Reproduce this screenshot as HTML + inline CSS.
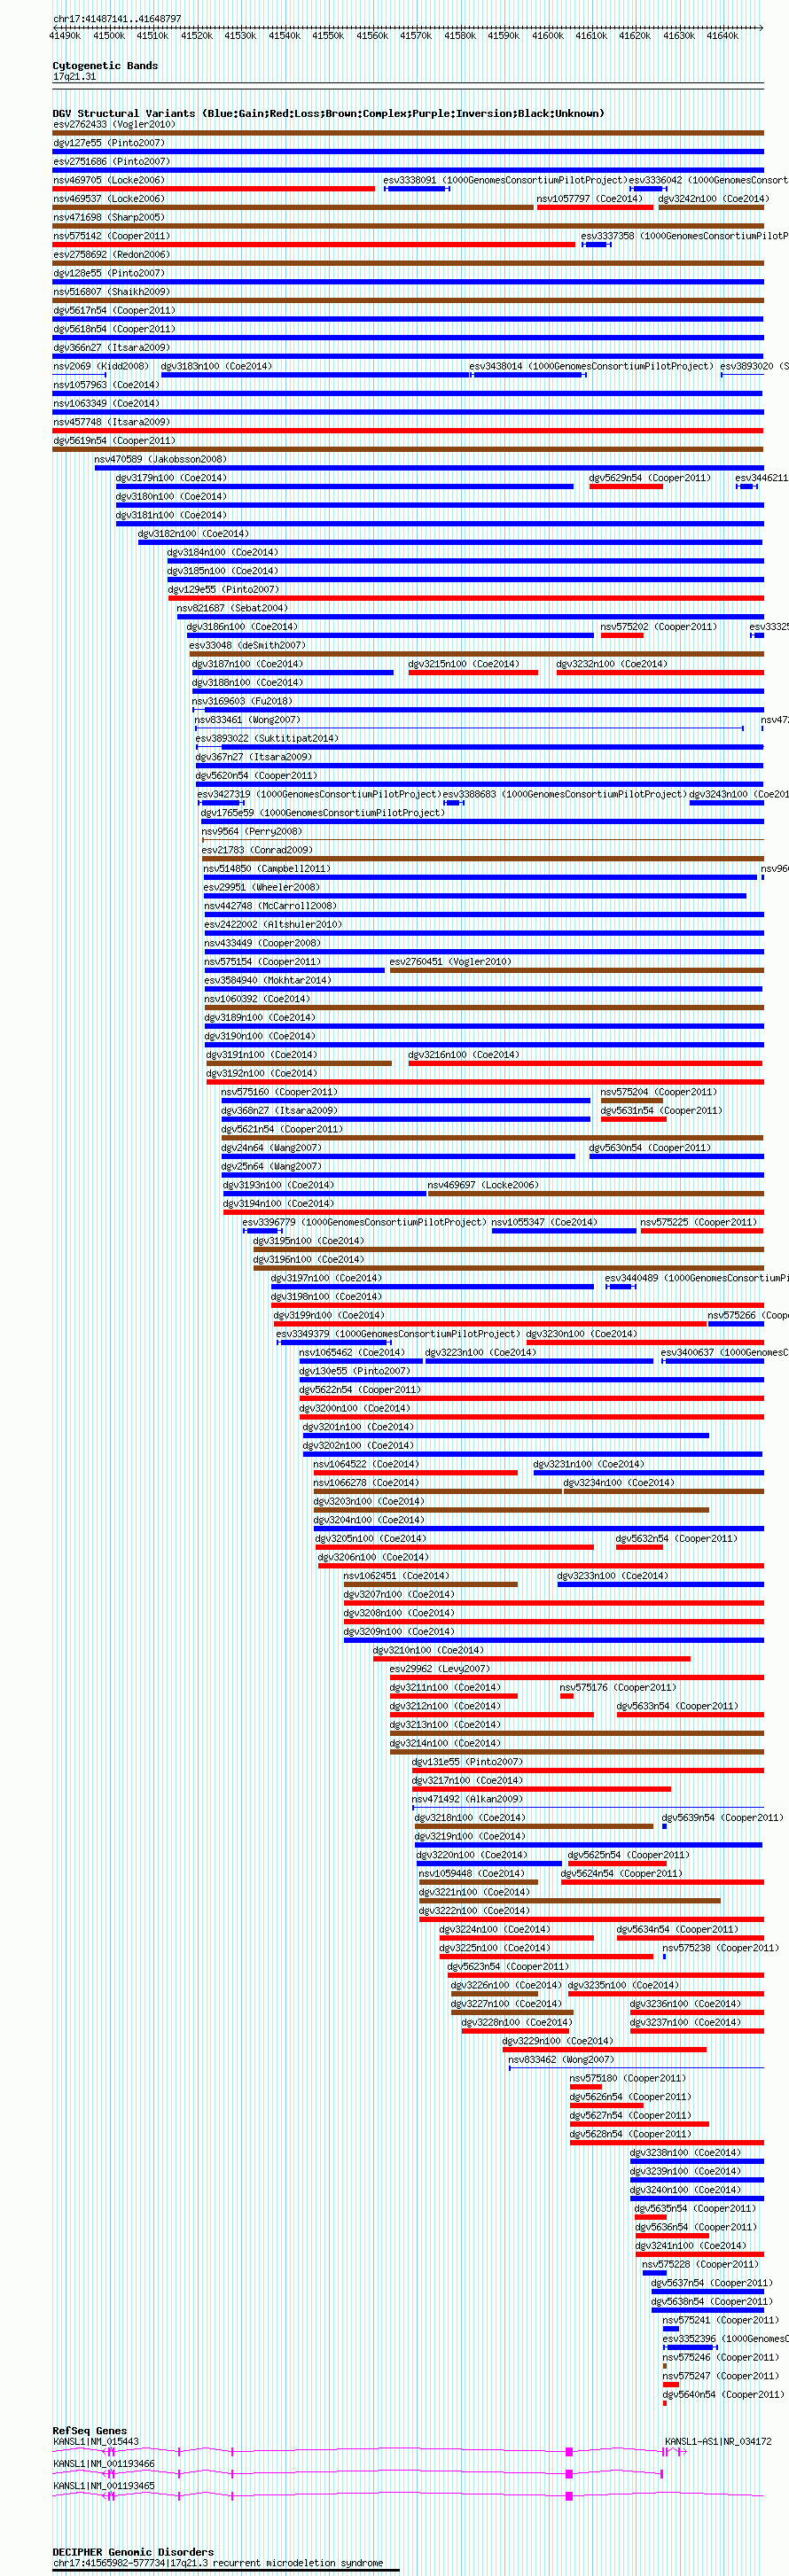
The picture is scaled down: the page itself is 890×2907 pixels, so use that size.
<!DOCTYPE html>
<html><head><meta charset="utf-8"><style>
html,body{margin:0;padding:0;background:#fbfdfb;}
svg{display:block;}
rect,path,use{shape-rendering:crispEdges;}
</style></head><body>
<svg width="890" height="2907" viewBox="0 0 890 2907">
<defs>
<path id="b40" d="M3 2h2v1h-2zM2 3h2v1h-2zM2 4h2v1h-2zM1 5h2v1h-2zM1 6h2v1h-2zM1 7h2v1h-2zM2 8h2v1h-2zM2 9h2v1h-2zM3 10h2v1h-2z"/>
<path id="b41" d="M1 2h2v1h-2zM2 3h2v1h-2zM2 4h2v1h-2zM3 5h2v1h-2zM3 6h2v1h-2zM3 7h2v1h-2zM2 8h2v1h-2zM2 9h2v1h-2zM1 10h2v1h-2z"/>
<path id="b58" d="M2 4h2v1h-2zM1 5h4v1h-4zM2 6h2v1h-2zM2 9h2v1h-2zM1 10h4v1h-4zM2 11h2v1h-2z"/>
<path id="b59" d="M2 4h2v1h-2zM1 5h4v1h-4zM2 6h2v1h-2zM2 8h3v1h-3zM2 9h3v1h-3zM2 10h2v1h-2zM1 11h2v1h-2z"/>
<path id="b66" d="M0 3h5v1h-5zM0 4h2v1h-2zM4 4h2v1h-2zM0 5h2v1h-2zM4 5h2v1h-2zM0 6h5v1h-5zM0 7h2v1h-2zM4 7h2v1h-2zM0 8h2v1h-2zM4 8h2v1h-2zM0 9h2v1h-2zM4 9h2v1h-2zM0 10h5v1h-5z"/>
<path id="b67" d="M1 3h4v1h-4zM0 4h2v1h-2zM4 4h2v1h-2zM0 5h2v1h-2zM0 6h2v1h-2zM0 7h2v1h-2zM0 8h2v1h-2zM0 9h2v1h-2zM4 9h2v1h-2zM1 10h4v1h-4z"/>
<path id="b68" d="M0 3h5v1h-5zM0 4h2v1h-2zM4 4h2v1h-2zM0 5h2v1h-2zM4 5h2v1h-2zM0 6h2v1h-2zM4 6h2v1h-2zM0 7h2v1h-2zM4 7h2v1h-2zM0 8h2v1h-2zM4 8h2v1h-2zM0 9h2v1h-2zM4 9h2v1h-2zM0 10h5v1h-5z"/>
<path id="b69" d="M0 3h6v1h-6zM0 4h2v1h-2zM0 5h2v1h-2zM0 6h5v1h-5zM0 7h2v1h-2zM0 8h2v1h-2zM0 9h2v1h-2zM0 10h6v1h-6z"/>
<path id="b71" d="M1 3h4v1h-4zM0 4h2v1h-2zM4 4h2v1h-2zM0 5h2v1h-2zM0 6h2v1h-2zM0 7h2v1h-2zM3 7h3v1h-3zM0 8h2v1h-2zM4 8h2v1h-2zM0 9h2v1h-2zM4 9h2v1h-2zM1 10h5v1h-5z"/>
<path id="b72" d="M0 3h2v1h-2zM4 3h2v1h-2zM0 4h2v1h-2zM4 4h2v1h-2zM0 5h2v1h-2zM4 5h2v1h-2zM0 6h6v1h-6zM0 7h2v1h-2zM4 7h2v1h-2zM0 8h2v1h-2zM4 8h2v1h-2zM0 9h2v1h-2zM4 9h2v1h-2zM0 10h2v1h-2zM4 10h2v1h-2z"/>
<path id="b73" d="M0 3h6v1h-6zM2 4h2v1h-2zM2 5h2v1h-2zM2 6h2v1h-2zM2 7h2v1h-2zM2 8h2v1h-2zM2 9h2v1h-2zM0 10h6v1h-6z"/>
<path id="b76" d="M0 3h2v1h-2zM0 4h2v1h-2zM0 5h2v1h-2zM0 6h2v1h-2zM0 7h2v1h-2zM0 8h2v1h-2zM0 9h2v1h-2zM0 10h6v1h-6z"/>
<path id="b80" d="M0 3h5v1h-5zM0 4h2v1h-2zM4 4h2v1h-2zM0 5h2v1h-2zM4 5h2v1h-2zM0 6h5v1h-5zM0 7h2v1h-2zM0 8h2v1h-2zM0 9h2v1h-2zM0 10h2v1h-2z"/>
<path id="b82" d="M0 3h5v1h-5zM0 4h2v1h-2zM4 4h2v1h-2zM0 5h2v1h-2zM4 5h2v1h-2zM0 6h5v1h-5zM0 7h4v1h-4zM0 8h2v1h-2zM3 8h2v1h-2zM0 9h2v1h-2zM4 9h2v1h-2zM0 10h2v1h-2zM4 10h2v1h-2z"/>
<path id="b83" d="M1 3h4v1h-4zM0 4h2v1h-2zM4 4h2v1h-2zM0 5h2v1h-2zM1 6h4v1h-4zM4 7h2v1h-2zM4 8h2v1h-2zM0 9h2v1h-2zM4 9h2v1h-2zM1 10h4v1h-4z"/>
<path id="b85" d="M0 3h2v1h-2zM4 3h2v1h-2zM0 4h2v1h-2zM4 4h2v1h-2zM0 5h2v1h-2zM4 5h2v1h-2zM0 6h2v1h-2zM4 6h2v1h-2zM0 7h2v1h-2zM4 7h2v1h-2zM0 8h2v1h-2zM4 8h2v1h-2zM0 9h2v1h-2zM4 9h2v1h-2zM1 10h4v1h-4z"/>
<path id="b86" d="M0 3h2v1h-2zM4 3h2v1h-2zM0 4h2v1h-2zM4 4h2v1h-2zM0 5h2v1h-2zM4 5h2v1h-2zM1 6h1v1h-1zM4 6h1v1h-1zM1 7h1v1h-1zM4 7h1v1h-1zM1 8h4v1h-4zM2 9h2v1h-2zM2 10h2v1h-2z"/>
<path id="b97" d="M1 5h4v1h-4zM4 6h2v1h-2zM1 7h5v1h-5zM0 8h2v1h-2zM4 8h2v1h-2zM0 9h2v1h-2zM4 9h2v1h-2zM1 10h5v1h-5z"/>
<path id="b99" d="M1 5h4v1h-4zM0 6h2v1h-2zM4 6h2v1h-2zM0 7h2v1h-2zM0 8h2v1h-2zM0 9h2v1h-2zM4 9h2v1h-2zM1 10h4v1h-4z"/>
<path id="b100" d="M4 2h2v1h-2zM4 3h2v1h-2zM4 4h2v1h-2zM1 5h5v1h-5zM0 6h2v1h-2zM4 6h2v1h-2zM0 7h2v1h-2zM4 7h2v1h-2zM0 8h2v1h-2zM4 8h2v1h-2zM0 9h2v1h-2zM4 9h2v1h-2zM1 10h5v1h-5z"/>
<path id="b101" d="M1 5h4v1h-4zM0 6h2v1h-2zM4 6h2v1h-2zM0 7h6v1h-6zM0 8h2v1h-2zM0 9h2v1h-2zM4 9h2v1h-2zM1 10h4v1h-4z"/>
<path id="b102" d="M2 2h3v1h-3zM1 3h2v1h-2zM4 3h2v1h-2zM1 4h2v1h-2zM1 5h2v1h-2zM0 6h4v1h-4zM1 7h2v1h-2zM1 8h2v1h-2zM1 9h2v1h-2zM1 10h2v1h-2z"/>
<path id="b103" d="M1 5h3v1h-3zM5 5h1v1h-1zM0 6h2v1h-2zM4 6h2v1h-2zM0 7h2v1h-2zM4 7h2v1h-2zM1 8h4v1h-4zM0 9h2v1h-2zM1 10h4v1h-4zM0 11h2v1h-2zM4 11h2v1h-2zM1 12h4v1h-4z"/>
<path id="b105" d="M2 2h2v1h-2zM2 3h2v1h-2zM1 5h3v1h-3zM2 6h2v1h-2zM2 7h2v1h-2zM2 8h2v1h-2zM2 9h2v1h-2zM0 10h6v1h-6z"/>
<path id="b107" d="M0 2h2v1h-2zM0 3h2v1h-2zM0 4h2v1h-2zM0 5h2v1h-2zM4 5h2v1h-2zM0 6h2v1h-2zM3 6h2v1h-2zM0 7h4v1h-4zM0 8h4v1h-4zM0 9h2v1h-2zM3 9h2v1h-2zM0 10h2v1h-2zM4 10h2v1h-2z"/>
<path id="b108" d="M1 2h3v1h-3zM2 3h2v1h-2zM2 4h2v1h-2zM2 5h2v1h-2zM2 6h2v1h-2zM2 7h2v1h-2zM2 8h2v1h-2zM2 9h2v1h-2zM0 10h6v1h-6z"/>
<path id="b109" d="M0 5h2v1h-2zM3 5h2v1h-2zM0 6h6v1h-6zM0 7h6v1h-6zM0 8h2v1h-2zM4 8h2v1h-2zM0 9h2v1h-2zM4 9h2v1h-2zM0 10h2v1h-2zM4 10h2v1h-2z"/>
<path id="b110" d="M0 5h5v1h-5zM0 6h2v1h-2zM4 6h2v1h-2zM0 7h2v1h-2zM4 7h2v1h-2zM0 8h2v1h-2zM4 8h2v1h-2zM0 9h2v1h-2zM4 9h2v1h-2zM0 10h2v1h-2zM4 10h2v1h-2z"/>
<path id="b111" d="M1 5h4v1h-4zM0 6h2v1h-2zM4 6h2v1h-2zM0 7h2v1h-2zM4 7h2v1h-2zM0 8h2v1h-2zM4 8h2v1h-2zM0 9h2v1h-2zM4 9h2v1h-2zM1 10h4v1h-4z"/>
<path id="b112" d="M0 5h5v1h-5zM0 6h2v1h-2zM4 6h2v1h-2zM0 7h2v1h-2zM4 7h2v1h-2zM0 8h2v1h-2zM4 8h2v1h-2zM0 9h5v1h-5zM0 10h2v1h-2zM0 11h2v1h-2zM0 12h2v1h-2z"/>
<path id="b113" d="M1 5h5v1h-5zM0 6h2v1h-2zM4 6h2v1h-2zM0 7h2v1h-2zM4 7h2v1h-2zM0 8h2v1h-2zM4 8h2v1h-2zM1 9h5v1h-5zM4 10h2v1h-2zM4 11h2v1h-2zM4 12h2v1h-2z"/>
<path id="b114" d="M0 5h5v1h-5zM0 6h2v1h-2zM4 6h2v1h-2zM0 7h2v1h-2zM0 8h2v1h-2zM0 9h2v1h-2zM0 10h2v1h-2z"/>
<path id="b115" d="M1 5h4v1h-4zM0 6h2v1h-2zM4 6h2v1h-2zM1 7h2v1h-2zM3 8h2v1h-2zM0 9h2v1h-2zM4 9h2v1h-2zM1 10h4v1h-4z"/>
<path id="b116" d="M1 3h2v1h-2zM1 4h2v1h-2zM0 5h5v1h-5zM1 6h2v1h-2zM1 7h2v1h-2zM1 8h2v1h-2zM1 9h2v1h-2zM4 9h2v1h-2zM2 10h3v1h-3z"/>
<path id="b117" d="M0 5h2v1h-2zM4 5h2v1h-2zM0 6h2v1h-2zM4 6h2v1h-2zM0 7h2v1h-2zM4 7h2v1h-2zM0 8h2v1h-2zM4 8h2v1h-2zM0 9h2v1h-2zM4 9h2v1h-2zM1 10h5v1h-5z"/>
<path id="b118" d="M0 5h2v1h-2zM4 5h2v1h-2zM0 6h2v1h-2zM4 6h2v1h-2zM0 7h2v1h-2zM4 7h2v1h-2zM1 8h4v1h-4zM1 9h4v1h-4zM2 10h2v1h-2z"/>
<path id="b119" d="M0 5h2v1h-2zM4 5h2v1h-2zM0 6h2v1h-2zM4 6h2v1h-2zM0 7h2v1h-2zM4 7h2v1h-2zM0 8h6v1h-6zM0 9h6v1h-6zM1 10h1v1h-1zM4 10h1v1h-1z"/>
<path id="b120" d="M0 5h2v1h-2zM4 5h2v1h-2zM0 6h2v1h-2zM4 6h2v1h-2zM1 7h4v1h-4zM1 8h4v1h-4zM0 9h2v1h-2zM4 9h2v1h-2zM0 10h2v1h-2zM4 10h2v1h-2z"/>
<path id="b121" d="M0 5h2v1h-2zM4 5h2v1h-2zM0 6h2v1h-2zM4 6h2v1h-2zM0 7h2v1h-2zM4 7h2v1h-2zM0 8h2v1h-2zM4 8h2v1h-2zM1 9h5v1h-5zM4 10h2v1h-2zM4 11h2v1h-2zM1 12h4v1h-4z"/>
<path id="s40" d="M3 3h1v1h-1zM2 4h1v1h-1zM1 5h1v1h-1zM1 6h1v1h-1zM1 7h1v1h-1zM1 8h1v1h-1zM2 9h1v1h-1zM3 10h1v1h-1z"/>
<path id="s41" d="M1 3h1v1h-1zM2 4h1v1h-1zM3 5h1v1h-1zM3 6h1v1h-1zM3 7h1v1h-1zM3 8h1v1h-1zM2 9h1v1h-1zM1 10h1v1h-1z"/>
<path id="s45" d="M0 7h5v1h-5z"/>
<path id="s46" d="M2 9h2v1h-2zM2 10h2v1h-2z"/>
<path id="s48" d="M2 3h1v1h-1zM1 4h1v1h-1zM3 4h1v1h-1zM0 5h1v1h-1zM4 5h1v1h-1zM0 6h1v1h-1zM4 6h1v1h-1zM0 7h1v1h-1zM4 7h1v1h-1zM0 8h1v1h-1zM4 8h1v1h-1zM1 9h1v1h-1zM3 9h1v1h-1zM2 10h1v1h-1z"/>
<path id="s49" d="M2 3h1v1h-1zM1 4h2v1h-2zM0 5h1v1h-1zM2 5h1v1h-1zM2 6h1v1h-1zM2 7h1v1h-1zM2 8h1v1h-1zM2 9h1v1h-1zM0 10h5v1h-5z"/>
<path id="s50" d="M1 3h3v1h-3zM0 4h1v1h-1zM4 4h1v1h-1zM4 5h1v1h-1zM3 6h1v1h-1zM2 7h1v1h-1zM1 8h1v1h-1zM0 9h1v1h-1zM0 10h5v1h-5z"/>
<path id="s51" d="M1 3h3v1h-3zM0 4h1v1h-1zM4 4h1v1h-1zM4 5h1v1h-1zM2 6h2v1h-2zM4 7h1v1h-1zM4 8h1v1h-1zM0 9h1v1h-1zM4 9h1v1h-1zM1 10h3v1h-3z"/>
<path id="s52" d="M3 3h1v1h-1zM2 4h2v1h-2zM1 5h1v1h-1zM3 5h1v1h-1zM0 6h1v1h-1zM3 6h1v1h-1zM0 7h1v1h-1zM3 7h1v1h-1zM0 8h5v1h-5zM3 9h1v1h-1zM3 10h1v1h-1z"/>
<path id="s53" d="M0 3h5v1h-5zM0 4h1v1h-1zM0 5h4v1h-4zM0 6h1v1h-1zM4 6h1v1h-1zM4 7h1v1h-1zM4 8h1v1h-1zM0 9h1v1h-1zM4 9h1v1h-1zM1 10h3v1h-3z"/>
<path id="s54" d="M2 3h3v1h-3zM1 4h1v1h-1zM0 5h1v1h-1zM0 6h4v1h-4zM0 7h1v1h-1zM4 7h1v1h-1zM0 8h1v1h-1zM4 8h1v1h-1zM0 9h1v1h-1zM4 9h1v1h-1zM1 10h3v1h-3z"/>
<path id="s55" d="M0 3h5v1h-5zM4 4h1v1h-1zM3 5h1v1h-1zM3 6h1v1h-1zM2 7h1v1h-1zM2 8h1v1h-1zM1 9h1v1h-1zM1 10h1v1h-1z"/>
<path id="s56" d="M1 3h3v1h-3zM0 4h1v1h-1zM4 4h1v1h-1zM0 5h1v1h-1zM4 5h1v1h-1zM1 6h3v1h-3zM0 7h1v1h-1zM4 7h1v1h-1zM0 8h1v1h-1zM4 8h1v1h-1zM0 9h1v1h-1zM4 9h1v1h-1zM1 10h3v1h-3z"/>
<path id="s57" d="M1 3h3v1h-3zM0 4h1v1h-1zM4 4h1v1h-1zM0 5h1v1h-1zM4 5h1v1h-1zM0 6h1v1h-1zM4 6h1v1h-1zM1 7h4v1h-4zM4 8h1v1h-1zM3 9h1v1h-1zM0 10h3v1h-3z"/>
<path id="s58" d="M2 5h2v1h-2zM2 6h2v1h-2zM2 9h2v1h-2zM2 10h2v1h-2z"/>
<path id="s65" d="M2 3h1v1h-1zM1 4h1v1h-1zM3 4h1v1h-1zM0 5h1v1h-1zM4 5h1v1h-1zM0 6h1v1h-1zM4 6h1v1h-1zM0 7h5v1h-5zM0 8h1v1h-1zM4 8h1v1h-1zM0 9h1v1h-1zM4 9h1v1h-1zM0 10h1v1h-1zM4 10h1v1h-1z"/>
<path id="s67" d="M1 3h3v1h-3zM0 4h1v1h-1zM4 4h1v1h-1zM0 5h1v1h-1zM0 6h1v1h-1zM0 7h1v1h-1zM0 8h1v1h-1zM0 9h1v1h-1zM4 9h1v1h-1zM1 10h3v1h-3z"/>
<path id="s70" d="M0 3h5v1h-5zM0 4h1v1h-1zM0 5h1v1h-1zM0 6h4v1h-4zM0 7h1v1h-1zM0 8h1v1h-1zM0 9h1v1h-1zM0 10h1v1h-1z"/>
<path id="s71" d="M1 3h3v1h-3zM0 4h1v1h-1zM4 4h1v1h-1zM0 5h1v1h-1zM0 6h1v1h-1zM0 7h1v1h-1zM3 7h2v1h-2zM0 8h1v1h-1zM4 8h1v1h-1zM0 9h1v1h-1zM4 9h1v1h-1zM1 10h3v1h-3z"/>
<path id="s73" d="M1 3h3v1h-3zM2 4h1v1h-1zM2 5h1v1h-1zM2 6h1v1h-1zM2 7h1v1h-1zM2 8h1v1h-1zM2 9h1v1h-1zM1 10h3v1h-3z"/>
<path id="s74" d="M3 3h1v1h-1zM3 4h1v1h-1zM3 5h1v1h-1zM3 6h1v1h-1zM3 7h1v1h-1zM3 8h1v1h-1zM0 9h1v1h-1zM3 9h1v1h-1zM1 10h2v1h-2z"/>
<path id="s75" d="M0 3h1v1h-1zM4 3h1v1h-1zM0 4h1v1h-1zM4 4h1v1h-1zM0 5h1v1h-1zM3 5h1v1h-1zM0 6h1v1h-1zM2 6h1v1h-1zM0 7h3v1h-3zM0 8h1v1h-1zM3 8h1v1h-1zM0 9h1v1h-1zM4 9h1v1h-1zM0 10h1v1h-1zM4 10h1v1h-1z"/>
<path id="s76" d="M0 3h1v1h-1zM0 4h1v1h-1zM0 5h1v1h-1zM0 6h1v1h-1zM0 7h1v1h-1zM0 8h1v1h-1zM0 9h1v1h-1zM0 10h5v1h-5z"/>
<path id="s77" d="M0 3h1v1h-1zM4 3h1v1h-1zM0 4h2v1h-2zM3 4h2v1h-2zM0 5h1v1h-1zM2 5h1v1h-1zM4 5h1v1h-1zM0 6h1v1h-1zM2 6h1v1h-1zM4 6h1v1h-1zM0 7h1v1h-1zM4 7h1v1h-1zM0 8h1v1h-1zM4 8h1v1h-1zM0 9h1v1h-1zM4 9h1v1h-1zM0 10h1v1h-1zM4 10h1v1h-1z"/>
<path id="s78" d="M0 3h1v1h-1zM4 3h1v1h-1zM0 4h2v1h-2zM4 4h1v1h-1zM0 5h2v1h-2zM4 5h1v1h-1zM0 6h1v1h-1zM2 6h1v1h-1zM4 6h1v1h-1zM0 7h1v1h-1zM2 7h1v1h-1zM4 7h1v1h-1zM0 8h1v1h-1zM3 8h2v1h-2zM0 9h1v1h-1zM3 9h2v1h-2zM0 10h1v1h-1zM4 10h1v1h-1z"/>
<path id="s80" d="M0 3h4v1h-4zM0 4h1v1h-1zM4 4h1v1h-1zM0 5h1v1h-1zM4 5h1v1h-1zM0 6h1v1h-1zM4 6h1v1h-1zM0 7h4v1h-4zM0 8h1v1h-1zM0 9h1v1h-1zM0 10h1v1h-1z"/>
<path id="s82" d="M0 3h4v1h-4zM0 4h1v1h-1zM4 4h1v1h-1zM0 5h1v1h-1zM4 5h1v1h-1zM0 6h1v1h-1zM4 6h1v1h-1zM0 7h4v1h-4zM0 8h1v1h-1zM2 8h1v1h-1zM0 9h1v1h-1zM3 9h1v1h-1zM0 10h1v1h-1zM4 10h1v1h-1z"/>
<path id="s83" d="M1 3h3v1h-3zM0 4h1v1h-1zM4 4h1v1h-1zM0 5h1v1h-1zM1 6h2v1h-2zM3 7h1v1h-1zM4 8h1v1h-1zM0 9h1v1h-1zM4 9h1v1h-1zM1 10h3v1h-3z"/>
<path id="s86" d="M0 3h1v1h-1zM4 3h1v1h-1zM0 4h1v1h-1zM4 4h1v1h-1zM0 5h1v1h-1zM4 5h1v1h-1zM1 6h1v1h-1zM3 6h1v1h-1zM1 7h1v1h-1zM3 7h1v1h-1zM1 8h1v1h-1zM3 8h1v1h-1zM2 9h1v1h-1zM2 10h1v1h-1z"/>
<path id="s87" d="M0 3h1v1h-1zM4 3h1v1h-1zM0 4h1v1h-1zM4 4h1v1h-1zM0 5h1v1h-1zM2 5h1v1h-1zM4 5h1v1h-1zM0 6h1v1h-1zM2 6h1v1h-1zM4 6h1v1h-1zM0 7h1v1h-1zM2 7h1v1h-1zM4 7h1v1h-1zM0 8h1v1h-1zM2 8h1v1h-1zM4 8h1v1h-1zM0 9h2v1h-2zM3 9h2v1h-2zM1 10h1v1h-1zM3 10h1v1h-1z"/>
<path id="s95" d="M0 11h5v1h-5z"/>
<path id="s97" d="M1 5h3v1h-3zM4 6h1v1h-1zM1 7h4v1h-4zM0 8h1v1h-1zM4 8h1v1h-1zM0 9h1v1h-1zM3 9h2v1h-2zM1 10h2v1h-2zM4 10h1v1h-1z"/>
<path id="s98" d="M0 3h1v1h-1zM0 4h1v1h-1zM0 5h1v1h-1zM2 5h2v1h-2zM0 6h2v1h-2zM4 6h1v1h-1zM0 7h1v1h-1zM4 7h1v1h-1zM0 8h1v1h-1zM4 8h1v1h-1zM0 9h2v1h-2zM4 9h1v1h-1zM0 10h1v1h-1zM2 10h2v1h-2z"/>
<path id="s99" d="M1 5h3v1h-3zM0 6h1v1h-1zM4 6h1v1h-1zM0 7h1v1h-1zM0 8h1v1h-1zM0 9h1v1h-1zM4 9h1v1h-1zM1 10h3v1h-3z"/>
<path id="s100" d="M4 3h1v1h-1zM4 4h1v1h-1zM1 5h2v1h-2zM4 5h1v1h-1zM0 6h1v1h-1zM3 6h2v1h-2zM0 7h1v1h-1zM4 7h1v1h-1zM0 8h1v1h-1zM4 8h1v1h-1zM0 9h1v1h-1zM3 9h2v1h-2zM1 10h2v1h-2zM4 10h1v1h-1z"/>
<path id="s101" d="M1 5h3v1h-3zM0 6h1v1h-1zM4 6h1v1h-1zM0 7h5v1h-5zM0 8h1v1h-1zM0 9h1v1h-1zM1 10h3v1h-3z"/>
<path id="s103" d="M4 4h1v1h-1zM1 5h3v1h-3zM0 6h1v1h-1zM4 6h1v1h-1zM0 7h1v1h-1zM4 7h1v1h-1zM1 8h3v1h-3zM0 9h1v1h-1zM1 10h3v1h-3zM0 11h1v1h-1zM4 11h1v1h-1zM1 12h3v1h-3z"/>
<path id="s104" d="M0 3h1v1h-1zM0 4h1v1h-1zM0 5h1v1h-1zM2 5h2v1h-2zM0 6h2v1h-2zM4 6h1v1h-1zM0 7h1v1h-1zM4 7h1v1h-1zM0 8h1v1h-1zM4 8h1v1h-1zM0 9h1v1h-1zM4 9h1v1h-1zM0 10h1v1h-1zM4 10h1v1h-1z"/>
<path id="s105" d="M2 3h1v1h-1zM1 5h2v1h-2zM2 6h1v1h-1zM2 7h1v1h-1zM2 8h1v1h-1zM2 9h1v1h-1zM1 10h3v1h-3z"/>
<path id="s106" d="M3 3h1v1h-1zM2 5h2v1h-2zM3 6h1v1h-1zM3 7h1v1h-1zM3 8h1v1h-1zM3 9h1v1h-1zM0 10h1v1h-1zM3 10h1v1h-1zM0 11h1v1h-1zM3 11h1v1h-1zM1 12h2v1h-2z"/>
<path id="s107" d="M0 3h1v1h-1zM0 4h1v1h-1zM0 5h1v1h-1zM3 5h1v1h-1zM0 6h1v1h-1zM2 6h1v1h-1zM0 7h2v1h-2zM0 8h1v1h-1zM2 8h1v1h-1zM0 9h1v1h-1zM3 9h1v1h-1zM0 10h1v1h-1zM4 10h1v1h-1z"/>
<path id="s108" d="M1 3h2v1h-2zM2 4h1v1h-1zM2 5h1v1h-1zM2 6h1v1h-1zM2 7h1v1h-1zM2 8h1v1h-1zM2 9h1v1h-1zM1 10h3v1h-3z"/>
<path id="s109" d="M0 5h2v1h-2zM3 5h1v1h-1zM0 6h1v1h-1zM2 6h1v1h-1zM4 6h1v1h-1zM0 7h1v1h-1zM2 7h1v1h-1zM4 7h1v1h-1zM0 8h1v1h-1zM2 8h1v1h-1zM4 8h1v1h-1zM0 9h1v1h-1zM2 9h1v1h-1zM4 9h1v1h-1zM0 10h1v1h-1zM4 10h1v1h-1z"/>
<path id="s110" d="M0 5h1v1h-1zM2 5h2v1h-2zM0 6h2v1h-2zM4 6h1v1h-1zM0 7h1v1h-1zM4 7h1v1h-1zM0 8h1v1h-1zM4 8h1v1h-1zM0 9h1v1h-1zM4 9h1v1h-1zM0 10h1v1h-1zM4 10h1v1h-1z"/>
<path id="s111" d="M1 5h3v1h-3zM0 6h1v1h-1zM4 6h1v1h-1zM0 7h1v1h-1zM4 7h1v1h-1zM0 8h1v1h-1zM4 8h1v1h-1zM0 9h1v1h-1zM4 9h1v1h-1zM1 10h3v1h-3z"/>
<path id="s112" d="M0 5h1v1h-1zM2 5h2v1h-2zM0 6h2v1h-2zM4 6h1v1h-1zM0 7h1v1h-1zM4 7h1v1h-1zM0 8h1v1h-1zM4 8h1v1h-1zM0 9h2v1h-2zM4 9h1v1h-1zM0 10h1v1h-1zM2 10h2v1h-2zM0 11h1v1h-1zM0 12h1v1h-1z"/>
<path id="s113" d="M1 5h2v1h-2zM4 5h1v1h-1zM0 6h1v1h-1zM3 6h2v1h-2zM0 7h1v1h-1zM4 7h1v1h-1zM0 8h1v1h-1zM4 8h1v1h-1zM0 9h1v1h-1zM3 9h2v1h-2zM1 10h2v1h-2zM4 10h1v1h-1zM4 11h1v1h-1zM4 12h1v1h-1z"/>
<path id="s114" d="M0 5h1v1h-1zM2 5h2v1h-2zM0 6h2v1h-2zM4 6h1v1h-1zM0 7h1v1h-1zM0 8h1v1h-1zM0 9h1v1h-1zM0 10h1v1h-1z"/>
<path id="s115" d="M1 5h3v1h-3zM0 6h1v1h-1zM4 6h1v1h-1zM1 7h2v1h-2zM3 8h1v1h-1zM0 9h1v1h-1zM4 9h1v1h-1zM1 10h3v1h-3z"/>
<path id="s116" d="M1 3h1v1h-1zM1 4h1v1h-1zM0 5h4v1h-4zM1 6h1v1h-1zM1 7h1v1h-1zM1 8h1v1h-1zM1 9h1v1h-1zM4 9h1v1h-1zM2 10h2v1h-2z"/>
<path id="s117" d="M0 5h1v1h-1zM4 5h1v1h-1zM0 6h1v1h-1zM4 6h1v1h-1zM0 7h1v1h-1zM4 7h1v1h-1zM0 8h1v1h-1zM4 8h1v1h-1zM0 9h1v1h-1zM3 9h2v1h-2zM1 10h2v1h-2zM4 10h1v1h-1z"/>
<path id="s118" d="M0 5h1v1h-1zM4 5h1v1h-1zM0 6h1v1h-1zM4 6h1v1h-1zM0 7h1v1h-1zM4 7h1v1h-1zM1 8h1v1h-1zM3 8h1v1h-1zM1 9h1v1h-1zM3 9h1v1h-1zM2 10h1v1h-1z"/>
<path id="s121" d="M0 5h1v1h-1zM4 5h1v1h-1zM0 6h1v1h-1zM4 6h1v1h-1zM0 7h1v1h-1zM4 7h1v1h-1zM0 8h1v1h-1zM3 8h2v1h-2zM1 9h2v1h-2zM4 9h1v1h-1zM4 10h1v1h-1zM3 11h1v1h-1zM0 12h3v1h-3z"/>
<path id="s124" d="M2 3h1v1h-1zM2 4h1v1h-1zM2 5h1v1h-1zM2 6h1v1h-1zM2 7h1v1h-1zM2 8h1v1h-1zM2 9h1v1h-1zM2 10h1v1h-1zM2 11h1v1h-1z"/>
</defs>
<rect x="0" y="0" width="890" height="2907" fill="#fbfdfb"/>
<rect x="59" y="0" width="1" height="2907" fill="#afeeee"/>
<rect x="64" y="0" width="1" height="2907" fill="#afeeee"/>
<rect x="69" y="0" width="1" height="2907" fill="#afeeee"/>
<rect x="74" y="0" width="1" height="2907" fill="#87ceeb"/>
<rect x="79" y="0" width="1" height="2907" fill="#afeeee"/>
<rect x="84" y="0" width="1" height="2907" fill="#afeeee"/>
<rect x="89" y="0" width="1" height="2907" fill="#afeeee"/>
<rect x="94" y="0" width="1" height="2907" fill="#afeeee"/>
<rect x="99" y="0" width="1" height="2907" fill="#afeeee"/>
<rect x="104" y="0" width="1" height="2907" fill="#afeeee"/>
<rect x="109" y="0" width="1" height="2907" fill="#afeeee"/>
<rect x="114" y="0" width="1" height="2907" fill="#afeeee"/>
<rect x="119" y="0" width="1" height="2907" fill="#afeeee"/>
<rect x="124" y="0" width="1" height="2907" fill="#87ceeb"/>
<rect x="129" y="0" width="1" height="2907" fill="#afeeee"/>
<rect x="134" y="0" width="1" height="2907" fill="#afeeee"/>
<rect x="138" y="0" width="1" height="2907" fill="#afeeee"/>
<rect x="143" y="0" width="1" height="2907" fill="#afeeee"/>
<rect x="148" y="0" width="1" height="2907" fill="#afeeee"/>
<rect x="153" y="0" width="1" height="2907" fill="#afeeee"/>
<rect x="158" y="0" width="1" height="2907" fill="#afeeee"/>
<rect x="163" y="0" width="1" height="2907" fill="#afeeee"/>
<rect x="168" y="0" width="1" height="2907" fill="#afeeee"/>
<rect x="173" y="0" width="1" height="2907" fill="#87ceeb"/>
<rect x="178" y="0" width="1" height="2907" fill="#afeeee"/>
<rect x="183" y="0" width="1" height="2907" fill="#afeeee"/>
<rect x="188" y="0" width="1" height="2907" fill="#afeeee"/>
<rect x="193" y="0" width="1" height="2907" fill="#afeeee"/>
<rect x="198" y="0" width="1" height="2907" fill="#afeeee"/>
<rect x="203" y="0" width="1" height="2907" fill="#afeeee"/>
<rect x="208" y="0" width="1" height="2907" fill="#afeeee"/>
<rect x="213" y="0" width="1" height="2907" fill="#afeeee"/>
<rect x="218" y="0" width="1" height="2907" fill="#afeeee"/>
<rect x="223" y="0" width="1" height="2907" fill="#87ceeb"/>
<rect x="228" y="0" width="1" height="2907" fill="#afeeee"/>
<rect x="233" y="0" width="1" height="2907" fill="#afeeee"/>
<rect x="237" y="0" width="1" height="2907" fill="#afeeee"/>
<rect x="242" y="0" width="1" height="2907" fill="#afeeee"/>
<rect x="247" y="0" width="1" height="2907" fill="#afeeee"/>
<rect x="252" y="0" width="1" height="2907" fill="#afeeee"/>
<rect x="257" y="0" width="1" height="2907" fill="#afeeee"/>
<rect x="262" y="0" width="1" height="2907" fill="#afeeee"/>
<rect x="267" y="0" width="1" height="2907" fill="#afeeee"/>
<rect x="272" y="0" width="1" height="2907" fill="#87ceeb"/>
<rect x="277" y="0" width="1" height="2907" fill="#afeeee"/>
<rect x="282" y="0" width="1" height="2907" fill="#afeeee"/>
<rect x="287" y="0" width="1" height="2907" fill="#afeeee"/>
<rect x="292" y="0" width="1" height="2907" fill="#afeeee"/>
<rect x="297" y="0" width="1" height="2907" fill="#afeeee"/>
<rect x="302" y="0" width="1" height="2907" fill="#afeeee"/>
<rect x="307" y="0" width="1" height="2907" fill="#afeeee"/>
<rect x="312" y="0" width="1" height="2907" fill="#afeeee"/>
<rect x="317" y="0" width="1" height="2907" fill="#afeeee"/>
<rect x="322" y="0" width="1" height="2907" fill="#87ceeb"/>
<rect x="327" y="0" width="1" height="2907" fill="#afeeee"/>
<rect x="331" y="0" width="1" height="2907" fill="#afeeee"/>
<rect x="336" y="0" width="1" height="2907" fill="#afeeee"/>
<rect x="341" y="0" width="1" height="2907" fill="#afeeee"/>
<rect x="346" y="0" width="1" height="2907" fill="#afeeee"/>
<rect x="351" y="0" width="1" height="2907" fill="#afeeee"/>
<rect x="356" y="0" width="1" height="2907" fill="#afeeee"/>
<rect x="361" y="0" width="1" height="2907" fill="#afeeee"/>
<rect x="366" y="0" width="1" height="2907" fill="#afeeee"/>
<rect x="371" y="0" width="1" height="2907" fill="#87ceeb"/>
<rect x="376" y="0" width="1" height="2907" fill="#afeeee"/>
<rect x="381" y="0" width="1" height="2907" fill="#afeeee"/>
<rect x="386" y="0" width="1" height="2907" fill="#afeeee"/>
<rect x="391" y="0" width="1" height="2907" fill="#afeeee"/>
<rect x="396" y="0" width="1" height="2907" fill="#afeeee"/>
<rect x="401" y="0" width="1" height="2907" fill="#afeeee"/>
<rect x="406" y="0" width="1" height="2907" fill="#afeeee"/>
<rect x="411" y="0" width="1" height="2907" fill="#afeeee"/>
<rect x="416" y="0" width="1" height="2907" fill="#afeeee"/>
<rect x="421" y="0" width="1" height="2907" fill="#87ceeb"/>
<rect x="426" y="0" width="1" height="2907" fill="#afeeee"/>
<rect x="430" y="0" width="1" height="2907" fill="#afeeee"/>
<rect x="435" y="0" width="1" height="2907" fill="#afeeee"/>
<rect x="440" y="0" width="1" height="2907" fill="#afeeee"/>
<rect x="445" y="0" width="1" height="2907" fill="#afeeee"/>
<rect x="450" y="0" width="1" height="2907" fill="#afeeee"/>
<rect x="455" y="0" width="1" height="2907" fill="#afeeee"/>
<rect x="460" y="0" width="1" height="2907" fill="#afeeee"/>
<rect x="465" y="0" width="1" height="2907" fill="#afeeee"/>
<rect x="470" y="0" width="1" height="2907" fill="#87ceeb"/>
<rect x="475" y="0" width="1" height="2907" fill="#afeeee"/>
<rect x="480" y="0" width="1" height="2907" fill="#afeeee"/>
<rect x="485" y="0" width="1" height="2907" fill="#afeeee"/>
<rect x="490" y="0" width="1" height="2907" fill="#afeeee"/>
<rect x="495" y="0" width="1" height="2907" fill="#afeeee"/>
<rect x="500" y="0" width="1" height="2907" fill="#afeeee"/>
<rect x="505" y="0" width="1" height="2907" fill="#afeeee"/>
<rect x="510" y="0" width="1" height="2907" fill="#afeeee"/>
<rect x="515" y="0" width="1" height="2907" fill="#afeeee"/>
<rect x="520" y="0" width="1" height="2907" fill="#87ceeb"/>
<rect x="524" y="0" width="1" height="2907" fill="#afeeee"/>
<rect x="529" y="0" width="1" height="2907" fill="#afeeee"/>
<rect x="534" y="0" width="1" height="2907" fill="#afeeee"/>
<rect x="539" y="0" width="1" height="2907" fill="#afeeee"/>
<rect x="544" y="0" width="1" height="2907" fill="#afeeee"/>
<rect x="549" y="0" width="1" height="2907" fill="#afeeee"/>
<rect x="554" y="0" width="1" height="2907" fill="#afeeee"/>
<rect x="559" y="0" width="1" height="2907" fill="#afeeee"/>
<rect x="564" y="0" width="1" height="2907" fill="#afeeee"/>
<rect x="569" y="0" width="1" height="2907" fill="#87ceeb"/>
<rect x="574" y="0" width="1" height="2907" fill="#afeeee"/>
<rect x="579" y="0" width="1" height="2907" fill="#afeeee"/>
<rect x="584" y="0" width="1" height="2907" fill="#afeeee"/>
<rect x="589" y="0" width="1" height="2907" fill="#afeeee"/>
<rect x="594" y="0" width="1" height="2907" fill="#afeeee"/>
<rect x="599" y="0" width="1" height="2907" fill="#afeeee"/>
<rect x="604" y="0" width="1" height="2907" fill="#afeeee"/>
<rect x="609" y="0" width="1" height="2907" fill="#afeeee"/>
<rect x="614" y="0" width="1" height="2907" fill="#afeeee"/>
<rect x="619" y="0" width="1" height="2907" fill="#87ceeb"/>
<rect x="623" y="0" width="1" height="2907" fill="#afeeee"/>
<rect x="628" y="0" width="1" height="2907" fill="#afeeee"/>
<rect x="633" y="0" width="1" height="2907" fill="#afeeee"/>
<rect x="638" y="0" width="1" height="2907" fill="#afeeee"/>
<rect x="643" y="0" width="1" height="2907" fill="#afeeee"/>
<rect x="648" y="0" width="1" height="2907" fill="#afeeee"/>
<rect x="653" y="0" width="1" height="2907" fill="#afeeee"/>
<rect x="658" y="0" width="1" height="2907" fill="#afeeee"/>
<rect x="663" y="0" width="1" height="2907" fill="#afeeee"/>
<rect x="668" y="0" width="1" height="2907" fill="#87ceeb"/>
<rect x="673" y="0" width="1" height="2907" fill="#afeeee"/>
<rect x="678" y="0" width="1" height="2907" fill="#afeeee"/>
<rect x="683" y="0" width="1" height="2907" fill="#afeeee"/>
<rect x="688" y="0" width="1" height="2907" fill="#afeeee"/>
<rect x="693" y="0" width="1" height="2907" fill="#afeeee"/>
<rect x="698" y="0" width="1" height="2907" fill="#afeeee"/>
<rect x="703" y="0" width="1" height="2907" fill="#afeeee"/>
<rect x="708" y="0" width="1" height="2907" fill="#afeeee"/>
<rect x="713" y="0" width="1" height="2907" fill="#afeeee"/>
<rect x="717" y="0" width="1" height="2907" fill="#87ceeb"/>
<rect x="722" y="0" width="1" height="2907" fill="#afeeee"/>
<rect x="727" y="0" width="1" height="2907" fill="#afeeee"/>
<rect x="732" y="0" width="1" height="2907" fill="#afeeee"/>
<rect x="737" y="0" width="1" height="2907" fill="#afeeee"/>
<rect x="742" y="0" width="1" height="2907" fill="#afeeee"/>
<rect x="747" y="0" width="1" height="2907" fill="#afeeee"/>
<rect x="752" y="0" width="1" height="2907" fill="#afeeee"/>
<rect x="757" y="0" width="1" height="2907" fill="#afeeee"/>
<rect x="762" y="0" width="1" height="2907" fill="#afeeee"/>
<rect x="767" y="0" width="1" height="2907" fill="#87ceeb"/>
<rect x="772" y="0" width="1" height="2907" fill="#afeeee"/>
<rect x="777" y="0" width="1" height="2907" fill="#afeeee"/>
<rect x="782" y="0" width="1" height="2907" fill="#afeeee"/>
<rect x="787" y="0" width="1" height="2907" fill="#afeeee"/>
<rect x="792" y="0" width="1" height="2907" fill="#afeeee"/>
<rect x="797" y="0" width="1" height="2907" fill="#afeeee"/>
<rect x="802" y="0" width="1" height="2907" fill="#afeeee"/>
<rect x="807" y="0" width="1" height="2907" fill="#afeeee"/>
<rect x="812" y="0" width="1" height="2907" fill="#afeeee"/>
<rect x="816" y="0" width="1" height="2907" fill="#87ceeb"/>
<rect x="821" y="0" width="1" height="2907" fill="#afeeee"/>
<rect x="826" y="0" width="1" height="2907" fill="#afeeee"/>
<rect x="831" y="0" width="1" height="2907" fill="#afeeee"/>
<rect x="836" y="0" width="1" height="2907" fill="#afeeee"/>
<rect x="841" y="0" width="1" height="2907" fill="#afeeee"/>
<rect x="846" y="0" width="1" height="2907" fill="#afeeee"/>
<rect x="851" y="0" width="1" height="2907" fill="#afeeee"/>
<rect x="856" y="0" width="1" height="2907" fill="#afeeee"/>
<use href="#s99" x="61" y="14"/>
<use href="#s104" x="67" y="14"/>
<use href="#s114" x="73" y="14"/>
<use href="#s49" x="79" y="14"/>
<use href="#s55" x="85" y="14"/>
<use href="#s58" x="91" y="14"/>
<use href="#s52" x="97" y="14"/>
<use href="#s49" x="103" y="14"/>
<use href="#s52" x="109" y="14"/>
<use href="#s56" x="115" y="14"/>
<use href="#s55" x="121" y="14"/>
<use href="#s49" x="127" y="14"/>
<use href="#s52" x="133" y="14"/>
<use href="#s49" x="139" y="14"/>
<use href="#s46" x="145" y="14"/>
<use href="#s46" x="151" y="14"/>
<use href="#s52" x="157" y="14"/>
<use href="#s49" x="163" y="14"/>
<use href="#s54" x="169" y="14"/>
<use href="#s52" x="175" y="14"/>
<use href="#s56" x="181" y="14"/>
<use href="#s55" x="187" y="14"/>
<use href="#s57" x="193" y="14"/>
<use href="#s55" x="199" y="14"/>
<rect x="60" y="31" width="801" height="1" fill="#000"/>
<path d="M61 30h1v1h-1zM62 29h1v1h-1zM63 28h1v1h-1zM61 32h1v1h-1zM62 33h1v1h-1zM63 34h1v1h-1zM859 30h1v1h-1zM858 29h1v1h-1zM857 28h1v1h-1zM859 32h1v1h-1zM858 33h1v1h-1zM857 34h1v1h-1z" fill="#000"/>
<rect x="69" y="29" width="1" height="4" fill="#000"/>
<rect x="74" y="28" width="1" height="7" fill="#000"/>
<use href="#s52" x="56" y="33"/>
<use href="#s49" x="62" y="33"/>
<use href="#s52" x="68" y="33"/>
<use href="#s57" x="74" y="33"/>
<use href="#s48" x="80" y="33"/>
<use href="#s107" x="86" y="33"/>
<rect x="79" y="29" width="1" height="4" fill="#000"/>
<rect x="84" y="29" width="1" height="4" fill="#000"/>
<rect x="89" y="29" width="1" height="4" fill="#000"/>
<rect x="94" y="29" width="1" height="4" fill="#000"/>
<rect x="99" y="29" width="1" height="4" fill="#000"/>
<rect x="104" y="29" width="1" height="4" fill="#000"/>
<rect x="109" y="29" width="1" height="4" fill="#000"/>
<rect x="114" y="29" width="1" height="4" fill="#000"/>
<rect x="119" y="29" width="1" height="4" fill="#000"/>
<rect x="124" y="28" width="1" height="7" fill="#000"/>
<use href="#s52" x="106" y="33"/>
<use href="#s49" x="112" y="33"/>
<use href="#s53" x="118" y="33"/>
<use href="#s48" x="124" y="33"/>
<use href="#s48" x="130" y="33"/>
<use href="#s107" x="136" y="33"/>
<rect x="129" y="29" width="1" height="4" fill="#000"/>
<rect x="134" y="29" width="1" height="4" fill="#000"/>
<rect x="138" y="29" width="1" height="4" fill="#000"/>
<rect x="143" y="29" width="1" height="4" fill="#000"/>
<rect x="148" y="29" width="1" height="4" fill="#000"/>
<rect x="153" y="29" width="1" height="4" fill="#000"/>
<rect x="158" y="29" width="1" height="4" fill="#000"/>
<rect x="163" y="29" width="1" height="4" fill="#000"/>
<rect x="168" y="29" width="1" height="4" fill="#000"/>
<rect x="173" y="28" width="1" height="7" fill="#000"/>
<use href="#s52" x="155" y="33"/>
<use href="#s49" x="161" y="33"/>
<use href="#s53" x="167" y="33"/>
<use href="#s49" x="173" y="33"/>
<use href="#s48" x="179" y="33"/>
<use href="#s107" x="185" y="33"/>
<rect x="178" y="29" width="1" height="4" fill="#000"/>
<rect x="183" y="29" width="1" height="4" fill="#000"/>
<rect x="188" y="29" width="1" height="4" fill="#000"/>
<rect x="193" y="29" width="1" height="4" fill="#000"/>
<rect x="198" y="29" width="1" height="4" fill="#000"/>
<rect x="203" y="29" width="1" height="4" fill="#000"/>
<rect x="208" y="29" width="1" height="4" fill="#000"/>
<rect x="213" y="29" width="1" height="4" fill="#000"/>
<rect x="218" y="29" width="1" height="4" fill="#000"/>
<rect x="223" y="28" width="1" height="7" fill="#000"/>
<use href="#s52" x="205" y="33"/>
<use href="#s49" x="211" y="33"/>
<use href="#s53" x="217" y="33"/>
<use href="#s50" x="223" y="33"/>
<use href="#s48" x="229" y="33"/>
<use href="#s107" x="235" y="33"/>
<rect x="228" y="29" width="1" height="4" fill="#000"/>
<rect x="233" y="29" width="1" height="4" fill="#000"/>
<rect x="237" y="29" width="1" height="4" fill="#000"/>
<rect x="242" y="29" width="1" height="4" fill="#000"/>
<rect x="247" y="29" width="1" height="4" fill="#000"/>
<rect x="252" y="29" width="1" height="4" fill="#000"/>
<rect x="257" y="29" width="1" height="4" fill="#000"/>
<rect x="262" y="29" width="1" height="4" fill="#000"/>
<rect x="267" y="29" width="1" height="4" fill="#000"/>
<rect x="272" y="28" width="1" height="7" fill="#000"/>
<use href="#s52" x="254" y="33"/>
<use href="#s49" x="260" y="33"/>
<use href="#s53" x="266" y="33"/>
<use href="#s51" x="272" y="33"/>
<use href="#s48" x="278" y="33"/>
<use href="#s107" x="284" y="33"/>
<rect x="277" y="29" width="1" height="4" fill="#000"/>
<rect x="282" y="29" width="1" height="4" fill="#000"/>
<rect x="287" y="29" width="1" height="4" fill="#000"/>
<rect x="292" y="29" width="1" height="4" fill="#000"/>
<rect x="297" y="29" width="1" height="4" fill="#000"/>
<rect x="302" y="29" width="1" height="4" fill="#000"/>
<rect x="307" y="29" width="1" height="4" fill="#000"/>
<rect x="312" y="29" width="1" height="4" fill="#000"/>
<rect x="317" y="29" width="1" height="4" fill="#000"/>
<rect x="322" y="28" width="1" height="7" fill="#000"/>
<use href="#s52" x="304" y="33"/>
<use href="#s49" x="310" y="33"/>
<use href="#s53" x="316" y="33"/>
<use href="#s52" x="322" y="33"/>
<use href="#s48" x="328" y="33"/>
<use href="#s107" x="334" y="33"/>
<rect x="327" y="29" width="1" height="4" fill="#000"/>
<rect x="331" y="29" width="1" height="4" fill="#000"/>
<rect x="336" y="29" width="1" height="4" fill="#000"/>
<rect x="341" y="29" width="1" height="4" fill="#000"/>
<rect x="346" y="29" width="1" height="4" fill="#000"/>
<rect x="351" y="29" width="1" height="4" fill="#000"/>
<rect x="356" y="29" width="1" height="4" fill="#000"/>
<rect x="361" y="29" width="1" height="4" fill="#000"/>
<rect x="366" y="29" width="1" height="4" fill="#000"/>
<rect x="371" y="28" width="1" height="7" fill="#000"/>
<use href="#s52" x="353" y="33"/>
<use href="#s49" x="359" y="33"/>
<use href="#s53" x="365" y="33"/>
<use href="#s53" x="371" y="33"/>
<use href="#s48" x="377" y="33"/>
<use href="#s107" x="383" y="33"/>
<rect x="376" y="29" width="1" height="4" fill="#000"/>
<rect x="381" y="29" width="1" height="4" fill="#000"/>
<rect x="386" y="29" width="1" height="4" fill="#000"/>
<rect x="391" y="29" width="1" height="4" fill="#000"/>
<rect x="396" y="29" width="1" height="4" fill="#000"/>
<rect x="401" y="29" width="1" height="4" fill="#000"/>
<rect x="406" y="29" width="1" height="4" fill="#000"/>
<rect x="411" y="29" width="1" height="4" fill="#000"/>
<rect x="416" y="29" width="1" height="4" fill="#000"/>
<rect x="421" y="28" width="1" height="7" fill="#000"/>
<use href="#s52" x="403" y="33"/>
<use href="#s49" x="409" y="33"/>
<use href="#s53" x="415" y="33"/>
<use href="#s54" x="421" y="33"/>
<use href="#s48" x="427" y="33"/>
<use href="#s107" x="433" y="33"/>
<rect x="426" y="29" width="1" height="4" fill="#000"/>
<rect x="430" y="29" width="1" height="4" fill="#000"/>
<rect x="435" y="29" width="1" height="4" fill="#000"/>
<rect x="440" y="29" width="1" height="4" fill="#000"/>
<rect x="445" y="29" width="1" height="4" fill="#000"/>
<rect x="450" y="29" width="1" height="4" fill="#000"/>
<rect x="455" y="29" width="1" height="4" fill="#000"/>
<rect x="460" y="29" width="1" height="4" fill="#000"/>
<rect x="465" y="29" width="1" height="4" fill="#000"/>
<rect x="470" y="28" width="1" height="7" fill="#000"/>
<use href="#s52" x="452" y="33"/>
<use href="#s49" x="458" y="33"/>
<use href="#s53" x="464" y="33"/>
<use href="#s55" x="470" y="33"/>
<use href="#s48" x="476" y="33"/>
<use href="#s107" x="482" y="33"/>
<rect x="475" y="29" width="1" height="4" fill="#000"/>
<rect x="480" y="29" width="1" height="4" fill="#000"/>
<rect x="485" y="29" width="1" height="4" fill="#000"/>
<rect x="490" y="29" width="1" height="4" fill="#000"/>
<rect x="495" y="29" width="1" height="4" fill="#000"/>
<rect x="500" y="29" width="1" height="4" fill="#000"/>
<rect x="505" y="29" width="1" height="4" fill="#000"/>
<rect x="510" y="29" width="1" height="4" fill="#000"/>
<rect x="515" y="29" width="1" height="4" fill="#000"/>
<rect x="520" y="28" width="1" height="7" fill="#000"/>
<use href="#s52" x="502" y="33"/>
<use href="#s49" x="508" y="33"/>
<use href="#s53" x="514" y="33"/>
<use href="#s56" x="520" y="33"/>
<use href="#s48" x="526" y="33"/>
<use href="#s107" x="532" y="33"/>
<rect x="524" y="29" width="1" height="4" fill="#000"/>
<rect x="529" y="29" width="1" height="4" fill="#000"/>
<rect x="534" y="29" width="1" height="4" fill="#000"/>
<rect x="539" y="29" width="1" height="4" fill="#000"/>
<rect x="544" y="29" width="1" height="4" fill="#000"/>
<rect x="549" y="29" width="1" height="4" fill="#000"/>
<rect x="554" y="29" width="1" height="4" fill="#000"/>
<rect x="559" y="29" width="1" height="4" fill="#000"/>
<rect x="564" y="29" width="1" height="4" fill="#000"/>
<rect x="569" y="28" width="1" height="7" fill="#000"/>
<use href="#s52" x="551" y="33"/>
<use href="#s49" x="557" y="33"/>
<use href="#s53" x="563" y="33"/>
<use href="#s57" x="569" y="33"/>
<use href="#s48" x="575" y="33"/>
<use href="#s107" x="581" y="33"/>
<rect x="574" y="29" width="1" height="4" fill="#000"/>
<rect x="579" y="29" width="1" height="4" fill="#000"/>
<rect x="584" y="29" width="1" height="4" fill="#000"/>
<rect x="589" y="29" width="1" height="4" fill="#000"/>
<rect x="594" y="29" width="1" height="4" fill="#000"/>
<rect x="599" y="29" width="1" height="4" fill="#000"/>
<rect x="604" y="29" width="1" height="4" fill="#000"/>
<rect x="609" y="29" width="1" height="4" fill="#000"/>
<rect x="614" y="29" width="1" height="4" fill="#000"/>
<rect x="619" y="28" width="1" height="7" fill="#000"/>
<use href="#s52" x="601" y="33"/>
<use href="#s49" x="607" y="33"/>
<use href="#s54" x="613" y="33"/>
<use href="#s48" x="619" y="33"/>
<use href="#s48" x="625" y="33"/>
<use href="#s107" x="631" y="33"/>
<rect x="623" y="29" width="1" height="4" fill="#000"/>
<rect x="628" y="29" width="1" height="4" fill="#000"/>
<rect x="633" y="29" width="1" height="4" fill="#000"/>
<rect x="638" y="29" width="1" height="4" fill="#000"/>
<rect x="643" y="29" width="1" height="4" fill="#000"/>
<rect x="648" y="29" width="1" height="4" fill="#000"/>
<rect x="653" y="29" width="1" height="4" fill="#000"/>
<rect x="658" y="29" width="1" height="4" fill="#000"/>
<rect x="663" y="29" width="1" height="4" fill="#000"/>
<rect x="668" y="28" width="1" height="7" fill="#000"/>
<use href="#s52" x="650" y="33"/>
<use href="#s49" x="656" y="33"/>
<use href="#s54" x="662" y="33"/>
<use href="#s49" x="668" y="33"/>
<use href="#s48" x="674" y="33"/>
<use href="#s107" x="680" y="33"/>
<rect x="673" y="29" width="1" height="4" fill="#000"/>
<rect x="678" y="29" width="1" height="4" fill="#000"/>
<rect x="683" y="29" width="1" height="4" fill="#000"/>
<rect x="688" y="29" width="1" height="4" fill="#000"/>
<rect x="693" y="29" width="1" height="4" fill="#000"/>
<rect x="698" y="29" width="1" height="4" fill="#000"/>
<rect x="703" y="29" width="1" height="4" fill="#000"/>
<rect x="708" y="29" width="1" height="4" fill="#000"/>
<rect x="713" y="29" width="1" height="4" fill="#000"/>
<rect x="717" y="28" width="1" height="7" fill="#000"/>
<use href="#s52" x="699" y="33"/>
<use href="#s49" x="705" y="33"/>
<use href="#s54" x="711" y="33"/>
<use href="#s50" x="717" y="33"/>
<use href="#s48" x="723" y="33"/>
<use href="#s107" x="729" y="33"/>
<rect x="722" y="29" width="1" height="4" fill="#000"/>
<rect x="727" y="29" width="1" height="4" fill="#000"/>
<rect x="732" y="29" width="1" height="4" fill="#000"/>
<rect x="737" y="29" width="1" height="4" fill="#000"/>
<rect x="742" y="29" width="1" height="4" fill="#000"/>
<rect x="747" y="29" width="1" height="4" fill="#000"/>
<rect x="752" y="29" width="1" height="4" fill="#000"/>
<rect x="757" y="29" width="1" height="4" fill="#000"/>
<rect x="762" y="29" width="1" height="4" fill="#000"/>
<rect x="767" y="28" width="1" height="7" fill="#000"/>
<use href="#s52" x="749" y="33"/>
<use href="#s49" x="755" y="33"/>
<use href="#s54" x="761" y="33"/>
<use href="#s51" x="767" y="33"/>
<use href="#s48" x="773" y="33"/>
<use href="#s107" x="779" y="33"/>
<rect x="772" y="29" width="1" height="4" fill="#000"/>
<rect x="777" y="29" width="1" height="4" fill="#000"/>
<rect x="782" y="29" width="1" height="4" fill="#000"/>
<rect x="787" y="29" width="1" height="4" fill="#000"/>
<rect x="792" y="29" width="1" height="4" fill="#000"/>
<rect x="797" y="29" width="1" height="4" fill="#000"/>
<rect x="802" y="29" width="1" height="4" fill="#000"/>
<rect x="807" y="29" width="1" height="4" fill="#000"/>
<rect x="812" y="29" width="1" height="4" fill="#000"/>
<rect x="816" y="28" width="1" height="7" fill="#000"/>
<use href="#s52" x="798" y="33"/>
<use href="#s49" x="804" y="33"/>
<use href="#s54" x="810" y="33"/>
<use href="#s52" x="816" y="33"/>
<use href="#s48" x="822" y="33"/>
<use href="#s107" x="828" y="33"/>
<rect x="821" y="29" width="1" height="4" fill="#000"/>
<rect x="826" y="29" width="1" height="4" fill="#000"/>
<rect x="831" y="29" width="1" height="4" fill="#000"/>
<rect x="836" y="29" width="1" height="4" fill="#000"/>
<rect x="841" y="29" width="1" height="4" fill="#000"/>
<rect x="846" y="29" width="1" height="4" fill="#000"/>
<rect x="851" y="29" width="1" height="4" fill="#000"/>
<use href="#b67" x="60" y="67"/>
<use href="#b121" x="67" y="67"/>
<use href="#b116" x="74" y="67"/>
<use href="#b111" x="81" y="67"/>
<use href="#b103" x="88" y="67"/>
<use href="#b101" x="95" y="67"/>
<use href="#b110" x="102" y="67"/>
<use href="#b101" x="109" y="67"/>
<use href="#b116" x="116" y="67"/>
<use href="#b105" x="123" y="67"/>
<use href="#b99" x="130" y="67"/>
<use href="#b66" x="144" y="67"/>
<use href="#b97" x="151" y="67"/>
<use href="#b110" x="158" y="67"/>
<use href="#b100" x="165" y="67"/>
<use href="#b115" x="172" y="67"/>
<use href="#s49" x="61" y="79"/>
<use href="#s55" x="67" y="79"/>
<use href="#s113" x="73" y="79"/>
<use href="#s50" x="79" y="79"/>
<use href="#s49" x="85" y="79"/>
<use href="#s46" x="91" y="79"/>
<use href="#s51" x="97" y="79"/>
<use href="#s49" x="103" y="79"/>
<rect x="59" y="93" width="803" height="8" fill="#000"/>
<rect x="59" y="94" width="803" height="6" fill="#fbfdfb"/>
<use href="#b68" x="60" y="121"/>
<use href="#b71" x="67" y="121"/>
<use href="#b86" x="74" y="121"/>
<use href="#b83" x="88" y="121"/>
<use href="#b116" x="95" y="121"/>
<use href="#b114" x="102" y="121"/>
<use href="#b117" x="109" y="121"/>
<use href="#b99" x="116" y="121"/>
<use href="#b116" x="123" y="121"/>
<use href="#b117" x="130" y="121"/>
<use href="#b114" x="137" y="121"/>
<use href="#b97" x="144" y="121"/>
<use href="#b108" x="151" y="121"/>
<use href="#b86" x="165" y="121"/>
<use href="#b97" x="172" y="121"/>
<use href="#b114" x="179" y="121"/>
<use href="#b105" x="186" y="121"/>
<use href="#b97" x="193" y="121"/>
<use href="#b110" x="200" y="121"/>
<use href="#b116" x="207" y="121"/>
<use href="#b115" x="214" y="121"/>
<use href="#b40" x="228" y="121"/>
<use href="#b66" x="235" y="121"/>
<use href="#b108" x="242" y="121"/>
<use href="#b117" x="249" y="121"/>
<use href="#b101" x="256" y="121"/>
<use href="#b58" x="263" y="121"/>
<use href="#b71" x="270" y="121"/>
<use href="#b97" x="277" y="121"/>
<use href="#b105" x="284" y="121"/>
<use href="#b110" x="291" y="121"/>
<use href="#b59" x="298" y="121"/>
<use href="#b82" x="305" y="121"/>
<use href="#b101" x="312" y="121"/>
<use href="#b100" x="319" y="121"/>
<use href="#b58" x="326" y="121"/>
<use href="#b76" x="333" y="121"/>
<use href="#b111" x="340" y="121"/>
<use href="#b115" x="347" y="121"/>
<use href="#b115" x="354" y="121"/>
<use href="#b59" x="361" y="121"/>
<use href="#b66" x="368" y="121"/>
<use href="#b114" x="375" y="121"/>
<use href="#b111" x="382" y="121"/>
<use href="#b119" x="389" y="121"/>
<use href="#b110" x="396" y="121"/>
<use href="#b58" x="403" y="121"/>
<use href="#b67" x="410" y="121"/>
<use href="#b111" x="417" y="121"/>
<use href="#b109" x="424" y="121"/>
<use href="#b112" x="431" y="121"/>
<use href="#b108" x="438" y="121"/>
<use href="#b101" x="445" y="121"/>
<use href="#b120" x="452" y="121"/>
<use href="#b59" x="459" y="121"/>
<use href="#b80" x="466" y="121"/>
<use href="#b117" x="473" y="121"/>
<use href="#b114" x="480" y="121"/>
<use href="#b112" x="487" y="121"/>
<use href="#b108" x="494" y="121"/>
<use href="#b101" x="501" y="121"/>
<use href="#b58" x="508" y="121"/>
<use href="#b73" x="515" y="121"/>
<use href="#b110" x="522" y="121"/>
<use href="#b118" x="529" y="121"/>
<use href="#b101" x="536" y="121"/>
<use href="#b114" x="543" y="121"/>
<use href="#b115" x="550" y="121"/>
<use href="#b105" x="557" y="121"/>
<use href="#b111" x="564" y="121"/>
<use href="#b110" x="571" y="121"/>
<use href="#b59" x="578" y="121"/>
<use href="#b66" x="585" y="121"/>
<use href="#b108" x="592" y="121"/>
<use href="#b97" x="599" y="121"/>
<use href="#b99" x="606" y="121"/>
<use href="#b107" x="613" y="121"/>
<use href="#b58" x="620" y="121"/>
<use href="#b85" x="627" y="121"/>
<use href="#b110" x="634" y="121"/>
<use href="#b107" x="641" y="121"/>
<use href="#b110" x="648" y="121"/>
<use href="#b111" x="655" y="121"/>
<use href="#b119" x="662" y="121"/>
<use href="#b110" x="669" y="121"/>
<use href="#b41" x="676" y="121"/>
<use href="#s101" x="61" y="133"/>
<use href="#s115" x="67" y="133"/>
<use href="#s118" x="73" y="133"/>
<use href="#s50" x="79" y="133"/>
<use href="#s55" x="85" y="133"/>
<use href="#s54" x="91" y="133"/>
<use href="#s50" x="97" y="133"/>
<use href="#s52" x="103" y="133"/>
<use href="#s51" x="109" y="133"/>
<use href="#s51" x="115" y="133"/>
<use href="#s40" x="127" y="133"/>
<use href="#s86" x="133" y="133"/>
<use href="#s111" x="139" y="133"/>
<use href="#s103" x="145" y="133"/>
<use href="#s108" x="151" y="133"/>
<use href="#s101" x="157" y="133"/>
<use href="#s114" x="163" y="133"/>
<use href="#s50" x="169" y="133"/>
<use href="#s48" x="175" y="133"/>
<use href="#s49" x="181" y="133"/>
<use href="#s48" x="187" y="133"/>
<use href="#s41" x="193" y="133"/>
<rect x="59" y="147" width="803" height="6" fill="#8b4513"/>
<use href="#s100" x="61" y="154"/>
<use href="#s103" x="67" y="154"/>
<use href="#s118" x="73" y="154"/>
<use href="#s49" x="79" y="154"/>
<use href="#s50" x="85" y="154"/>
<use href="#s55" x="91" y="154"/>
<use href="#s101" x="97" y="154"/>
<use href="#s53" x="103" y="154"/>
<use href="#s53" x="109" y="154"/>
<use href="#s40" x="121" y="154"/>
<use href="#s80" x="127" y="154"/>
<use href="#s105" x="133" y="154"/>
<use href="#s110" x="139" y="154"/>
<use href="#s116" x="145" y="154"/>
<use href="#s111" x="151" y="154"/>
<use href="#s50" x="157" y="154"/>
<use href="#s48" x="163" y="154"/>
<use href="#s48" x="169" y="154"/>
<use href="#s55" x="175" y="154"/>
<use href="#s41" x="181" y="154"/>
<rect x="59" y="168" width="803" height="6" fill="#0000ff"/>
<use href="#s101" x="61" y="175"/>
<use href="#s115" x="67" y="175"/>
<use href="#s118" x="73" y="175"/>
<use href="#s50" x="79" y="175"/>
<use href="#s55" x="85" y="175"/>
<use href="#s53" x="91" y="175"/>
<use href="#s49" x="97" y="175"/>
<use href="#s54" x="103" y="175"/>
<use href="#s56" x="109" y="175"/>
<use href="#s54" x="115" y="175"/>
<use href="#s40" x="127" y="175"/>
<use href="#s80" x="133" y="175"/>
<use href="#s105" x="139" y="175"/>
<use href="#s110" x="145" y="175"/>
<use href="#s116" x="151" y="175"/>
<use href="#s111" x="157" y="175"/>
<use href="#s50" x="163" y="175"/>
<use href="#s48" x="169" y="175"/>
<use href="#s48" x="175" y="175"/>
<use href="#s55" x="181" y="175"/>
<use href="#s41" x="187" y="175"/>
<rect x="59" y="189" width="803" height="6" fill="#0000ff"/>
<use href="#s110" x="61" y="196"/>
<use href="#s115" x="67" y="196"/>
<use href="#s118" x="73" y="196"/>
<use href="#s52" x="79" y="196"/>
<use href="#s54" x="85" y="196"/>
<use href="#s57" x="91" y="196"/>
<use href="#s55" x="97" y="196"/>
<use href="#s48" x="103" y="196"/>
<use href="#s53" x="109" y="196"/>
<use href="#s40" x="121" y="196"/>
<use href="#s76" x="127" y="196"/>
<use href="#s111" x="133" y="196"/>
<use href="#s99" x="139" y="196"/>
<use href="#s107" x="145" y="196"/>
<use href="#s101" x="151" y="196"/>
<use href="#s50" x="157" y="196"/>
<use href="#s48" x="163" y="196"/>
<use href="#s48" x="169" y="196"/>
<use href="#s54" x="175" y="196"/>
<use href="#s41" x="181" y="196"/>
<rect x="59" y="210" width="364" height="6" fill="#ff0000"/>
<use href="#s101" x="433" y="196"/>
<use href="#s115" x="439" y="196"/>
<use href="#s118" x="445" y="196"/>
<use href="#s51" x="451" y="196"/>
<use href="#s51" x="457" y="196"/>
<use href="#s51" x="463" y="196"/>
<use href="#s56" x="469" y="196"/>
<use href="#s48" x="475" y="196"/>
<use href="#s57" x="481" y="196"/>
<use href="#s49" x="487" y="196"/>
<use href="#s40" x="499" y="196"/>
<use href="#s49" x="505" y="196"/>
<use href="#s48" x="511" y="196"/>
<use href="#s48" x="517" y="196"/>
<use href="#s48" x="523" y="196"/>
<use href="#s71" x="529" y="196"/>
<use href="#s101" x="535" y="196"/>
<use href="#s110" x="541" y="196"/>
<use href="#s111" x="547" y="196"/>
<use href="#s109" x="553" y="196"/>
<use href="#s101" x="559" y="196"/>
<use href="#s115" x="565" y="196"/>
<use href="#s67" x="571" y="196"/>
<use href="#s111" x="577" y="196"/>
<use href="#s110" x="583" y="196"/>
<use href="#s115" x="589" y="196"/>
<use href="#s111" x="595" y="196"/>
<use href="#s114" x="601" y="196"/>
<use href="#s116" x="607" y="196"/>
<use href="#s105" x="613" y="196"/>
<use href="#s117" x="619" y="196"/>
<use href="#s109" x="625" y="196"/>
<use href="#s80" x="631" y="196"/>
<use href="#s105" x="637" y="196"/>
<use href="#s108" x="643" y="196"/>
<use href="#s111" x="649" y="196"/>
<use href="#s116" x="655" y="196"/>
<use href="#s80" x="661" y="196"/>
<use href="#s114" x="667" y="196"/>
<use href="#s111" x="673" y="196"/>
<use href="#s106" x="679" y="196"/>
<use href="#s101" x="685" y="196"/>
<use href="#s99" x="691" y="196"/>
<use href="#s116" x="697" y="196"/>
<use href="#s41" x="703" y="196"/>
<rect x="433" y="212" width="75" height="1" fill="#0000ff"/>
<rect x="433" y="210" width="2" height="6" fill="#0000ff"/>
<rect x="506" y="210" width="2" height="6" fill="#0000ff"/>
<rect x="438" y="210" width="64" height="6" fill="#0000ff"/>
<use href="#s101" x="710" y="196"/>
<use href="#s115" x="716" y="196"/>
<use href="#s118" x="722" y="196"/>
<use href="#s51" x="728" y="196"/>
<use href="#s51" x="734" y="196"/>
<use href="#s51" x="740" y="196"/>
<use href="#s54" x="746" y="196"/>
<use href="#s48" x="752" y="196"/>
<use href="#s52" x="758" y="196"/>
<use href="#s50" x="764" y="196"/>
<use href="#s40" x="776" y="196"/>
<use href="#s49" x="782" y="196"/>
<use href="#s48" x="788" y="196"/>
<use href="#s48" x="794" y="196"/>
<use href="#s48" x="800" y="196"/>
<use href="#s71" x="806" y="196"/>
<use href="#s101" x="812" y="196"/>
<use href="#s110" x="818" y="196"/>
<use href="#s111" x="824" y="196"/>
<use href="#s109" x="830" y="196"/>
<use href="#s101" x="836" y="196"/>
<use href="#s115" x="842" y="196"/>
<use href="#s67" x="848" y="196"/>
<use href="#s111" x="854" y="196"/>
<use href="#s110" x="860" y="196"/>
<use href="#s115" x="866" y="196"/>
<use href="#s111" x="872" y="196"/>
<use href="#s114" x="878" y="196"/>
<use href="#s116" x="884" y="196"/>
<use href="#s105" x="890" y="196"/>
<use href="#s117" x="896" y="196"/>
<use href="#s109" x="902" y="196"/>
<use href="#s80" x="908" y="196"/>
<use href="#s105" x="914" y="196"/>
<use href="#s108" x="920" y="196"/>
<use href="#s111" x="926" y="196"/>
<use href="#s116" x="932" y="196"/>
<use href="#s80" x="938" y="196"/>
<use href="#s114" x="944" y="196"/>
<use href="#s111" x="950" y="196"/>
<use href="#s106" x="956" y="196"/>
<use href="#s101" x="962" y="196"/>
<use href="#s99" x="968" y="196"/>
<use href="#s116" x="974" y="196"/>
<use href="#s41" x="980" y="196"/>
<rect x="710" y="212" width="43" height="1" fill="#0000ff"/>
<rect x="710" y="210" width="2" height="6" fill="#0000ff"/>
<rect x="751" y="210" width="2" height="6" fill="#0000ff"/>
<rect x="715" y="210" width="32" height="6" fill="#0000ff"/>
<use href="#s110" x="61" y="217"/>
<use href="#s115" x="67" y="217"/>
<use href="#s118" x="73" y="217"/>
<use href="#s52" x="79" y="217"/>
<use href="#s54" x="85" y="217"/>
<use href="#s57" x="91" y="217"/>
<use href="#s53" x="97" y="217"/>
<use href="#s51" x="103" y="217"/>
<use href="#s55" x="109" y="217"/>
<use href="#s40" x="121" y="217"/>
<use href="#s76" x="127" y="217"/>
<use href="#s111" x="133" y="217"/>
<use href="#s99" x="139" y="217"/>
<use href="#s107" x="145" y="217"/>
<use href="#s101" x="151" y="217"/>
<use href="#s50" x="157" y="217"/>
<use href="#s48" x="163" y="217"/>
<use href="#s48" x="169" y="217"/>
<use href="#s54" x="175" y="217"/>
<use href="#s41" x="181" y="217"/>
<rect x="59" y="231" width="543" height="6" fill="#8b4513"/>
<use href="#s110" x="606" y="217"/>
<use href="#s115" x="612" y="217"/>
<use href="#s118" x="618" y="217"/>
<use href="#s49" x="624" y="217"/>
<use href="#s48" x="630" y="217"/>
<use href="#s53" x="636" y="217"/>
<use href="#s55" x="642" y="217"/>
<use href="#s55" x="648" y="217"/>
<use href="#s57" x="654" y="217"/>
<use href="#s55" x="660" y="217"/>
<use href="#s40" x="672" y="217"/>
<use href="#s67" x="678" y="217"/>
<use href="#s111" x="684" y="217"/>
<use href="#s101" x="690" y="217"/>
<use href="#s50" x="696" y="217"/>
<use href="#s48" x="702" y="217"/>
<use href="#s49" x="708" y="217"/>
<use href="#s52" x="714" y="217"/>
<use href="#s41" x="720" y="217"/>
<rect x="606" y="231" width="131" height="6" fill="#ff0000"/>
<use href="#s100" x="743" y="217"/>
<use href="#s103" x="749" y="217"/>
<use href="#s118" x="755" y="217"/>
<use href="#s51" x="761" y="217"/>
<use href="#s50" x="767" y="217"/>
<use href="#s52" x="773" y="217"/>
<use href="#s50" x="779" y="217"/>
<use href="#s110" x="785" y="217"/>
<use href="#s49" x="791" y="217"/>
<use href="#s48" x="797" y="217"/>
<use href="#s48" x="803" y="217"/>
<use href="#s40" x="815" y="217"/>
<use href="#s67" x="821" y="217"/>
<use href="#s111" x="827" y="217"/>
<use href="#s101" x="833" y="217"/>
<use href="#s50" x="839" y="217"/>
<use href="#s48" x="845" y="217"/>
<use href="#s49" x="851" y="217"/>
<use href="#s52" x="857" y="217"/>
<use href="#s41" x="863" y="217"/>
<rect x="743" y="231" width="119" height="6" fill="#8b4513"/>
<use href="#s110" x="61" y="238"/>
<use href="#s115" x="67" y="238"/>
<use href="#s118" x="73" y="238"/>
<use href="#s52" x="79" y="238"/>
<use href="#s55" x="85" y="238"/>
<use href="#s49" x="91" y="238"/>
<use href="#s54" x="97" y="238"/>
<use href="#s57" x="103" y="238"/>
<use href="#s56" x="109" y="238"/>
<use href="#s40" x="121" y="238"/>
<use href="#s83" x="127" y="238"/>
<use href="#s104" x="133" y="238"/>
<use href="#s97" x="139" y="238"/>
<use href="#s114" x="145" y="238"/>
<use href="#s112" x="151" y="238"/>
<use href="#s50" x="157" y="238"/>
<use href="#s48" x="163" y="238"/>
<use href="#s48" x="169" y="238"/>
<use href="#s53" x="175" y="238"/>
<use href="#s41" x="181" y="238"/>
<rect x="59" y="252" width="803" height="6" fill="#8b4513"/>
<use href="#s110" x="61" y="259"/>
<use href="#s115" x="67" y="259"/>
<use href="#s118" x="73" y="259"/>
<use href="#s53" x="79" y="259"/>
<use href="#s55" x="85" y="259"/>
<use href="#s53" x="91" y="259"/>
<use href="#s49" x="97" y="259"/>
<use href="#s52" x="103" y="259"/>
<use href="#s50" x="109" y="259"/>
<use href="#s40" x="121" y="259"/>
<use href="#s67" x="127" y="259"/>
<use href="#s111" x="133" y="259"/>
<use href="#s111" x="139" y="259"/>
<use href="#s112" x="145" y="259"/>
<use href="#s101" x="151" y="259"/>
<use href="#s114" x="157" y="259"/>
<use href="#s50" x="163" y="259"/>
<use href="#s48" x="169" y="259"/>
<use href="#s49" x="175" y="259"/>
<use href="#s49" x="181" y="259"/>
<use href="#s41" x="187" y="259"/>
<rect x="59" y="273" width="590" height="6" fill="#ff0000"/>
<use href="#s101" x="656" y="259"/>
<use href="#s115" x="662" y="259"/>
<use href="#s118" x="668" y="259"/>
<use href="#s51" x="674" y="259"/>
<use href="#s51" x="680" y="259"/>
<use href="#s51" x="686" y="259"/>
<use href="#s55" x="692" y="259"/>
<use href="#s51" x="698" y="259"/>
<use href="#s53" x="704" y="259"/>
<use href="#s56" x="710" y="259"/>
<use href="#s40" x="722" y="259"/>
<use href="#s49" x="728" y="259"/>
<use href="#s48" x="734" y="259"/>
<use href="#s48" x="740" y="259"/>
<use href="#s48" x="746" y="259"/>
<use href="#s71" x="752" y="259"/>
<use href="#s101" x="758" y="259"/>
<use href="#s110" x="764" y="259"/>
<use href="#s111" x="770" y="259"/>
<use href="#s109" x="776" y="259"/>
<use href="#s101" x="782" y="259"/>
<use href="#s115" x="788" y="259"/>
<use href="#s67" x="794" y="259"/>
<use href="#s111" x="800" y="259"/>
<use href="#s110" x="806" y="259"/>
<use href="#s115" x="812" y="259"/>
<use href="#s111" x="818" y="259"/>
<use href="#s114" x="824" y="259"/>
<use href="#s116" x="830" y="259"/>
<use href="#s105" x="836" y="259"/>
<use href="#s117" x="842" y="259"/>
<use href="#s109" x="848" y="259"/>
<use href="#s80" x="854" y="259"/>
<use href="#s105" x="860" y="259"/>
<use href="#s108" x="866" y="259"/>
<use href="#s111" x="872" y="259"/>
<use href="#s116" x="878" y="259"/>
<use href="#s80" x="884" y="259"/>
<use href="#s114" x="890" y="259"/>
<use href="#s111" x="896" y="259"/>
<use href="#s106" x="902" y="259"/>
<use href="#s101" x="908" y="259"/>
<use href="#s99" x="914" y="259"/>
<use href="#s116" x="920" y="259"/>
<use href="#s41" x="926" y="259"/>
<rect x="656" y="275" width="34" height="1" fill="#0000ff"/>
<rect x="656" y="273" width="2" height="6" fill="#0000ff"/>
<rect x="688" y="273" width="2" height="6" fill="#0000ff"/>
<rect x="661" y="273" width="23" height="6" fill="#0000ff"/>
<use href="#s101" x="61" y="280"/>
<use href="#s115" x="67" y="280"/>
<use href="#s118" x="73" y="280"/>
<use href="#s50" x="79" y="280"/>
<use href="#s55" x="85" y="280"/>
<use href="#s53" x="91" y="280"/>
<use href="#s56" x="97" y="280"/>
<use href="#s54" x="103" y="280"/>
<use href="#s57" x="109" y="280"/>
<use href="#s50" x="115" y="280"/>
<use href="#s40" x="127" y="280"/>
<use href="#s82" x="133" y="280"/>
<use href="#s101" x="139" y="280"/>
<use href="#s100" x="145" y="280"/>
<use href="#s111" x="151" y="280"/>
<use href="#s110" x="157" y="280"/>
<use href="#s50" x="163" y="280"/>
<use href="#s48" x="169" y="280"/>
<use href="#s48" x="175" y="280"/>
<use href="#s54" x="181" y="280"/>
<use href="#s41" x="187" y="280"/>
<rect x="59" y="294" width="803" height="6" fill="#8b4513"/>
<use href="#s100" x="61" y="301"/>
<use href="#s103" x="67" y="301"/>
<use href="#s118" x="73" y="301"/>
<use href="#s49" x="79" y="301"/>
<use href="#s50" x="85" y="301"/>
<use href="#s56" x="91" y="301"/>
<use href="#s101" x="97" y="301"/>
<use href="#s53" x="103" y="301"/>
<use href="#s53" x="109" y="301"/>
<use href="#s40" x="121" y="301"/>
<use href="#s80" x="127" y="301"/>
<use href="#s105" x="133" y="301"/>
<use href="#s110" x="139" y="301"/>
<use href="#s116" x="145" y="301"/>
<use href="#s111" x="151" y="301"/>
<use href="#s50" x="157" y="301"/>
<use href="#s48" x="163" y="301"/>
<use href="#s48" x="169" y="301"/>
<use href="#s55" x="175" y="301"/>
<use href="#s41" x="181" y="301"/>
<rect x="59" y="315" width="803" height="6" fill="#0000ff"/>
<use href="#s110" x="61" y="322"/>
<use href="#s115" x="67" y="322"/>
<use href="#s118" x="73" y="322"/>
<use href="#s53" x="79" y="322"/>
<use href="#s49" x="85" y="322"/>
<use href="#s54" x="91" y="322"/>
<use href="#s56" x="97" y="322"/>
<use href="#s48" x="103" y="322"/>
<use href="#s55" x="109" y="322"/>
<use href="#s40" x="121" y="322"/>
<use href="#s83" x="127" y="322"/>
<use href="#s104" x="133" y="322"/>
<use href="#s97" x="139" y="322"/>
<use href="#s105" x="145" y="322"/>
<use href="#s107" x="151" y="322"/>
<use href="#s104" x="157" y="322"/>
<use href="#s50" x="163" y="322"/>
<use href="#s48" x="169" y="322"/>
<use href="#s48" x="175" y="322"/>
<use href="#s57" x="181" y="322"/>
<use href="#s41" x="187" y="322"/>
<rect x="59" y="336" width="803" height="6" fill="#8b4513"/>
<use href="#s100" x="61" y="343"/>
<use href="#s103" x="67" y="343"/>
<use href="#s118" x="73" y="343"/>
<use href="#s53" x="79" y="343"/>
<use href="#s54" x="85" y="343"/>
<use href="#s49" x="91" y="343"/>
<use href="#s55" x="97" y="343"/>
<use href="#s110" x="103" y="343"/>
<use href="#s53" x="109" y="343"/>
<use href="#s52" x="115" y="343"/>
<use href="#s40" x="127" y="343"/>
<use href="#s67" x="133" y="343"/>
<use href="#s111" x="139" y="343"/>
<use href="#s111" x="145" y="343"/>
<use href="#s112" x="151" y="343"/>
<use href="#s101" x="157" y="343"/>
<use href="#s114" x="163" y="343"/>
<use href="#s50" x="169" y="343"/>
<use href="#s48" x="175" y="343"/>
<use href="#s49" x="181" y="343"/>
<use href="#s49" x="187" y="343"/>
<use href="#s41" x="193" y="343"/>
<rect x="59" y="357" width="802" height="6" fill="#0000ff"/>
<use href="#s100" x="61" y="364"/>
<use href="#s103" x="67" y="364"/>
<use href="#s118" x="73" y="364"/>
<use href="#s53" x="79" y="364"/>
<use href="#s54" x="85" y="364"/>
<use href="#s49" x="91" y="364"/>
<use href="#s56" x="97" y="364"/>
<use href="#s110" x="103" y="364"/>
<use href="#s53" x="109" y="364"/>
<use href="#s52" x="115" y="364"/>
<use href="#s40" x="127" y="364"/>
<use href="#s67" x="133" y="364"/>
<use href="#s111" x="139" y="364"/>
<use href="#s111" x="145" y="364"/>
<use href="#s112" x="151" y="364"/>
<use href="#s101" x="157" y="364"/>
<use href="#s114" x="163" y="364"/>
<use href="#s50" x="169" y="364"/>
<use href="#s48" x="175" y="364"/>
<use href="#s49" x="181" y="364"/>
<use href="#s49" x="187" y="364"/>
<use href="#s41" x="193" y="364"/>
<rect x="59" y="378" width="803" height="6" fill="#0000ff"/>
<use href="#s100" x="61" y="385"/>
<use href="#s103" x="67" y="385"/>
<use href="#s118" x="73" y="385"/>
<use href="#s51" x="79" y="385"/>
<use href="#s54" x="85" y="385"/>
<use href="#s54" x="91" y="385"/>
<use href="#s110" x="97" y="385"/>
<use href="#s50" x="103" y="385"/>
<use href="#s55" x="109" y="385"/>
<use href="#s40" x="121" y="385"/>
<use href="#s73" x="127" y="385"/>
<use href="#s116" x="133" y="385"/>
<use href="#s115" x="139" y="385"/>
<use href="#s97" x="145" y="385"/>
<use href="#s114" x="151" y="385"/>
<use href="#s97" x="157" y="385"/>
<use href="#s50" x="163" y="385"/>
<use href="#s48" x="169" y="385"/>
<use href="#s48" x="175" y="385"/>
<use href="#s57" x="181" y="385"/>
<use href="#s41" x="187" y="385"/>
<rect x="59" y="399" width="802" height="6" fill="#0000ff"/>
<use href="#s110" x="61" y="406"/>
<use href="#s115" x="67" y="406"/>
<use href="#s118" x="73" y="406"/>
<use href="#s50" x="79" y="406"/>
<use href="#s48" x="85" y="406"/>
<use href="#s54" x="91" y="406"/>
<use href="#s57" x="97" y="406"/>
<use href="#s40" x="109" y="406"/>
<use href="#s75" x="115" y="406"/>
<use href="#s105" x="121" y="406"/>
<use href="#s100" x="127" y="406"/>
<use href="#s100" x="133" y="406"/>
<use href="#s50" x="139" y="406"/>
<use href="#s48" x="145" y="406"/>
<use href="#s48" x="151" y="406"/>
<use href="#s56" x="157" y="406"/>
<use href="#s41" x="163" y="406"/>
<rect x="59" y="422" width="61" height="1" fill="#0000ff"/>
<rect x="118" y="420" width="2" height="6" fill="#0000ff"/>
<use href="#s100" x="182" y="406"/>
<use href="#s103" x="188" y="406"/>
<use href="#s118" x="194" y="406"/>
<use href="#s51" x="200" y="406"/>
<use href="#s49" x="206" y="406"/>
<use href="#s56" x="212" y="406"/>
<use href="#s51" x="218" y="406"/>
<use href="#s110" x="224" y="406"/>
<use href="#s49" x="230" y="406"/>
<use href="#s48" x="236" y="406"/>
<use href="#s48" x="242" y="406"/>
<use href="#s40" x="254" y="406"/>
<use href="#s67" x="260" y="406"/>
<use href="#s111" x="266" y="406"/>
<use href="#s101" x="272" y="406"/>
<use href="#s50" x="278" y="406"/>
<use href="#s48" x="284" y="406"/>
<use href="#s49" x="290" y="406"/>
<use href="#s52" x="296" y="406"/>
<use href="#s41" x="302" y="406"/>
<rect x="182" y="420" width="347" height="6" fill="#0000ff"/>
<use href="#s101" x="530" y="406"/>
<use href="#s115" x="536" y="406"/>
<use href="#s118" x="542" y="406"/>
<use href="#s51" x="548" y="406"/>
<use href="#s52" x="554" y="406"/>
<use href="#s51" x="560" y="406"/>
<use href="#s56" x="566" y="406"/>
<use href="#s48" x="572" y="406"/>
<use href="#s49" x="578" y="406"/>
<use href="#s52" x="584" y="406"/>
<use href="#s40" x="596" y="406"/>
<use href="#s49" x="602" y="406"/>
<use href="#s48" x="608" y="406"/>
<use href="#s48" x="614" y="406"/>
<use href="#s48" x="620" y="406"/>
<use href="#s71" x="626" y="406"/>
<use href="#s101" x="632" y="406"/>
<use href="#s110" x="638" y="406"/>
<use href="#s111" x="644" y="406"/>
<use href="#s109" x="650" y="406"/>
<use href="#s101" x="656" y="406"/>
<use href="#s115" x="662" y="406"/>
<use href="#s67" x="668" y="406"/>
<use href="#s111" x="674" y="406"/>
<use href="#s110" x="680" y="406"/>
<use href="#s115" x="686" y="406"/>
<use href="#s111" x="692" y="406"/>
<use href="#s114" x="698" y="406"/>
<use href="#s116" x="704" y="406"/>
<use href="#s105" x="710" y="406"/>
<use href="#s117" x="716" y="406"/>
<use href="#s109" x="722" y="406"/>
<use href="#s80" x="728" y="406"/>
<use href="#s105" x="734" y="406"/>
<use href="#s108" x="740" y="406"/>
<use href="#s111" x="746" y="406"/>
<use href="#s116" x="752" y="406"/>
<use href="#s80" x="758" y="406"/>
<use href="#s114" x="764" y="406"/>
<use href="#s111" x="770" y="406"/>
<use href="#s106" x="776" y="406"/>
<use href="#s101" x="782" y="406"/>
<use href="#s99" x="788" y="406"/>
<use href="#s116" x="794" y="406"/>
<use href="#s41" x="800" y="406"/>
<rect x="530" y="422" width="132" height="1" fill="#0000ff"/>
<rect x="530" y="420" width="2" height="6" fill="#0000ff"/>
<rect x="660" y="420" width="2" height="6" fill="#0000ff"/>
<rect x="535" y="420" width="121" height="6" fill="#0000ff"/>
<use href="#s101" x="813" y="406"/>
<use href="#s115" x="819" y="406"/>
<use href="#s118" x="825" y="406"/>
<use href="#s51" x="831" y="406"/>
<use href="#s56" x="837" y="406"/>
<use href="#s57" x="843" y="406"/>
<use href="#s51" x="849" y="406"/>
<use href="#s48" x="855" y="406"/>
<use href="#s50" x="861" y="406"/>
<use href="#s48" x="867" y="406"/>
<use href="#s40" x="879" y="406"/>
<use href="#s83" x="885" y="406"/>
<use href="#s117" x="891" y="406"/>
<use href="#s107" x="897" y="406"/>
<use href="#s116" x="903" y="406"/>
<use href="#s105" x="909" y="406"/>
<use href="#s116" x="915" y="406"/>
<use href="#s105" x="921" y="406"/>
<use href="#s112" x="927" y="406"/>
<use href="#s97" x="933" y="406"/>
<use href="#s116" x="939" y="406"/>
<use href="#s50" x="945" y="406"/>
<use href="#s48" x="951" y="406"/>
<use href="#s49" x="957" y="406"/>
<use href="#s52" x="963" y="406"/>
<use href="#s41" x="969" y="406"/>
<rect x="813" y="422" width="49" height="1" fill="#0000ff"/>
<rect x="813" y="420" width="2" height="6" fill="#0000ff"/>
<use href="#s110" x="61" y="427"/>
<use href="#s115" x="67" y="427"/>
<use href="#s118" x="73" y="427"/>
<use href="#s49" x="79" y="427"/>
<use href="#s48" x="85" y="427"/>
<use href="#s53" x="91" y="427"/>
<use href="#s55" x="97" y="427"/>
<use href="#s57" x="103" y="427"/>
<use href="#s54" x="109" y="427"/>
<use href="#s51" x="115" y="427"/>
<use href="#s40" x="127" y="427"/>
<use href="#s67" x="133" y="427"/>
<use href="#s111" x="139" y="427"/>
<use href="#s101" x="145" y="427"/>
<use href="#s50" x="151" y="427"/>
<use href="#s48" x="157" y="427"/>
<use href="#s49" x="163" y="427"/>
<use href="#s52" x="169" y="427"/>
<use href="#s41" x="175" y="427"/>
<rect x="59" y="441" width="801" height="6" fill="#0000ff"/>
<use href="#s110" x="61" y="448"/>
<use href="#s115" x="67" y="448"/>
<use href="#s118" x="73" y="448"/>
<use href="#s49" x="79" y="448"/>
<use href="#s48" x="85" y="448"/>
<use href="#s54" x="91" y="448"/>
<use href="#s51" x="97" y="448"/>
<use href="#s51" x="103" y="448"/>
<use href="#s52" x="109" y="448"/>
<use href="#s57" x="115" y="448"/>
<use href="#s40" x="127" y="448"/>
<use href="#s67" x="133" y="448"/>
<use href="#s111" x="139" y="448"/>
<use href="#s101" x="145" y="448"/>
<use href="#s50" x="151" y="448"/>
<use href="#s48" x="157" y="448"/>
<use href="#s49" x="163" y="448"/>
<use href="#s52" x="169" y="448"/>
<use href="#s41" x="175" y="448"/>
<rect x="59" y="462" width="803" height="6" fill="#0000ff"/>
<use href="#s110" x="61" y="469"/>
<use href="#s115" x="67" y="469"/>
<use href="#s118" x="73" y="469"/>
<use href="#s52" x="79" y="469"/>
<use href="#s53" x="85" y="469"/>
<use href="#s55" x="91" y="469"/>
<use href="#s55" x="97" y="469"/>
<use href="#s52" x="103" y="469"/>
<use href="#s56" x="109" y="469"/>
<use href="#s40" x="121" y="469"/>
<use href="#s73" x="127" y="469"/>
<use href="#s116" x="133" y="469"/>
<use href="#s115" x="139" y="469"/>
<use href="#s97" x="145" y="469"/>
<use href="#s114" x="151" y="469"/>
<use href="#s97" x="157" y="469"/>
<use href="#s50" x="163" y="469"/>
<use href="#s48" x="169" y="469"/>
<use href="#s48" x="175" y="469"/>
<use href="#s57" x="181" y="469"/>
<use href="#s41" x="187" y="469"/>
<rect x="59" y="483" width="802" height="6" fill="#ff0000"/>
<use href="#s100" x="61" y="490"/>
<use href="#s103" x="67" y="490"/>
<use href="#s118" x="73" y="490"/>
<use href="#s53" x="79" y="490"/>
<use href="#s54" x="85" y="490"/>
<use href="#s49" x="91" y="490"/>
<use href="#s57" x="97" y="490"/>
<use href="#s110" x="103" y="490"/>
<use href="#s53" x="109" y="490"/>
<use href="#s52" x="115" y="490"/>
<use href="#s40" x="127" y="490"/>
<use href="#s67" x="133" y="490"/>
<use href="#s111" x="139" y="490"/>
<use href="#s111" x="145" y="490"/>
<use href="#s112" x="151" y="490"/>
<use href="#s101" x="157" y="490"/>
<use href="#s114" x="163" y="490"/>
<use href="#s50" x="169" y="490"/>
<use href="#s48" x="175" y="490"/>
<use href="#s49" x="181" y="490"/>
<use href="#s49" x="187" y="490"/>
<use href="#s41" x="193" y="490"/>
<rect x="59" y="504" width="802" height="6" fill="#8b4513"/>
<use href="#s110" x="107" y="511"/>
<use href="#s115" x="113" y="511"/>
<use href="#s118" x="119" y="511"/>
<use href="#s52" x="125" y="511"/>
<use href="#s55" x="131" y="511"/>
<use href="#s48" x="137" y="511"/>
<use href="#s53" x="143" y="511"/>
<use href="#s56" x="149" y="511"/>
<use href="#s57" x="155" y="511"/>
<use href="#s40" x="167" y="511"/>
<use href="#s74" x="173" y="511"/>
<use href="#s97" x="179" y="511"/>
<use href="#s107" x="185" y="511"/>
<use href="#s111" x="191" y="511"/>
<use href="#s98" x="197" y="511"/>
<use href="#s115" x="203" y="511"/>
<use href="#s115" x="209" y="511"/>
<use href="#s111" x="215" y="511"/>
<use href="#s110" x="221" y="511"/>
<use href="#s50" x="227" y="511"/>
<use href="#s48" x="233" y="511"/>
<use href="#s48" x="239" y="511"/>
<use href="#s56" x="245" y="511"/>
<use href="#s41" x="251" y="511"/>
<rect x="107" y="525" width="755" height="6" fill="#0000ff"/>
<use href="#s100" x="131" y="532"/>
<use href="#s103" x="137" y="532"/>
<use href="#s118" x="143" y="532"/>
<use href="#s51" x="149" y="532"/>
<use href="#s49" x="155" y="532"/>
<use href="#s55" x="161" y="532"/>
<use href="#s57" x="167" y="532"/>
<use href="#s110" x="173" y="532"/>
<use href="#s49" x="179" y="532"/>
<use href="#s48" x="185" y="532"/>
<use href="#s48" x="191" y="532"/>
<use href="#s40" x="203" y="532"/>
<use href="#s67" x="209" y="532"/>
<use href="#s111" x="215" y="532"/>
<use href="#s101" x="221" y="532"/>
<use href="#s50" x="227" y="532"/>
<use href="#s48" x="233" y="532"/>
<use href="#s49" x="239" y="532"/>
<use href="#s52" x="245" y="532"/>
<use href="#s41" x="251" y="532"/>
<rect x="131" y="546" width="516" height="6" fill="#0000ff"/>
<use href="#s100" x="665" y="532"/>
<use href="#s103" x="671" y="532"/>
<use href="#s118" x="677" y="532"/>
<use href="#s53" x="683" y="532"/>
<use href="#s54" x="689" y="532"/>
<use href="#s50" x="695" y="532"/>
<use href="#s57" x="701" y="532"/>
<use href="#s110" x="707" y="532"/>
<use href="#s53" x="713" y="532"/>
<use href="#s52" x="719" y="532"/>
<use href="#s40" x="731" y="532"/>
<use href="#s67" x="737" y="532"/>
<use href="#s111" x="743" y="532"/>
<use href="#s111" x="749" y="532"/>
<use href="#s112" x="755" y="532"/>
<use href="#s101" x="761" y="532"/>
<use href="#s114" x="767" y="532"/>
<use href="#s50" x="773" y="532"/>
<use href="#s48" x="779" y="532"/>
<use href="#s49" x="785" y="532"/>
<use href="#s49" x="791" y="532"/>
<use href="#s41" x="797" y="532"/>
<rect x="665" y="546" width="83" height="6" fill="#ff0000"/>
<use href="#s101" x="830" y="532"/>
<use href="#s115" x="836" y="532"/>
<use href="#s118" x="842" y="532"/>
<use href="#s51" x="848" y="532"/>
<use href="#s52" x="854" y="532"/>
<use href="#s52" x="860" y="532"/>
<use href="#s54" x="866" y="532"/>
<use href="#s50" x="872" y="532"/>
<use href="#s49" x="878" y="532"/>
<use href="#s49" x="884" y="532"/>
<use href="#s40" x="896" y="532"/>
<use href="#s49" x="902" y="532"/>
<use href="#s48" x="908" y="532"/>
<use href="#s48" x="914" y="532"/>
<use href="#s48" x="920" y="532"/>
<use href="#s71" x="926" y="532"/>
<use href="#s101" x="932" y="532"/>
<use href="#s110" x="938" y="532"/>
<use href="#s111" x="944" y="532"/>
<use href="#s109" x="950" y="532"/>
<use href="#s101" x="956" y="532"/>
<use href="#s115" x="962" y="532"/>
<use href="#s67" x="968" y="532"/>
<use href="#s111" x="974" y="532"/>
<use href="#s110" x="980" y="532"/>
<use href="#s115" x="986" y="532"/>
<use href="#s111" x="992" y="532"/>
<use href="#s114" x="998" y="532"/>
<use href="#s116" x="1004" y="532"/>
<use href="#s105" x="1010" y="532"/>
<use href="#s117" x="1016" y="532"/>
<use href="#s109" x="1022" y="532"/>
<use href="#s80" x="1028" y="532"/>
<use href="#s105" x="1034" y="532"/>
<use href="#s108" x="1040" y="532"/>
<use href="#s111" x="1046" y="532"/>
<use href="#s116" x="1052" y="532"/>
<use href="#s80" x="1058" y="532"/>
<use href="#s114" x="1064" y="532"/>
<use href="#s111" x="1070" y="532"/>
<use href="#s106" x="1076" y="532"/>
<use href="#s101" x="1082" y="532"/>
<use href="#s99" x="1088" y="532"/>
<use href="#s116" x="1094" y="532"/>
<use href="#s41" x="1100" y="532"/>
<rect x="830" y="548" width="25" height="1" fill="#0000ff"/>
<rect x="830" y="546" width="2" height="6" fill="#0000ff"/>
<rect x="853" y="546" width="2" height="6" fill="#0000ff"/>
<rect x="835" y="546" width="14" height="6" fill="#0000ff"/>
<use href="#s100" x="131" y="553"/>
<use href="#s103" x="137" y="553"/>
<use href="#s118" x="143" y="553"/>
<use href="#s51" x="149" y="553"/>
<use href="#s49" x="155" y="553"/>
<use href="#s56" x="161" y="553"/>
<use href="#s48" x="167" y="553"/>
<use href="#s110" x="173" y="553"/>
<use href="#s49" x="179" y="553"/>
<use href="#s48" x="185" y="553"/>
<use href="#s48" x="191" y="553"/>
<use href="#s40" x="203" y="553"/>
<use href="#s67" x="209" y="553"/>
<use href="#s111" x="215" y="553"/>
<use href="#s101" x="221" y="553"/>
<use href="#s50" x="227" y="553"/>
<use href="#s48" x="233" y="553"/>
<use href="#s49" x="239" y="553"/>
<use href="#s52" x="245" y="553"/>
<use href="#s41" x="251" y="553"/>
<rect x="131" y="567" width="731" height="6" fill="#0000ff"/>
<use href="#s100" x="131" y="574"/>
<use href="#s103" x="137" y="574"/>
<use href="#s118" x="143" y="574"/>
<use href="#s51" x="149" y="574"/>
<use href="#s49" x="155" y="574"/>
<use href="#s56" x="161" y="574"/>
<use href="#s49" x="167" y="574"/>
<use href="#s110" x="173" y="574"/>
<use href="#s49" x="179" y="574"/>
<use href="#s48" x="185" y="574"/>
<use href="#s48" x="191" y="574"/>
<use href="#s40" x="203" y="574"/>
<use href="#s67" x="209" y="574"/>
<use href="#s111" x="215" y="574"/>
<use href="#s101" x="221" y="574"/>
<use href="#s50" x="227" y="574"/>
<use href="#s48" x="233" y="574"/>
<use href="#s49" x="239" y="574"/>
<use href="#s52" x="245" y="574"/>
<use href="#s41" x="251" y="574"/>
<rect x="131" y="588" width="731" height="6" fill="#0000ff"/>
<use href="#s100" x="156" y="595"/>
<use href="#s103" x="162" y="595"/>
<use href="#s118" x="168" y="595"/>
<use href="#s51" x="174" y="595"/>
<use href="#s49" x="180" y="595"/>
<use href="#s56" x="186" y="595"/>
<use href="#s50" x="192" y="595"/>
<use href="#s110" x="198" y="595"/>
<use href="#s49" x="204" y="595"/>
<use href="#s48" x="210" y="595"/>
<use href="#s48" x="216" y="595"/>
<use href="#s40" x="228" y="595"/>
<use href="#s67" x="234" y="595"/>
<use href="#s111" x="240" y="595"/>
<use href="#s101" x="246" y="595"/>
<use href="#s50" x="252" y="595"/>
<use href="#s48" x="258" y="595"/>
<use href="#s49" x="264" y="595"/>
<use href="#s52" x="270" y="595"/>
<use href="#s41" x="276" y="595"/>
<rect x="156" y="609" width="704" height="6" fill="#0000ff"/>
<use href="#s100" x="189" y="616"/>
<use href="#s103" x="195" y="616"/>
<use href="#s118" x="201" y="616"/>
<use href="#s51" x="207" y="616"/>
<use href="#s49" x="213" y="616"/>
<use href="#s56" x="219" y="616"/>
<use href="#s52" x="225" y="616"/>
<use href="#s110" x="231" y="616"/>
<use href="#s49" x="237" y="616"/>
<use href="#s48" x="243" y="616"/>
<use href="#s48" x="249" y="616"/>
<use href="#s40" x="261" y="616"/>
<use href="#s67" x="267" y="616"/>
<use href="#s111" x="273" y="616"/>
<use href="#s101" x="279" y="616"/>
<use href="#s50" x="285" y="616"/>
<use href="#s48" x="291" y="616"/>
<use href="#s49" x="297" y="616"/>
<use href="#s52" x="303" y="616"/>
<use href="#s41" x="309" y="616"/>
<rect x="189" y="630" width="673" height="6" fill="#0000ff"/>
<use href="#s100" x="189" y="637"/>
<use href="#s103" x="195" y="637"/>
<use href="#s118" x="201" y="637"/>
<use href="#s51" x="207" y="637"/>
<use href="#s49" x="213" y="637"/>
<use href="#s56" x="219" y="637"/>
<use href="#s53" x="225" y="637"/>
<use href="#s110" x="231" y="637"/>
<use href="#s49" x="237" y="637"/>
<use href="#s48" x="243" y="637"/>
<use href="#s48" x="249" y="637"/>
<use href="#s40" x="261" y="637"/>
<use href="#s67" x="267" y="637"/>
<use href="#s111" x="273" y="637"/>
<use href="#s101" x="279" y="637"/>
<use href="#s50" x="285" y="637"/>
<use href="#s48" x="291" y="637"/>
<use href="#s49" x="297" y="637"/>
<use href="#s52" x="303" y="637"/>
<use href="#s41" x="309" y="637"/>
<rect x="189" y="651" width="673" height="6" fill="#0000ff"/>
<use href="#s100" x="190" y="658"/>
<use href="#s103" x="196" y="658"/>
<use href="#s118" x="202" y="658"/>
<use href="#s49" x="208" y="658"/>
<use href="#s50" x="214" y="658"/>
<use href="#s57" x="220" y="658"/>
<use href="#s101" x="226" y="658"/>
<use href="#s53" x="232" y="658"/>
<use href="#s53" x="238" y="658"/>
<use href="#s40" x="250" y="658"/>
<use href="#s80" x="256" y="658"/>
<use href="#s105" x="262" y="658"/>
<use href="#s110" x="268" y="658"/>
<use href="#s116" x="274" y="658"/>
<use href="#s111" x="280" y="658"/>
<use href="#s50" x="286" y="658"/>
<use href="#s48" x="292" y="658"/>
<use href="#s48" x="298" y="658"/>
<use href="#s55" x="304" y="658"/>
<use href="#s41" x="310" y="658"/>
<rect x="190" y="672" width="672" height="6" fill="#ff0000"/>
<use href="#s110" x="200" y="679"/>
<use href="#s115" x="206" y="679"/>
<use href="#s118" x="212" y="679"/>
<use href="#s56" x="218" y="679"/>
<use href="#s50" x="224" y="679"/>
<use href="#s49" x="230" y="679"/>
<use href="#s54" x="236" y="679"/>
<use href="#s56" x="242" y="679"/>
<use href="#s55" x="248" y="679"/>
<use href="#s40" x="260" y="679"/>
<use href="#s83" x="266" y="679"/>
<use href="#s101" x="272" y="679"/>
<use href="#s98" x="278" y="679"/>
<use href="#s97" x="284" y="679"/>
<use href="#s116" x="290" y="679"/>
<use href="#s50" x="296" y="679"/>
<use href="#s48" x="302" y="679"/>
<use href="#s48" x="308" y="679"/>
<use href="#s52" x="314" y="679"/>
<use href="#s41" x="320" y="679"/>
<rect x="200" y="693" width="662" height="6" fill="#0000ff"/>
<use href="#s100" x="211" y="700"/>
<use href="#s103" x="217" y="700"/>
<use href="#s118" x="223" y="700"/>
<use href="#s51" x="229" y="700"/>
<use href="#s49" x="235" y="700"/>
<use href="#s56" x="241" y="700"/>
<use href="#s54" x="247" y="700"/>
<use href="#s110" x="253" y="700"/>
<use href="#s49" x="259" y="700"/>
<use href="#s48" x="265" y="700"/>
<use href="#s48" x="271" y="700"/>
<use href="#s40" x="283" y="700"/>
<use href="#s67" x="289" y="700"/>
<use href="#s111" x="295" y="700"/>
<use href="#s101" x="301" y="700"/>
<use href="#s50" x="307" y="700"/>
<use href="#s48" x="313" y="700"/>
<use href="#s49" x="319" y="700"/>
<use href="#s52" x="325" y="700"/>
<use href="#s41" x="331" y="700"/>
<rect x="211" y="714" width="459" height="6" fill="#0000ff"/>
<use href="#s110" x="678" y="700"/>
<use href="#s115" x="684" y="700"/>
<use href="#s118" x="690" y="700"/>
<use href="#s53" x="696" y="700"/>
<use href="#s55" x="702" y="700"/>
<use href="#s53" x="708" y="700"/>
<use href="#s50" x="714" y="700"/>
<use href="#s48" x="720" y="700"/>
<use href="#s50" x="726" y="700"/>
<use href="#s40" x="738" y="700"/>
<use href="#s67" x="744" y="700"/>
<use href="#s111" x="750" y="700"/>
<use href="#s111" x="756" y="700"/>
<use href="#s112" x="762" y="700"/>
<use href="#s101" x="768" y="700"/>
<use href="#s114" x="774" y="700"/>
<use href="#s50" x="780" y="700"/>
<use href="#s48" x="786" y="700"/>
<use href="#s49" x="792" y="700"/>
<use href="#s49" x="798" y="700"/>
<use href="#s41" x="804" y="700"/>
<rect x="678" y="714" width="48" height="6" fill="#ff0000"/>
<use href="#s101" x="846" y="700"/>
<use href="#s115" x="852" y="700"/>
<use href="#s118" x="858" y="700"/>
<use href="#s51" x="864" y="700"/>
<use href="#s51" x="870" y="700"/>
<use href="#s51" x="876" y="700"/>
<use href="#s50" x="882" y="700"/>
<use href="#s53" x="888" y="700"/>
<use href="#s48" x="894" y="700"/>
<use href="#s48" x="900" y="700"/>
<use href="#s40" x="912" y="700"/>
<use href="#s49" x="918" y="700"/>
<use href="#s48" x="924" y="700"/>
<use href="#s48" x="930" y="700"/>
<use href="#s48" x="936" y="700"/>
<use href="#s71" x="942" y="700"/>
<use href="#s101" x="948" y="700"/>
<use href="#s110" x="954" y="700"/>
<use href="#s111" x="960" y="700"/>
<use href="#s109" x="966" y="700"/>
<use href="#s101" x="972" y="700"/>
<use href="#s115" x="978" y="700"/>
<use href="#s67" x="984" y="700"/>
<use href="#s111" x="990" y="700"/>
<use href="#s110" x="996" y="700"/>
<use href="#s115" x="1002" y="700"/>
<use href="#s111" x="1008" y="700"/>
<use href="#s114" x="1014" y="700"/>
<use href="#s116" x="1020" y="700"/>
<use href="#s105" x="1026" y="700"/>
<use href="#s117" x="1032" y="700"/>
<use href="#s109" x="1038" y="700"/>
<use href="#s80" x="1044" y="700"/>
<use href="#s105" x="1050" y="700"/>
<use href="#s108" x="1056" y="700"/>
<use href="#s111" x="1062" y="700"/>
<use href="#s116" x="1068" y="700"/>
<use href="#s80" x="1074" y="700"/>
<use href="#s114" x="1080" y="700"/>
<use href="#s111" x="1086" y="700"/>
<use href="#s106" x="1092" y="700"/>
<use href="#s101" x="1098" y="700"/>
<use href="#s99" x="1104" y="700"/>
<use href="#s116" x="1110" y="700"/>
<use href="#s41" x="1116" y="700"/>
<rect x="846" y="716" width="16" height="1" fill="#0000ff"/>
<rect x="846" y="714" width="2" height="6" fill="#0000ff"/>
<rect x="851" y="714" width="11" height="6" fill="#0000ff"/>
<use href="#s101" x="214" y="721"/>
<use href="#s115" x="220" y="721"/>
<use href="#s118" x="226" y="721"/>
<use href="#s51" x="232" y="721"/>
<use href="#s51" x="238" y="721"/>
<use href="#s48" x="244" y="721"/>
<use href="#s52" x="250" y="721"/>
<use href="#s56" x="256" y="721"/>
<use href="#s40" x="268" y="721"/>
<use href="#s100" x="274" y="721"/>
<use href="#s101" x="280" y="721"/>
<use href="#s83" x="286" y="721"/>
<use href="#s109" x="292" y="721"/>
<use href="#s105" x="298" y="721"/>
<use href="#s116" x="304" y="721"/>
<use href="#s104" x="310" y="721"/>
<use href="#s50" x="316" y="721"/>
<use href="#s48" x="322" y="721"/>
<use href="#s48" x="328" y="721"/>
<use href="#s55" x="334" y="721"/>
<use href="#s41" x="340" y="721"/>
<rect x="214" y="735" width="648" height="6" fill="#8b4513"/>
<use href="#s100" x="217" y="742"/>
<use href="#s103" x="223" y="742"/>
<use href="#s118" x="229" y="742"/>
<use href="#s51" x="235" y="742"/>
<use href="#s49" x="241" y="742"/>
<use href="#s56" x="247" y="742"/>
<use href="#s55" x="253" y="742"/>
<use href="#s110" x="259" y="742"/>
<use href="#s49" x="265" y="742"/>
<use href="#s48" x="271" y="742"/>
<use href="#s48" x="277" y="742"/>
<use href="#s40" x="289" y="742"/>
<use href="#s67" x="295" y="742"/>
<use href="#s111" x="301" y="742"/>
<use href="#s101" x="307" y="742"/>
<use href="#s50" x="313" y="742"/>
<use href="#s48" x="319" y="742"/>
<use href="#s49" x="325" y="742"/>
<use href="#s52" x="331" y="742"/>
<use href="#s41" x="337" y="742"/>
<rect x="217" y="756" width="227" height="6" fill="#0000ff"/>
<use href="#s100" x="461" y="742"/>
<use href="#s103" x="467" y="742"/>
<use href="#s118" x="473" y="742"/>
<use href="#s51" x="479" y="742"/>
<use href="#s50" x="485" y="742"/>
<use href="#s49" x="491" y="742"/>
<use href="#s53" x="497" y="742"/>
<use href="#s110" x="503" y="742"/>
<use href="#s49" x="509" y="742"/>
<use href="#s48" x="515" y="742"/>
<use href="#s48" x="521" y="742"/>
<use href="#s40" x="533" y="742"/>
<use href="#s67" x="539" y="742"/>
<use href="#s111" x="545" y="742"/>
<use href="#s101" x="551" y="742"/>
<use href="#s50" x="557" y="742"/>
<use href="#s48" x="563" y="742"/>
<use href="#s49" x="569" y="742"/>
<use href="#s52" x="575" y="742"/>
<use href="#s41" x="581" y="742"/>
<rect x="461" y="756" width="146" height="6" fill="#ff0000"/>
<use href="#s100" x="628" y="742"/>
<use href="#s103" x="634" y="742"/>
<use href="#s118" x="640" y="742"/>
<use href="#s51" x="646" y="742"/>
<use href="#s50" x="652" y="742"/>
<use href="#s51" x="658" y="742"/>
<use href="#s50" x="664" y="742"/>
<use href="#s110" x="670" y="742"/>
<use href="#s49" x="676" y="742"/>
<use href="#s48" x="682" y="742"/>
<use href="#s48" x="688" y="742"/>
<use href="#s40" x="700" y="742"/>
<use href="#s67" x="706" y="742"/>
<use href="#s111" x="712" y="742"/>
<use href="#s101" x="718" y="742"/>
<use href="#s50" x="724" y="742"/>
<use href="#s48" x="730" y="742"/>
<use href="#s49" x="736" y="742"/>
<use href="#s52" x="742" y="742"/>
<use href="#s41" x="748" y="742"/>
<rect x="628" y="756" width="234" height="6" fill="#ff0000"/>
<use href="#s100" x="217" y="763"/>
<use href="#s103" x="223" y="763"/>
<use href="#s118" x="229" y="763"/>
<use href="#s51" x="235" y="763"/>
<use href="#s49" x="241" y="763"/>
<use href="#s56" x="247" y="763"/>
<use href="#s56" x="253" y="763"/>
<use href="#s110" x="259" y="763"/>
<use href="#s49" x="265" y="763"/>
<use href="#s48" x="271" y="763"/>
<use href="#s48" x="277" y="763"/>
<use href="#s40" x="289" y="763"/>
<use href="#s67" x="295" y="763"/>
<use href="#s111" x="301" y="763"/>
<use href="#s101" x="307" y="763"/>
<use href="#s50" x="313" y="763"/>
<use href="#s48" x="319" y="763"/>
<use href="#s49" x="325" y="763"/>
<use href="#s52" x="331" y="763"/>
<use href="#s41" x="337" y="763"/>
<rect x="217" y="777" width="645" height="6" fill="#0000ff"/>
<use href="#s110" x="217" y="784"/>
<use href="#s115" x="223" y="784"/>
<use href="#s118" x="229" y="784"/>
<use href="#s51" x="235" y="784"/>
<use href="#s49" x="241" y="784"/>
<use href="#s54" x="247" y="784"/>
<use href="#s57" x="253" y="784"/>
<use href="#s54" x="259" y="784"/>
<use href="#s48" x="265" y="784"/>
<use href="#s51" x="271" y="784"/>
<use href="#s40" x="283" y="784"/>
<use href="#s70" x="289" y="784"/>
<use href="#s117" x="295" y="784"/>
<use href="#s50" x="301" y="784"/>
<use href="#s48" x="307" y="784"/>
<use href="#s49" x="313" y="784"/>
<use href="#s56" x="319" y="784"/>
<use href="#s41" x="325" y="784"/>
<rect x="217" y="800" width="645" height="1" fill="#0000ff"/>
<rect x="217" y="798" width="2" height="6" fill="#0000ff"/>
<rect x="231" y="798" width="631" height="6" fill="#0000ff"/>
<use href="#s110" x="220" y="805"/>
<use href="#s115" x="226" y="805"/>
<use href="#s118" x="232" y="805"/>
<use href="#s56" x="238" y="805"/>
<use href="#s51" x="244" y="805"/>
<use href="#s51" x="250" y="805"/>
<use href="#s52" x="256" y="805"/>
<use href="#s54" x="262" y="805"/>
<use href="#s49" x="268" y="805"/>
<use href="#s40" x="280" y="805"/>
<use href="#s87" x="286" y="805"/>
<use href="#s111" x="292" y="805"/>
<use href="#s110" x="298" y="805"/>
<use href="#s103" x="304" y="805"/>
<use href="#s50" x="310" y="805"/>
<use href="#s48" x="316" y="805"/>
<use href="#s48" x="322" y="805"/>
<use href="#s55" x="328" y="805"/>
<use href="#s41" x="334" y="805"/>
<rect x="220" y="821" width="619" height="1" fill="#0000ff"/>
<rect x="220" y="819" width="2" height="6" fill="#0000ff"/>
<rect x="837" y="819" width="2" height="6" fill="#0000ff"/>
<use href="#s110" x="859" y="805"/>
<use href="#s115" x="865" y="805"/>
<use href="#s118" x="871" y="805"/>
<use href="#s52" x="877" y="805"/>
<use href="#s55" x="883" y="805"/>
<use href="#s50" x="889" y="805"/>
<use href="#s48" x="895" y="805"/>
<use href="#s48" x="901" y="805"/>
<use href="#s48" x="907" y="805"/>
<use href="#s40" x="919" y="805"/>
<use href="#s75" x="925" y="805"/>
<use href="#s105" x="931" y="805"/>
<use href="#s100" x="937" y="805"/>
<use href="#s100" x="943" y="805"/>
<use href="#s50" x="949" y="805"/>
<use href="#s48" x="955" y="805"/>
<use href="#s48" x="961" y="805"/>
<use href="#s56" x="967" y="805"/>
<use href="#s41" x="973" y="805"/>
<rect x="859" y="819" width="2" height="6" fill="#0000ff"/>
<use href="#s101" x="221" y="826"/>
<use href="#s115" x="227" y="826"/>
<use href="#s118" x="233" y="826"/>
<use href="#s51" x="239" y="826"/>
<use href="#s56" x="245" y="826"/>
<use href="#s57" x="251" y="826"/>
<use href="#s51" x="257" y="826"/>
<use href="#s48" x="263" y="826"/>
<use href="#s50" x="269" y="826"/>
<use href="#s50" x="275" y="826"/>
<use href="#s40" x="287" y="826"/>
<use href="#s83" x="293" y="826"/>
<use href="#s117" x="299" y="826"/>
<use href="#s107" x="305" y="826"/>
<use href="#s116" x="311" y="826"/>
<use href="#s105" x="317" y="826"/>
<use href="#s116" x="323" y="826"/>
<use href="#s105" x="329" y="826"/>
<use href="#s112" x="335" y="826"/>
<use href="#s97" x="341" y="826"/>
<use href="#s116" x="347" y="826"/>
<use href="#s50" x="353" y="826"/>
<use href="#s48" x="359" y="826"/>
<use href="#s49" x="365" y="826"/>
<use href="#s52" x="371" y="826"/>
<use href="#s41" x="377" y="826"/>
<rect x="221" y="842" width="641" height="1" fill="#0000ff"/>
<rect x="221" y="840" width="2" height="6" fill="#0000ff"/>
<rect x="250" y="840" width="611" height="6" fill="#0000ff"/>
<use href="#s100" x="221" y="847"/>
<use href="#s103" x="227" y="847"/>
<use href="#s118" x="233" y="847"/>
<use href="#s51" x="239" y="847"/>
<use href="#s54" x="245" y="847"/>
<use href="#s55" x="251" y="847"/>
<use href="#s110" x="257" y="847"/>
<use href="#s50" x="263" y="847"/>
<use href="#s55" x="269" y="847"/>
<use href="#s40" x="281" y="847"/>
<use href="#s73" x="287" y="847"/>
<use href="#s116" x="293" y="847"/>
<use href="#s115" x="299" y="847"/>
<use href="#s97" x="305" y="847"/>
<use href="#s114" x="311" y="847"/>
<use href="#s97" x="317" y="847"/>
<use href="#s50" x="323" y="847"/>
<use href="#s48" x="329" y="847"/>
<use href="#s48" x="335" y="847"/>
<use href="#s57" x="341" y="847"/>
<use href="#s41" x="347" y="847"/>
<rect x="221" y="861" width="640" height="6" fill="#0000ff"/>
<use href="#s100" x="221" y="868"/>
<use href="#s103" x="227" y="868"/>
<use href="#s118" x="233" y="868"/>
<use href="#s53" x="239" y="868"/>
<use href="#s54" x="245" y="868"/>
<use href="#s50" x="251" y="868"/>
<use href="#s48" x="257" y="868"/>
<use href="#s110" x="263" y="868"/>
<use href="#s53" x="269" y="868"/>
<use href="#s52" x="275" y="868"/>
<use href="#s40" x="287" y="868"/>
<use href="#s67" x="293" y="868"/>
<use href="#s111" x="299" y="868"/>
<use href="#s111" x="305" y="868"/>
<use href="#s112" x="311" y="868"/>
<use href="#s101" x="317" y="868"/>
<use href="#s114" x="323" y="868"/>
<use href="#s50" x="329" y="868"/>
<use href="#s48" x="335" y="868"/>
<use href="#s49" x="341" y="868"/>
<use href="#s49" x="347" y="868"/>
<use href="#s41" x="353" y="868"/>
<rect x="221" y="882" width="640" height="6" fill="#0000ff"/>
<use href="#s101" x="223" y="889"/>
<use href="#s115" x="229" y="889"/>
<use href="#s118" x="235" y="889"/>
<use href="#s51" x="241" y="889"/>
<use href="#s52" x="247" y="889"/>
<use href="#s50" x="253" y="889"/>
<use href="#s55" x="259" y="889"/>
<use href="#s51" x="265" y="889"/>
<use href="#s49" x="271" y="889"/>
<use href="#s57" x="277" y="889"/>
<use href="#s40" x="289" y="889"/>
<use href="#s49" x="295" y="889"/>
<use href="#s48" x="301" y="889"/>
<use href="#s48" x="307" y="889"/>
<use href="#s48" x="313" y="889"/>
<use href="#s71" x="319" y="889"/>
<use href="#s101" x="325" y="889"/>
<use href="#s110" x="331" y="889"/>
<use href="#s111" x="337" y="889"/>
<use href="#s109" x="343" y="889"/>
<use href="#s101" x="349" y="889"/>
<use href="#s115" x="355" y="889"/>
<use href="#s67" x="361" y="889"/>
<use href="#s111" x="367" y="889"/>
<use href="#s110" x="373" y="889"/>
<use href="#s115" x="379" y="889"/>
<use href="#s111" x="385" y="889"/>
<use href="#s114" x="391" y="889"/>
<use href="#s116" x="397" y="889"/>
<use href="#s105" x="403" y="889"/>
<use href="#s117" x="409" y="889"/>
<use href="#s109" x="415" y="889"/>
<use href="#s80" x="421" y="889"/>
<use href="#s105" x="427" y="889"/>
<use href="#s108" x="433" y="889"/>
<use href="#s111" x="439" y="889"/>
<use href="#s116" x="445" y="889"/>
<use href="#s80" x="451" y="889"/>
<use href="#s114" x="457" y="889"/>
<use href="#s111" x="463" y="889"/>
<use href="#s106" x="469" y="889"/>
<use href="#s101" x="475" y="889"/>
<use href="#s99" x="481" y="889"/>
<use href="#s116" x="487" y="889"/>
<use href="#s41" x="493" y="889"/>
<rect x="223" y="905" width="53" height="1" fill="#0000ff"/>
<rect x="223" y="903" width="2" height="6" fill="#0000ff"/>
<rect x="274" y="903" width="2" height="6" fill="#0000ff"/>
<rect x="228" y="903" width="42" height="6" fill="#0000ff"/>
<use href="#s101" x="500" y="889"/>
<use href="#s115" x="506" y="889"/>
<use href="#s118" x="512" y="889"/>
<use href="#s51" x="518" y="889"/>
<use href="#s51" x="524" y="889"/>
<use href="#s56" x="530" y="889"/>
<use href="#s56" x="536" y="889"/>
<use href="#s54" x="542" y="889"/>
<use href="#s56" x="548" y="889"/>
<use href="#s51" x="554" y="889"/>
<use href="#s40" x="566" y="889"/>
<use href="#s49" x="572" y="889"/>
<use href="#s48" x="578" y="889"/>
<use href="#s48" x="584" y="889"/>
<use href="#s48" x="590" y="889"/>
<use href="#s71" x="596" y="889"/>
<use href="#s101" x="602" y="889"/>
<use href="#s110" x="608" y="889"/>
<use href="#s111" x="614" y="889"/>
<use href="#s109" x="620" y="889"/>
<use href="#s101" x="626" y="889"/>
<use href="#s115" x="632" y="889"/>
<use href="#s67" x="638" y="889"/>
<use href="#s111" x="644" y="889"/>
<use href="#s110" x="650" y="889"/>
<use href="#s115" x="656" y="889"/>
<use href="#s111" x="662" y="889"/>
<use href="#s114" x="668" y="889"/>
<use href="#s116" x="674" y="889"/>
<use href="#s105" x="680" y="889"/>
<use href="#s117" x="686" y="889"/>
<use href="#s109" x="692" y="889"/>
<use href="#s80" x="698" y="889"/>
<use href="#s105" x="704" y="889"/>
<use href="#s108" x="710" y="889"/>
<use href="#s111" x="716" y="889"/>
<use href="#s116" x="722" y="889"/>
<use href="#s80" x="728" y="889"/>
<use href="#s114" x="734" y="889"/>
<use href="#s111" x="740" y="889"/>
<use href="#s106" x="746" y="889"/>
<use href="#s101" x="752" y="889"/>
<use href="#s99" x="758" y="889"/>
<use href="#s116" x="764" y="889"/>
<use href="#s41" x="770" y="889"/>
<rect x="500" y="905" width="24" height="1" fill="#0000ff"/>
<rect x="500" y="903" width="2" height="6" fill="#0000ff"/>
<rect x="522" y="903" width="2" height="6" fill="#0000ff"/>
<rect x="504" y="903" width="14" height="6" fill="#0000ff"/>
<use href="#s100" x="778" y="889"/>
<use href="#s103" x="784" y="889"/>
<use href="#s118" x="790" y="889"/>
<use href="#s51" x="796" y="889"/>
<use href="#s50" x="802" y="889"/>
<use href="#s52" x="808" y="889"/>
<use href="#s51" x="814" y="889"/>
<use href="#s110" x="820" y="889"/>
<use href="#s49" x="826" y="889"/>
<use href="#s48" x="832" y="889"/>
<use href="#s48" x="838" y="889"/>
<use href="#s40" x="850" y="889"/>
<use href="#s67" x="856" y="889"/>
<use href="#s111" x="862" y="889"/>
<use href="#s101" x="868" y="889"/>
<use href="#s50" x="874" y="889"/>
<use href="#s48" x="880" y="889"/>
<use href="#s49" x="886" y="889"/>
<use href="#s52" x="892" y="889"/>
<use href="#s41" x="898" y="889"/>
<rect x="778" y="903" width="84" height="6" fill="#0000ff"/>
<use href="#s100" x="227" y="910"/>
<use href="#s103" x="233" y="910"/>
<use href="#s118" x="239" y="910"/>
<use href="#s49" x="245" y="910"/>
<use href="#s55" x="251" y="910"/>
<use href="#s54" x="257" y="910"/>
<use href="#s53" x="263" y="910"/>
<use href="#s101" x="269" y="910"/>
<use href="#s53" x="275" y="910"/>
<use href="#s57" x="281" y="910"/>
<use href="#s40" x="293" y="910"/>
<use href="#s49" x="299" y="910"/>
<use href="#s48" x="305" y="910"/>
<use href="#s48" x="311" y="910"/>
<use href="#s48" x="317" y="910"/>
<use href="#s71" x="323" y="910"/>
<use href="#s101" x="329" y="910"/>
<use href="#s110" x="335" y="910"/>
<use href="#s111" x="341" y="910"/>
<use href="#s109" x="347" y="910"/>
<use href="#s101" x="353" y="910"/>
<use href="#s115" x="359" y="910"/>
<use href="#s67" x="365" y="910"/>
<use href="#s111" x="371" y="910"/>
<use href="#s110" x="377" y="910"/>
<use href="#s115" x="383" y="910"/>
<use href="#s111" x="389" y="910"/>
<use href="#s114" x="395" y="910"/>
<use href="#s116" x="401" y="910"/>
<use href="#s105" x="407" y="910"/>
<use href="#s117" x="413" y="910"/>
<use href="#s109" x="419" y="910"/>
<use href="#s80" x="425" y="910"/>
<use href="#s105" x="431" y="910"/>
<use href="#s108" x="437" y="910"/>
<use href="#s111" x="443" y="910"/>
<use href="#s116" x="449" y="910"/>
<use href="#s80" x="455" y="910"/>
<use href="#s114" x="461" y="910"/>
<use href="#s111" x="467" y="910"/>
<use href="#s106" x="473" y="910"/>
<use href="#s101" x="479" y="910"/>
<use href="#s99" x="485" y="910"/>
<use href="#s116" x="491" y="910"/>
<use href="#s41" x="497" y="910"/>
<rect x="227" y="924" width="635" height="6" fill="#0000ff"/>
<use href="#s110" x="228" y="931"/>
<use href="#s115" x="234" y="931"/>
<use href="#s118" x="240" y="931"/>
<use href="#s57" x="246" y="931"/>
<use href="#s53" x="252" y="931"/>
<use href="#s54" x="258" y="931"/>
<use href="#s52" x="264" y="931"/>
<use href="#s40" x="276" y="931"/>
<use href="#s80" x="282" y="931"/>
<use href="#s101" x="288" y="931"/>
<use href="#s114" x="294" y="931"/>
<use href="#s114" x="300" y="931"/>
<use href="#s121" x="306" y="931"/>
<use href="#s50" x="312" y="931"/>
<use href="#s48" x="318" y="931"/>
<use href="#s48" x="324" y="931"/>
<use href="#s56" x="330" y="931"/>
<use href="#s41" x="336" y="931"/>
<rect x="228" y="947" width="634" height="1" fill="#8b4513"/>
<rect x="228" y="945" width="2" height="6" fill="#8b4513"/>
<use href="#s101" x="228" y="952"/>
<use href="#s115" x="234" y="952"/>
<use href="#s118" x="240" y="952"/>
<use href="#s50" x="246" y="952"/>
<use href="#s49" x="252" y="952"/>
<use href="#s55" x="258" y="952"/>
<use href="#s56" x="264" y="952"/>
<use href="#s51" x="270" y="952"/>
<use href="#s40" x="282" y="952"/>
<use href="#s67" x="288" y="952"/>
<use href="#s111" x="294" y="952"/>
<use href="#s110" x="300" y="952"/>
<use href="#s114" x="306" y="952"/>
<use href="#s97" x="312" y="952"/>
<use href="#s100" x="318" y="952"/>
<use href="#s50" x="324" y="952"/>
<use href="#s48" x="330" y="952"/>
<use href="#s48" x="336" y="952"/>
<use href="#s57" x="342" y="952"/>
<use href="#s41" x="348" y="952"/>
<rect x="228" y="966" width="634" height="6" fill="#8b4513"/>
<use href="#s110" x="230" y="973"/>
<use href="#s115" x="236" y="973"/>
<use href="#s118" x="242" y="973"/>
<use href="#s53" x="248" y="973"/>
<use href="#s49" x="254" y="973"/>
<use href="#s52" x="260" y="973"/>
<use href="#s56" x="266" y="973"/>
<use href="#s53" x="272" y="973"/>
<use href="#s48" x="278" y="973"/>
<use href="#s40" x="290" y="973"/>
<use href="#s67" x="296" y="973"/>
<use href="#s97" x="302" y="973"/>
<use href="#s109" x="308" y="973"/>
<use href="#s112" x="314" y="973"/>
<use href="#s98" x="320" y="973"/>
<use href="#s101" x="326" y="973"/>
<use href="#s108" x="332" y="973"/>
<use href="#s108" x="338" y="973"/>
<use href="#s50" x="344" y="973"/>
<use href="#s48" x="350" y="973"/>
<use href="#s49" x="356" y="973"/>
<use href="#s49" x="362" y="973"/>
<use href="#s41" x="368" y="973"/>
<rect x="230" y="987" width="624" height="6" fill="#0000ff"/>
<use href="#s110" x="859" y="973"/>
<use href="#s115" x="865" y="973"/>
<use href="#s118" x="871" y="973"/>
<use href="#s57" x="877" y="973"/>
<use href="#s54" x="883" y="973"/>
<use href="#s48" x="889" y="973"/>
<use href="#s48" x="895" y="973"/>
<use href="#s48" x="901" y="973"/>
<use href="#s48" x="907" y="973"/>
<use href="#s40" x="919" y="973"/>
<use href="#s75" x="925" y="973"/>
<use href="#s105" x="931" y="973"/>
<use href="#s100" x="937" y="973"/>
<use href="#s100" x="943" y="973"/>
<use href="#s50" x="949" y="973"/>
<use href="#s48" x="955" y="973"/>
<use href="#s48" x="961" y="973"/>
<use href="#s56" x="967" y="973"/>
<use href="#s41" x="973" y="973"/>
<rect x="859" y="987" width="3" height="6" fill="#0000ff"/>
<use href="#s101" x="230" y="994"/>
<use href="#s115" x="236" y="994"/>
<use href="#s118" x="242" y="994"/>
<use href="#s50" x="248" y="994"/>
<use href="#s57" x="254" y="994"/>
<use href="#s57" x="260" y="994"/>
<use href="#s53" x="266" y="994"/>
<use href="#s49" x="272" y="994"/>
<use href="#s40" x="284" y="994"/>
<use href="#s87" x="290" y="994"/>
<use href="#s104" x="296" y="994"/>
<use href="#s101" x="302" y="994"/>
<use href="#s101" x="308" y="994"/>
<use href="#s108" x="314" y="994"/>
<use href="#s101" x="320" y="994"/>
<use href="#s114" x="326" y="994"/>
<use href="#s50" x="332" y="994"/>
<use href="#s48" x="338" y="994"/>
<use href="#s48" x="344" y="994"/>
<use href="#s56" x="350" y="994"/>
<use href="#s41" x="356" y="994"/>
<rect x="230" y="1008" width="612" height="6" fill="#0000ff"/>
<use href="#s110" x="231" y="1015"/>
<use href="#s115" x="237" y="1015"/>
<use href="#s118" x="243" y="1015"/>
<use href="#s52" x="249" y="1015"/>
<use href="#s52" x="255" y="1015"/>
<use href="#s50" x="261" y="1015"/>
<use href="#s55" x="267" y="1015"/>
<use href="#s52" x="273" y="1015"/>
<use href="#s56" x="279" y="1015"/>
<use href="#s40" x="291" y="1015"/>
<use href="#s77" x="297" y="1015"/>
<use href="#s99" x="303" y="1015"/>
<use href="#s67" x="309" y="1015"/>
<use href="#s97" x="315" y="1015"/>
<use href="#s114" x="321" y="1015"/>
<use href="#s114" x="327" y="1015"/>
<use href="#s111" x="333" y="1015"/>
<use href="#s108" x="339" y="1015"/>
<use href="#s108" x="345" y="1015"/>
<use href="#s50" x="351" y="1015"/>
<use href="#s48" x="357" y="1015"/>
<use href="#s48" x="363" y="1015"/>
<use href="#s56" x="369" y="1015"/>
<use href="#s41" x="375" y="1015"/>
<rect x="231" y="1029" width="631" height="6" fill="#0000ff"/>
<use href="#s101" x="231" y="1036"/>
<use href="#s115" x="237" y="1036"/>
<use href="#s118" x="243" y="1036"/>
<use href="#s50" x="249" y="1036"/>
<use href="#s52" x="255" y="1036"/>
<use href="#s50" x="261" y="1036"/>
<use href="#s50" x="267" y="1036"/>
<use href="#s48" x="273" y="1036"/>
<use href="#s48" x="279" y="1036"/>
<use href="#s50" x="285" y="1036"/>
<use href="#s40" x="297" y="1036"/>
<use href="#s65" x="303" y="1036"/>
<use href="#s108" x="309" y="1036"/>
<use href="#s116" x="315" y="1036"/>
<use href="#s115" x="321" y="1036"/>
<use href="#s104" x="327" y="1036"/>
<use href="#s117" x="333" y="1036"/>
<use href="#s108" x="339" y="1036"/>
<use href="#s101" x="345" y="1036"/>
<use href="#s114" x="351" y="1036"/>
<use href="#s50" x="357" y="1036"/>
<use href="#s48" x="363" y="1036"/>
<use href="#s49" x="369" y="1036"/>
<use href="#s48" x="375" y="1036"/>
<use href="#s41" x="381" y="1036"/>
<rect x="231" y="1050" width="631" height="6" fill="#0000ff"/>
<use href="#s110" x="231" y="1057"/>
<use href="#s115" x="237" y="1057"/>
<use href="#s118" x="243" y="1057"/>
<use href="#s52" x="249" y="1057"/>
<use href="#s51" x="255" y="1057"/>
<use href="#s51" x="261" y="1057"/>
<use href="#s52" x="267" y="1057"/>
<use href="#s52" x="273" y="1057"/>
<use href="#s57" x="279" y="1057"/>
<use href="#s40" x="291" y="1057"/>
<use href="#s67" x="297" y="1057"/>
<use href="#s111" x="303" y="1057"/>
<use href="#s111" x="309" y="1057"/>
<use href="#s112" x="315" y="1057"/>
<use href="#s101" x="321" y="1057"/>
<use href="#s114" x="327" y="1057"/>
<use href="#s50" x="333" y="1057"/>
<use href="#s48" x="339" y="1057"/>
<use href="#s48" x="345" y="1057"/>
<use href="#s56" x="351" y="1057"/>
<use href="#s41" x="357" y="1057"/>
<rect x="231" y="1071" width="631" height="6" fill="#0000ff"/>
<use href="#s110" x="231" y="1078"/>
<use href="#s115" x="237" y="1078"/>
<use href="#s118" x="243" y="1078"/>
<use href="#s53" x="249" y="1078"/>
<use href="#s55" x="255" y="1078"/>
<use href="#s53" x="261" y="1078"/>
<use href="#s49" x="267" y="1078"/>
<use href="#s53" x="273" y="1078"/>
<use href="#s52" x="279" y="1078"/>
<use href="#s40" x="291" y="1078"/>
<use href="#s67" x="297" y="1078"/>
<use href="#s111" x="303" y="1078"/>
<use href="#s111" x="309" y="1078"/>
<use href="#s112" x="315" y="1078"/>
<use href="#s101" x="321" y="1078"/>
<use href="#s114" x="327" y="1078"/>
<use href="#s50" x="333" y="1078"/>
<use href="#s48" x="339" y="1078"/>
<use href="#s49" x="345" y="1078"/>
<use href="#s49" x="351" y="1078"/>
<use href="#s41" x="357" y="1078"/>
<rect x="231" y="1092" width="203" height="6" fill="#0000ff"/>
<use href="#s101" x="440" y="1078"/>
<use href="#s115" x="446" y="1078"/>
<use href="#s118" x="452" y="1078"/>
<use href="#s50" x="458" y="1078"/>
<use href="#s55" x="464" y="1078"/>
<use href="#s54" x="470" y="1078"/>
<use href="#s48" x="476" y="1078"/>
<use href="#s52" x="482" y="1078"/>
<use href="#s53" x="488" y="1078"/>
<use href="#s49" x="494" y="1078"/>
<use href="#s40" x="506" y="1078"/>
<use href="#s86" x="512" y="1078"/>
<use href="#s111" x="518" y="1078"/>
<use href="#s103" x="524" y="1078"/>
<use href="#s108" x="530" y="1078"/>
<use href="#s101" x="536" y="1078"/>
<use href="#s114" x="542" y="1078"/>
<use href="#s50" x="548" y="1078"/>
<use href="#s48" x="554" y="1078"/>
<use href="#s49" x="560" y="1078"/>
<use href="#s48" x="566" y="1078"/>
<use href="#s41" x="572" y="1078"/>
<rect x="440" y="1092" width="422" height="6" fill="#8b4513"/>
<use href="#s101" x="231" y="1099"/>
<use href="#s115" x="237" y="1099"/>
<use href="#s118" x="243" y="1099"/>
<use href="#s51" x="249" y="1099"/>
<use href="#s53" x="255" y="1099"/>
<use href="#s56" x="261" y="1099"/>
<use href="#s52" x="267" y="1099"/>
<use href="#s57" x="273" y="1099"/>
<use href="#s52" x="279" y="1099"/>
<use href="#s48" x="285" y="1099"/>
<use href="#s40" x="297" y="1099"/>
<use href="#s77" x="303" y="1099"/>
<use href="#s111" x="309" y="1099"/>
<use href="#s107" x="315" y="1099"/>
<use href="#s104" x="321" y="1099"/>
<use href="#s116" x="327" y="1099"/>
<use href="#s97" x="333" y="1099"/>
<use href="#s114" x="339" y="1099"/>
<use href="#s50" x="345" y="1099"/>
<use href="#s48" x="351" y="1099"/>
<use href="#s49" x="357" y="1099"/>
<use href="#s52" x="363" y="1099"/>
<use href="#s41" x="369" y="1099"/>
<rect x="231" y="1113" width="629" height="6" fill="#0000ff"/>
<use href="#s110" x="231" y="1120"/>
<use href="#s115" x="237" y="1120"/>
<use href="#s118" x="243" y="1120"/>
<use href="#s49" x="249" y="1120"/>
<use href="#s48" x="255" y="1120"/>
<use href="#s54" x="261" y="1120"/>
<use href="#s48" x="267" y="1120"/>
<use href="#s51" x="273" y="1120"/>
<use href="#s57" x="279" y="1120"/>
<use href="#s50" x="285" y="1120"/>
<use href="#s40" x="297" y="1120"/>
<use href="#s67" x="303" y="1120"/>
<use href="#s111" x="309" y="1120"/>
<use href="#s101" x="315" y="1120"/>
<use href="#s50" x="321" y="1120"/>
<use href="#s48" x="327" y="1120"/>
<use href="#s49" x="333" y="1120"/>
<use href="#s52" x="339" y="1120"/>
<use href="#s41" x="345" y="1120"/>
<rect x="231" y="1134" width="631" height="6" fill="#8b4513"/>
<use href="#s100" x="231" y="1141"/>
<use href="#s103" x="237" y="1141"/>
<use href="#s118" x="243" y="1141"/>
<use href="#s51" x="249" y="1141"/>
<use href="#s49" x="255" y="1141"/>
<use href="#s56" x="261" y="1141"/>
<use href="#s57" x="267" y="1141"/>
<use href="#s110" x="273" y="1141"/>
<use href="#s49" x="279" y="1141"/>
<use href="#s48" x="285" y="1141"/>
<use href="#s48" x="291" y="1141"/>
<use href="#s40" x="303" y="1141"/>
<use href="#s67" x="309" y="1141"/>
<use href="#s111" x="315" y="1141"/>
<use href="#s101" x="321" y="1141"/>
<use href="#s50" x="327" y="1141"/>
<use href="#s48" x="333" y="1141"/>
<use href="#s49" x="339" y="1141"/>
<use href="#s52" x="345" y="1141"/>
<use href="#s41" x="351" y="1141"/>
<rect x="231" y="1155" width="631" height="6" fill="#0000ff"/>
<use href="#s100" x="231" y="1162"/>
<use href="#s103" x="237" y="1162"/>
<use href="#s118" x="243" y="1162"/>
<use href="#s51" x="249" y="1162"/>
<use href="#s49" x="255" y="1162"/>
<use href="#s57" x="261" y="1162"/>
<use href="#s48" x="267" y="1162"/>
<use href="#s110" x="273" y="1162"/>
<use href="#s49" x="279" y="1162"/>
<use href="#s48" x="285" y="1162"/>
<use href="#s48" x="291" y="1162"/>
<use href="#s40" x="303" y="1162"/>
<use href="#s67" x="309" y="1162"/>
<use href="#s111" x="315" y="1162"/>
<use href="#s101" x="321" y="1162"/>
<use href="#s50" x="327" y="1162"/>
<use href="#s48" x="333" y="1162"/>
<use href="#s49" x="339" y="1162"/>
<use href="#s52" x="345" y="1162"/>
<use href="#s41" x="351" y="1162"/>
<rect x="231" y="1176" width="631" height="6" fill="#0000ff"/>
<use href="#s100" x="233" y="1183"/>
<use href="#s103" x="239" y="1183"/>
<use href="#s118" x="245" y="1183"/>
<use href="#s51" x="251" y="1183"/>
<use href="#s49" x="257" y="1183"/>
<use href="#s57" x="263" y="1183"/>
<use href="#s49" x="269" y="1183"/>
<use href="#s110" x="275" y="1183"/>
<use href="#s49" x="281" y="1183"/>
<use href="#s48" x="287" y="1183"/>
<use href="#s48" x="293" y="1183"/>
<use href="#s40" x="305" y="1183"/>
<use href="#s67" x="311" y="1183"/>
<use href="#s111" x="317" y="1183"/>
<use href="#s101" x="323" y="1183"/>
<use href="#s50" x="329" y="1183"/>
<use href="#s48" x="335" y="1183"/>
<use href="#s49" x="341" y="1183"/>
<use href="#s52" x="347" y="1183"/>
<use href="#s41" x="353" y="1183"/>
<rect x="233" y="1197" width="209" height="6" fill="#8b4513"/>
<use href="#s100" x="461" y="1183"/>
<use href="#s103" x="467" y="1183"/>
<use href="#s118" x="473" y="1183"/>
<use href="#s51" x="479" y="1183"/>
<use href="#s50" x="485" y="1183"/>
<use href="#s49" x="491" y="1183"/>
<use href="#s54" x="497" y="1183"/>
<use href="#s110" x="503" y="1183"/>
<use href="#s49" x="509" y="1183"/>
<use href="#s48" x="515" y="1183"/>
<use href="#s48" x="521" y="1183"/>
<use href="#s40" x="533" y="1183"/>
<use href="#s67" x="539" y="1183"/>
<use href="#s111" x="545" y="1183"/>
<use href="#s101" x="551" y="1183"/>
<use href="#s50" x="557" y="1183"/>
<use href="#s48" x="563" y="1183"/>
<use href="#s49" x="569" y="1183"/>
<use href="#s52" x="575" y="1183"/>
<use href="#s41" x="581" y="1183"/>
<rect x="461" y="1197" width="399" height="6" fill="#ff0000"/>
<use href="#s100" x="233" y="1204"/>
<use href="#s103" x="239" y="1204"/>
<use href="#s118" x="245" y="1204"/>
<use href="#s51" x="251" y="1204"/>
<use href="#s49" x="257" y="1204"/>
<use href="#s57" x="263" y="1204"/>
<use href="#s50" x="269" y="1204"/>
<use href="#s110" x="275" y="1204"/>
<use href="#s49" x="281" y="1204"/>
<use href="#s48" x="287" y="1204"/>
<use href="#s48" x="293" y="1204"/>
<use href="#s40" x="305" y="1204"/>
<use href="#s67" x="311" y="1204"/>
<use href="#s111" x="317" y="1204"/>
<use href="#s101" x="323" y="1204"/>
<use href="#s50" x="329" y="1204"/>
<use href="#s48" x="335" y="1204"/>
<use href="#s49" x="341" y="1204"/>
<use href="#s52" x="347" y="1204"/>
<use href="#s41" x="353" y="1204"/>
<rect x="233" y="1218" width="629" height="6" fill="#ff0000"/>
<use href="#s110" x="250" y="1225"/>
<use href="#s115" x="256" y="1225"/>
<use href="#s118" x="262" y="1225"/>
<use href="#s53" x="268" y="1225"/>
<use href="#s55" x="274" y="1225"/>
<use href="#s53" x="280" y="1225"/>
<use href="#s49" x="286" y="1225"/>
<use href="#s54" x="292" y="1225"/>
<use href="#s48" x="298" y="1225"/>
<use href="#s40" x="310" y="1225"/>
<use href="#s67" x="316" y="1225"/>
<use href="#s111" x="322" y="1225"/>
<use href="#s111" x="328" y="1225"/>
<use href="#s112" x="334" y="1225"/>
<use href="#s101" x="340" y="1225"/>
<use href="#s114" x="346" y="1225"/>
<use href="#s50" x="352" y="1225"/>
<use href="#s48" x="358" y="1225"/>
<use href="#s49" x="364" y="1225"/>
<use href="#s49" x="370" y="1225"/>
<use href="#s41" x="376" y="1225"/>
<rect x="250" y="1239" width="416" height="6" fill="#0000ff"/>
<use href="#s110" x="678" y="1225"/>
<use href="#s115" x="684" y="1225"/>
<use href="#s118" x="690" y="1225"/>
<use href="#s53" x="696" y="1225"/>
<use href="#s55" x="702" y="1225"/>
<use href="#s53" x="708" y="1225"/>
<use href="#s50" x="714" y="1225"/>
<use href="#s48" x="720" y="1225"/>
<use href="#s52" x="726" y="1225"/>
<use href="#s40" x="738" y="1225"/>
<use href="#s67" x="744" y="1225"/>
<use href="#s111" x="750" y="1225"/>
<use href="#s111" x="756" y="1225"/>
<use href="#s112" x="762" y="1225"/>
<use href="#s101" x="768" y="1225"/>
<use href="#s114" x="774" y="1225"/>
<use href="#s50" x="780" y="1225"/>
<use href="#s48" x="786" y="1225"/>
<use href="#s49" x="792" y="1225"/>
<use href="#s49" x="798" y="1225"/>
<use href="#s41" x="804" y="1225"/>
<rect x="678" y="1239" width="70" height="6" fill="#8b4513"/>
<use href="#s100" x="250" y="1246"/>
<use href="#s103" x="256" y="1246"/>
<use href="#s118" x="262" y="1246"/>
<use href="#s51" x="268" y="1246"/>
<use href="#s54" x="274" y="1246"/>
<use href="#s56" x="280" y="1246"/>
<use href="#s110" x="286" y="1246"/>
<use href="#s50" x="292" y="1246"/>
<use href="#s55" x="298" y="1246"/>
<use href="#s40" x="310" y="1246"/>
<use href="#s73" x="316" y="1246"/>
<use href="#s116" x="322" y="1246"/>
<use href="#s115" x="328" y="1246"/>
<use href="#s97" x="334" y="1246"/>
<use href="#s114" x="340" y="1246"/>
<use href="#s97" x="346" y="1246"/>
<use href="#s50" x="352" y="1246"/>
<use href="#s48" x="358" y="1246"/>
<use href="#s48" x="364" y="1246"/>
<use href="#s57" x="370" y="1246"/>
<use href="#s41" x="376" y="1246"/>
<rect x="250" y="1260" width="416" height="6" fill="#0000ff"/>
<use href="#s100" x="678" y="1246"/>
<use href="#s103" x="684" y="1246"/>
<use href="#s118" x="690" y="1246"/>
<use href="#s53" x="696" y="1246"/>
<use href="#s54" x="702" y="1246"/>
<use href="#s51" x="708" y="1246"/>
<use href="#s49" x="714" y="1246"/>
<use href="#s110" x="720" y="1246"/>
<use href="#s53" x="726" y="1246"/>
<use href="#s52" x="732" y="1246"/>
<use href="#s40" x="744" y="1246"/>
<use href="#s67" x="750" y="1246"/>
<use href="#s111" x="756" y="1246"/>
<use href="#s111" x="762" y="1246"/>
<use href="#s112" x="768" y="1246"/>
<use href="#s101" x="774" y="1246"/>
<use href="#s114" x="780" y="1246"/>
<use href="#s50" x="786" y="1246"/>
<use href="#s48" x="792" y="1246"/>
<use href="#s49" x="798" y="1246"/>
<use href="#s49" x="804" y="1246"/>
<use href="#s41" x="810" y="1246"/>
<rect x="678" y="1260" width="74" height="6" fill="#ff0000"/>
<use href="#s100" x="250" y="1267"/>
<use href="#s103" x="256" y="1267"/>
<use href="#s118" x="262" y="1267"/>
<use href="#s53" x="268" y="1267"/>
<use href="#s54" x="274" y="1267"/>
<use href="#s50" x="280" y="1267"/>
<use href="#s49" x="286" y="1267"/>
<use href="#s110" x="292" y="1267"/>
<use href="#s53" x="298" y="1267"/>
<use href="#s52" x="304" y="1267"/>
<use href="#s40" x="316" y="1267"/>
<use href="#s67" x="322" y="1267"/>
<use href="#s111" x="328" y="1267"/>
<use href="#s111" x="334" y="1267"/>
<use href="#s112" x="340" y="1267"/>
<use href="#s101" x="346" y="1267"/>
<use href="#s114" x="352" y="1267"/>
<use href="#s50" x="358" y="1267"/>
<use href="#s48" x="364" y="1267"/>
<use href="#s49" x="370" y="1267"/>
<use href="#s49" x="376" y="1267"/>
<use href="#s41" x="382" y="1267"/>
<rect x="250" y="1281" width="611" height="6" fill="#8b4513"/>
<use href="#s100" x="250" y="1288"/>
<use href="#s103" x="256" y="1288"/>
<use href="#s118" x="262" y="1288"/>
<use href="#s50" x="268" y="1288"/>
<use href="#s52" x="274" y="1288"/>
<use href="#s110" x="280" y="1288"/>
<use href="#s54" x="286" y="1288"/>
<use href="#s52" x="292" y="1288"/>
<use href="#s40" x="304" y="1288"/>
<use href="#s87" x="310" y="1288"/>
<use href="#s97" x="316" y="1288"/>
<use href="#s110" x="322" y="1288"/>
<use href="#s103" x="328" y="1288"/>
<use href="#s50" x="334" y="1288"/>
<use href="#s48" x="340" y="1288"/>
<use href="#s48" x="346" y="1288"/>
<use href="#s55" x="352" y="1288"/>
<use href="#s41" x="358" y="1288"/>
<rect x="250" y="1302" width="399" height="6" fill="#0000ff"/>
<use href="#s100" x="665" y="1288"/>
<use href="#s103" x="671" y="1288"/>
<use href="#s118" x="677" y="1288"/>
<use href="#s53" x="683" y="1288"/>
<use href="#s54" x="689" y="1288"/>
<use href="#s51" x="695" y="1288"/>
<use href="#s48" x="701" y="1288"/>
<use href="#s110" x="707" y="1288"/>
<use href="#s53" x="713" y="1288"/>
<use href="#s52" x="719" y="1288"/>
<use href="#s40" x="731" y="1288"/>
<use href="#s67" x="737" y="1288"/>
<use href="#s111" x="743" y="1288"/>
<use href="#s111" x="749" y="1288"/>
<use href="#s112" x="755" y="1288"/>
<use href="#s101" x="761" y="1288"/>
<use href="#s114" x="767" y="1288"/>
<use href="#s50" x="773" y="1288"/>
<use href="#s48" x="779" y="1288"/>
<use href="#s49" x="785" y="1288"/>
<use href="#s49" x="791" y="1288"/>
<use href="#s41" x="797" y="1288"/>
<rect x="665" y="1302" width="197" height="6" fill="#0000ff"/>
<use href="#s100" x="250" y="1309"/>
<use href="#s103" x="256" y="1309"/>
<use href="#s118" x="262" y="1309"/>
<use href="#s50" x="268" y="1309"/>
<use href="#s53" x="274" y="1309"/>
<use href="#s110" x="280" y="1309"/>
<use href="#s54" x="286" y="1309"/>
<use href="#s52" x="292" y="1309"/>
<use href="#s40" x="304" y="1309"/>
<use href="#s87" x="310" y="1309"/>
<use href="#s97" x="316" y="1309"/>
<use href="#s110" x="322" y="1309"/>
<use href="#s103" x="328" y="1309"/>
<use href="#s50" x="334" y="1309"/>
<use href="#s48" x="340" y="1309"/>
<use href="#s48" x="346" y="1309"/>
<use href="#s55" x="352" y="1309"/>
<use href="#s41" x="358" y="1309"/>
<rect x="250" y="1323" width="612" height="6" fill="#0000ff"/>
<use href="#s100" x="252" y="1330"/>
<use href="#s103" x="258" y="1330"/>
<use href="#s118" x="264" y="1330"/>
<use href="#s51" x="270" y="1330"/>
<use href="#s49" x="276" y="1330"/>
<use href="#s57" x="282" y="1330"/>
<use href="#s51" x="288" y="1330"/>
<use href="#s110" x="294" y="1330"/>
<use href="#s49" x="300" y="1330"/>
<use href="#s48" x="306" y="1330"/>
<use href="#s48" x="312" y="1330"/>
<use href="#s40" x="324" y="1330"/>
<use href="#s67" x="330" y="1330"/>
<use href="#s111" x="336" y="1330"/>
<use href="#s101" x="342" y="1330"/>
<use href="#s50" x="348" y="1330"/>
<use href="#s48" x="354" y="1330"/>
<use href="#s49" x="360" y="1330"/>
<use href="#s52" x="366" y="1330"/>
<use href="#s41" x="372" y="1330"/>
<rect x="252" y="1344" width="229" height="6" fill="#0000ff"/>
<use href="#s110" x="483" y="1330"/>
<use href="#s115" x="489" y="1330"/>
<use href="#s118" x="495" y="1330"/>
<use href="#s52" x="501" y="1330"/>
<use href="#s54" x="507" y="1330"/>
<use href="#s57" x="513" y="1330"/>
<use href="#s54" x="519" y="1330"/>
<use href="#s57" x="525" y="1330"/>
<use href="#s55" x="531" y="1330"/>
<use href="#s40" x="543" y="1330"/>
<use href="#s76" x="549" y="1330"/>
<use href="#s111" x="555" y="1330"/>
<use href="#s99" x="561" y="1330"/>
<use href="#s107" x="567" y="1330"/>
<use href="#s101" x="573" y="1330"/>
<use href="#s50" x="579" y="1330"/>
<use href="#s48" x="585" y="1330"/>
<use href="#s48" x="591" y="1330"/>
<use href="#s54" x="597" y="1330"/>
<use href="#s41" x="603" y="1330"/>
<rect x="483" y="1344" width="379" height="6" fill="#8b4513"/>
<use href="#s100" x="252" y="1351"/>
<use href="#s103" x="258" y="1351"/>
<use href="#s118" x="264" y="1351"/>
<use href="#s51" x="270" y="1351"/>
<use href="#s49" x="276" y="1351"/>
<use href="#s57" x="282" y="1351"/>
<use href="#s52" x="288" y="1351"/>
<use href="#s110" x="294" y="1351"/>
<use href="#s49" x="300" y="1351"/>
<use href="#s48" x="306" y="1351"/>
<use href="#s48" x="312" y="1351"/>
<use href="#s40" x="324" y="1351"/>
<use href="#s67" x="330" y="1351"/>
<use href="#s111" x="336" y="1351"/>
<use href="#s101" x="342" y="1351"/>
<use href="#s50" x="348" y="1351"/>
<use href="#s48" x="354" y="1351"/>
<use href="#s49" x="360" y="1351"/>
<use href="#s52" x="366" y="1351"/>
<use href="#s41" x="372" y="1351"/>
<rect x="252" y="1365" width="610" height="6" fill="#ff0000"/>
<use href="#s101" x="274" y="1372"/>
<use href="#s115" x="280" y="1372"/>
<use href="#s118" x="286" y="1372"/>
<use href="#s51" x="292" y="1372"/>
<use href="#s51" x="298" y="1372"/>
<use href="#s57" x="304" y="1372"/>
<use href="#s54" x="310" y="1372"/>
<use href="#s55" x="316" y="1372"/>
<use href="#s55" x="322" y="1372"/>
<use href="#s57" x="328" y="1372"/>
<use href="#s40" x="340" y="1372"/>
<use href="#s49" x="346" y="1372"/>
<use href="#s48" x="352" y="1372"/>
<use href="#s48" x="358" y="1372"/>
<use href="#s48" x="364" y="1372"/>
<use href="#s71" x="370" y="1372"/>
<use href="#s101" x="376" y="1372"/>
<use href="#s110" x="382" y="1372"/>
<use href="#s111" x="388" y="1372"/>
<use href="#s109" x="394" y="1372"/>
<use href="#s101" x="400" y="1372"/>
<use href="#s115" x="406" y="1372"/>
<use href="#s67" x="412" y="1372"/>
<use href="#s111" x="418" y="1372"/>
<use href="#s110" x="424" y="1372"/>
<use href="#s115" x="430" y="1372"/>
<use href="#s111" x="436" y="1372"/>
<use href="#s114" x="442" y="1372"/>
<use href="#s116" x="448" y="1372"/>
<use href="#s105" x="454" y="1372"/>
<use href="#s117" x="460" y="1372"/>
<use href="#s109" x="466" y="1372"/>
<use href="#s80" x="472" y="1372"/>
<use href="#s105" x="478" y="1372"/>
<use href="#s108" x="484" y="1372"/>
<use href="#s111" x="490" y="1372"/>
<use href="#s116" x="496" y="1372"/>
<use href="#s80" x="502" y="1372"/>
<use href="#s114" x="508" y="1372"/>
<use href="#s111" x="514" y="1372"/>
<use href="#s106" x="520" y="1372"/>
<use href="#s101" x="526" y="1372"/>
<use href="#s99" x="532" y="1372"/>
<use href="#s116" x="538" y="1372"/>
<use href="#s41" x="544" y="1372"/>
<rect x="274" y="1388" width="45" height="1" fill="#0000ff"/>
<rect x="274" y="1386" width="2" height="6" fill="#0000ff"/>
<rect x="317" y="1386" width="2" height="6" fill="#0000ff"/>
<rect x="279" y="1386" width="34" height="6" fill="#0000ff"/>
<use href="#s110" x="555" y="1372"/>
<use href="#s115" x="561" y="1372"/>
<use href="#s118" x="567" y="1372"/>
<use href="#s49" x="573" y="1372"/>
<use href="#s48" x="579" y="1372"/>
<use href="#s53" x="585" y="1372"/>
<use href="#s53" x="591" y="1372"/>
<use href="#s51" x="597" y="1372"/>
<use href="#s52" x="603" y="1372"/>
<use href="#s55" x="609" y="1372"/>
<use href="#s40" x="621" y="1372"/>
<use href="#s67" x="627" y="1372"/>
<use href="#s111" x="633" y="1372"/>
<use href="#s101" x="639" y="1372"/>
<use href="#s50" x="645" y="1372"/>
<use href="#s48" x="651" y="1372"/>
<use href="#s49" x="657" y="1372"/>
<use href="#s52" x="663" y="1372"/>
<use href="#s41" x="669" y="1372"/>
<rect x="555" y="1386" width="163" height="6" fill="#0000ff"/>
<use href="#s110" x="723" y="1372"/>
<use href="#s115" x="729" y="1372"/>
<use href="#s118" x="735" y="1372"/>
<use href="#s53" x="741" y="1372"/>
<use href="#s55" x="747" y="1372"/>
<use href="#s53" x="753" y="1372"/>
<use href="#s50" x="759" y="1372"/>
<use href="#s50" x="765" y="1372"/>
<use href="#s53" x="771" y="1372"/>
<use href="#s40" x="783" y="1372"/>
<use href="#s67" x="789" y="1372"/>
<use href="#s111" x="795" y="1372"/>
<use href="#s111" x="801" y="1372"/>
<use href="#s112" x="807" y="1372"/>
<use href="#s101" x="813" y="1372"/>
<use href="#s114" x="819" y="1372"/>
<use href="#s50" x="825" y="1372"/>
<use href="#s48" x="831" y="1372"/>
<use href="#s49" x="837" y="1372"/>
<use href="#s49" x="843" y="1372"/>
<use href="#s41" x="849" y="1372"/>
<rect x="723" y="1386" width="138" height="6" fill="#ff0000"/>
<use href="#s100" x="286" y="1393"/>
<use href="#s103" x="292" y="1393"/>
<use href="#s118" x="298" y="1393"/>
<use href="#s51" x="304" y="1393"/>
<use href="#s49" x="310" y="1393"/>
<use href="#s57" x="316" y="1393"/>
<use href="#s53" x="322" y="1393"/>
<use href="#s110" x="328" y="1393"/>
<use href="#s49" x="334" y="1393"/>
<use href="#s48" x="340" y="1393"/>
<use href="#s48" x="346" y="1393"/>
<use href="#s40" x="358" y="1393"/>
<use href="#s67" x="364" y="1393"/>
<use href="#s111" x="370" y="1393"/>
<use href="#s101" x="376" y="1393"/>
<use href="#s50" x="382" y="1393"/>
<use href="#s48" x="388" y="1393"/>
<use href="#s49" x="394" y="1393"/>
<use href="#s52" x="400" y="1393"/>
<use href="#s41" x="406" y="1393"/>
<rect x="286" y="1407" width="576" height="6" fill="#8b4513"/>
<use href="#s100" x="286" y="1414"/>
<use href="#s103" x="292" y="1414"/>
<use href="#s118" x="298" y="1414"/>
<use href="#s51" x="304" y="1414"/>
<use href="#s49" x="310" y="1414"/>
<use href="#s57" x="316" y="1414"/>
<use href="#s54" x="322" y="1414"/>
<use href="#s110" x="328" y="1414"/>
<use href="#s49" x="334" y="1414"/>
<use href="#s48" x="340" y="1414"/>
<use href="#s48" x="346" y="1414"/>
<use href="#s40" x="358" y="1414"/>
<use href="#s67" x="364" y="1414"/>
<use href="#s111" x="370" y="1414"/>
<use href="#s101" x="376" y="1414"/>
<use href="#s50" x="382" y="1414"/>
<use href="#s48" x="388" y="1414"/>
<use href="#s49" x="394" y="1414"/>
<use href="#s52" x="400" y="1414"/>
<use href="#s41" x="406" y="1414"/>
<rect x="286" y="1428" width="576" height="6" fill="#8b4513"/>
<use href="#s100" x="306" y="1435"/>
<use href="#s103" x="312" y="1435"/>
<use href="#s118" x="318" y="1435"/>
<use href="#s51" x="324" y="1435"/>
<use href="#s49" x="330" y="1435"/>
<use href="#s57" x="336" y="1435"/>
<use href="#s55" x="342" y="1435"/>
<use href="#s110" x="348" y="1435"/>
<use href="#s49" x="354" y="1435"/>
<use href="#s48" x="360" y="1435"/>
<use href="#s48" x="366" y="1435"/>
<use href="#s40" x="378" y="1435"/>
<use href="#s67" x="384" y="1435"/>
<use href="#s111" x="390" y="1435"/>
<use href="#s101" x="396" y="1435"/>
<use href="#s50" x="402" y="1435"/>
<use href="#s48" x="408" y="1435"/>
<use href="#s49" x="414" y="1435"/>
<use href="#s52" x="420" y="1435"/>
<use href="#s41" x="426" y="1435"/>
<rect x="306" y="1449" width="364" height="6" fill="#0000ff"/>
<use href="#s101" x="683" y="1435"/>
<use href="#s115" x="689" y="1435"/>
<use href="#s118" x="695" y="1435"/>
<use href="#s51" x="701" y="1435"/>
<use href="#s52" x="707" y="1435"/>
<use href="#s52" x="713" y="1435"/>
<use href="#s48" x="719" y="1435"/>
<use href="#s52" x="725" y="1435"/>
<use href="#s56" x="731" y="1435"/>
<use href="#s57" x="737" y="1435"/>
<use href="#s40" x="749" y="1435"/>
<use href="#s49" x="755" y="1435"/>
<use href="#s48" x="761" y="1435"/>
<use href="#s48" x="767" y="1435"/>
<use href="#s48" x="773" y="1435"/>
<use href="#s71" x="779" y="1435"/>
<use href="#s101" x="785" y="1435"/>
<use href="#s110" x="791" y="1435"/>
<use href="#s111" x="797" y="1435"/>
<use href="#s109" x="803" y="1435"/>
<use href="#s101" x="809" y="1435"/>
<use href="#s115" x="815" y="1435"/>
<use href="#s67" x="821" y="1435"/>
<use href="#s111" x="827" y="1435"/>
<use href="#s110" x="833" y="1435"/>
<use href="#s115" x="839" y="1435"/>
<use href="#s111" x="845" y="1435"/>
<use href="#s114" x="851" y="1435"/>
<use href="#s116" x="857" y="1435"/>
<use href="#s105" x="863" y="1435"/>
<use href="#s117" x="869" y="1435"/>
<use href="#s109" x="875" y="1435"/>
<use href="#s80" x="881" y="1435"/>
<use href="#s105" x="887" y="1435"/>
<use href="#s108" x="893" y="1435"/>
<use href="#s111" x="899" y="1435"/>
<use href="#s116" x="905" y="1435"/>
<use href="#s80" x="911" y="1435"/>
<use href="#s114" x="917" y="1435"/>
<use href="#s111" x="923" y="1435"/>
<use href="#s106" x="929" y="1435"/>
<use href="#s101" x="935" y="1435"/>
<use href="#s99" x="941" y="1435"/>
<use href="#s116" x="947" y="1435"/>
<use href="#s41" x="953" y="1435"/>
<rect x="683" y="1451" width="35" height="1" fill="#0000ff"/>
<rect x="683" y="1449" width="2" height="6" fill="#0000ff"/>
<rect x="716" y="1449" width="2" height="6" fill="#0000ff"/>
<rect x="688" y="1449" width="24" height="6" fill="#0000ff"/>
<use href="#s100" x="306" y="1456"/>
<use href="#s103" x="312" y="1456"/>
<use href="#s118" x="318" y="1456"/>
<use href="#s51" x="324" y="1456"/>
<use href="#s49" x="330" y="1456"/>
<use href="#s57" x="336" y="1456"/>
<use href="#s56" x="342" y="1456"/>
<use href="#s110" x="348" y="1456"/>
<use href="#s49" x="354" y="1456"/>
<use href="#s48" x="360" y="1456"/>
<use href="#s48" x="366" y="1456"/>
<use href="#s40" x="378" y="1456"/>
<use href="#s67" x="384" y="1456"/>
<use href="#s111" x="390" y="1456"/>
<use href="#s101" x="396" y="1456"/>
<use href="#s50" x="402" y="1456"/>
<use href="#s48" x="408" y="1456"/>
<use href="#s49" x="414" y="1456"/>
<use href="#s52" x="420" y="1456"/>
<use href="#s41" x="426" y="1456"/>
<rect x="306" y="1470" width="556" height="6" fill="#ff0000"/>
<use href="#s100" x="309" y="1477"/>
<use href="#s103" x="315" y="1477"/>
<use href="#s118" x="321" y="1477"/>
<use href="#s51" x="327" y="1477"/>
<use href="#s49" x="333" y="1477"/>
<use href="#s57" x="339" y="1477"/>
<use href="#s57" x="345" y="1477"/>
<use href="#s110" x="351" y="1477"/>
<use href="#s49" x="357" y="1477"/>
<use href="#s48" x="363" y="1477"/>
<use href="#s48" x="369" y="1477"/>
<use href="#s40" x="381" y="1477"/>
<use href="#s67" x="387" y="1477"/>
<use href="#s111" x="393" y="1477"/>
<use href="#s101" x="399" y="1477"/>
<use href="#s50" x="405" y="1477"/>
<use href="#s48" x="411" y="1477"/>
<use href="#s49" x="417" y="1477"/>
<use href="#s52" x="423" y="1477"/>
<use href="#s41" x="429" y="1477"/>
<rect x="309" y="1491" width="488" height="6" fill="#ff0000"/>
<use href="#s110" x="799" y="1477"/>
<use href="#s115" x="805" y="1477"/>
<use href="#s118" x="811" y="1477"/>
<use href="#s53" x="817" y="1477"/>
<use href="#s55" x="823" y="1477"/>
<use href="#s53" x="829" y="1477"/>
<use href="#s50" x="835" y="1477"/>
<use href="#s54" x="841" y="1477"/>
<use href="#s54" x="847" y="1477"/>
<use href="#s40" x="859" y="1477"/>
<use href="#s67" x="865" y="1477"/>
<use href="#s111" x="871" y="1477"/>
<use href="#s111" x="877" y="1477"/>
<use href="#s112" x="883" y="1477"/>
<use href="#s101" x="889" y="1477"/>
<use href="#s114" x="895" y="1477"/>
<use href="#s50" x="901" y="1477"/>
<use href="#s48" x="907" y="1477"/>
<use href="#s49" x="913" y="1477"/>
<use href="#s49" x="919" y="1477"/>
<use href="#s41" x="925" y="1477"/>
<rect x="799" y="1491" width="63" height="6" fill="#0000ff"/>
<use href="#s101" x="312" y="1498"/>
<use href="#s115" x="318" y="1498"/>
<use href="#s118" x="324" y="1498"/>
<use href="#s51" x="330" y="1498"/>
<use href="#s51" x="336" y="1498"/>
<use href="#s52" x="342" y="1498"/>
<use href="#s57" x="348" y="1498"/>
<use href="#s51" x="354" y="1498"/>
<use href="#s55" x="360" y="1498"/>
<use href="#s57" x="366" y="1498"/>
<use href="#s40" x="378" y="1498"/>
<use href="#s49" x="384" y="1498"/>
<use href="#s48" x="390" y="1498"/>
<use href="#s48" x="396" y="1498"/>
<use href="#s48" x="402" y="1498"/>
<use href="#s71" x="408" y="1498"/>
<use href="#s101" x="414" y="1498"/>
<use href="#s110" x="420" y="1498"/>
<use href="#s111" x="426" y="1498"/>
<use href="#s109" x="432" y="1498"/>
<use href="#s101" x="438" y="1498"/>
<use href="#s115" x="444" y="1498"/>
<use href="#s67" x="450" y="1498"/>
<use href="#s111" x="456" y="1498"/>
<use href="#s110" x="462" y="1498"/>
<use href="#s115" x="468" y="1498"/>
<use href="#s111" x="474" y="1498"/>
<use href="#s114" x="480" y="1498"/>
<use href="#s116" x="486" y="1498"/>
<use href="#s105" x="492" y="1498"/>
<use href="#s117" x="498" y="1498"/>
<use href="#s109" x="504" y="1498"/>
<use href="#s80" x="510" y="1498"/>
<use href="#s105" x="516" y="1498"/>
<use href="#s108" x="522" y="1498"/>
<use href="#s111" x="528" y="1498"/>
<use href="#s116" x="534" y="1498"/>
<use href="#s80" x="540" y="1498"/>
<use href="#s114" x="546" y="1498"/>
<use href="#s111" x="552" y="1498"/>
<use href="#s106" x="558" y="1498"/>
<use href="#s101" x="564" y="1498"/>
<use href="#s99" x="570" y="1498"/>
<use href="#s116" x="576" y="1498"/>
<use href="#s41" x="582" y="1498"/>
<rect x="312" y="1514" width="130" height="1" fill="#0000ff"/>
<rect x="312" y="1512" width="2" height="6" fill="#0000ff"/>
<rect x="440" y="1512" width="2" height="6" fill="#0000ff"/>
<rect x="317" y="1512" width="119" height="6" fill="#0000ff"/>
<use href="#s100" x="594" y="1498"/>
<use href="#s103" x="600" y="1498"/>
<use href="#s118" x="606" y="1498"/>
<use href="#s51" x="612" y="1498"/>
<use href="#s50" x="618" y="1498"/>
<use href="#s51" x="624" y="1498"/>
<use href="#s48" x="630" y="1498"/>
<use href="#s110" x="636" y="1498"/>
<use href="#s49" x="642" y="1498"/>
<use href="#s48" x="648" y="1498"/>
<use href="#s48" x="654" y="1498"/>
<use href="#s40" x="666" y="1498"/>
<use href="#s67" x="672" y="1498"/>
<use href="#s111" x="678" y="1498"/>
<use href="#s101" x="684" y="1498"/>
<use href="#s50" x="690" y="1498"/>
<use href="#s48" x="696" y="1498"/>
<use href="#s49" x="702" y="1498"/>
<use href="#s52" x="708" y="1498"/>
<use href="#s41" x="714" y="1498"/>
<rect x="594" y="1512" width="268" height="6" fill="#ff0000"/>
<use href="#s110" x="338" y="1519"/>
<use href="#s115" x="344" y="1519"/>
<use href="#s118" x="350" y="1519"/>
<use href="#s49" x="356" y="1519"/>
<use href="#s48" x="362" y="1519"/>
<use href="#s54" x="368" y="1519"/>
<use href="#s53" x="374" y="1519"/>
<use href="#s52" x="380" y="1519"/>
<use href="#s54" x="386" y="1519"/>
<use href="#s50" x="392" y="1519"/>
<use href="#s40" x="404" y="1519"/>
<use href="#s67" x="410" y="1519"/>
<use href="#s111" x="416" y="1519"/>
<use href="#s101" x="422" y="1519"/>
<use href="#s50" x="428" y="1519"/>
<use href="#s48" x="434" y="1519"/>
<use href="#s49" x="440" y="1519"/>
<use href="#s52" x="446" y="1519"/>
<use href="#s41" x="452" y="1519"/>
<rect x="338" y="1533" width="139" height="6" fill="#0000ff"/>
<use href="#s100" x="480" y="1519"/>
<use href="#s103" x="486" y="1519"/>
<use href="#s118" x="492" y="1519"/>
<use href="#s51" x="498" y="1519"/>
<use href="#s50" x="504" y="1519"/>
<use href="#s50" x="510" y="1519"/>
<use href="#s51" x="516" y="1519"/>
<use href="#s110" x="522" y="1519"/>
<use href="#s49" x="528" y="1519"/>
<use href="#s48" x="534" y="1519"/>
<use href="#s48" x="540" y="1519"/>
<use href="#s40" x="552" y="1519"/>
<use href="#s67" x="558" y="1519"/>
<use href="#s111" x="564" y="1519"/>
<use href="#s101" x="570" y="1519"/>
<use href="#s50" x="576" y="1519"/>
<use href="#s48" x="582" y="1519"/>
<use href="#s49" x="588" y="1519"/>
<use href="#s52" x="594" y="1519"/>
<use href="#s41" x="600" y="1519"/>
<rect x="480" y="1533" width="257" height="6" fill="#0000ff"/>
<use href="#s101" x="746" y="1519"/>
<use href="#s115" x="752" y="1519"/>
<use href="#s118" x="758" y="1519"/>
<use href="#s51" x="764" y="1519"/>
<use href="#s52" x="770" y="1519"/>
<use href="#s48" x="776" y="1519"/>
<use href="#s48" x="782" y="1519"/>
<use href="#s54" x="788" y="1519"/>
<use href="#s51" x="794" y="1519"/>
<use href="#s55" x="800" y="1519"/>
<use href="#s40" x="812" y="1519"/>
<use href="#s49" x="818" y="1519"/>
<use href="#s48" x="824" y="1519"/>
<use href="#s48" x="830" y="1519"/>
<use href="#s48" x="836" y="1519"/>
<use href="#s71" x="842" y="1519"/>
<use href="#s101" x="848" y="1519"/>
<use href="#s110" x="854" y="1519"/>
<use href="#s111" x="860" y="1519"/>
<use href="#s109" x="866" y="1519"/>
<use href="#s101" x="872" y="1519"/>
<use href="#s115" x="878" y="1519"/>
<use href="#s67" x="884" y="1519"/>
<use href="#s111" x="890" y="1519"/>
<use href="#s110" x="896" y="1519"/>
<use href="#s115" x="902" y="1519"/>
<use href="#s111" x="908" y="1519"/>
<use href="#s114" x="914" y="1519"/>
<use href="#s116" x="920" y="1519"/>
<use href="#s105" x="926" y="1519"/>
<use href="#s117" x="932" y="1519"/>
<use href="#s109" x="938" y="1519"/>
<use href="#s80" x="944" y="1519"/>
<use href="#s105" x="950" y="1519"/>
<use href="#s108" x="956" y="1519"/>
<use href="#s111" x="962" y="1519"/>
<use href="#s116" x="968" y="1519"/>
<use href="#s80" x="974" y="1519"/>
<use href="#s114" x="980" y="1519"/>
<use href="#s111" x="986" y="1519"/>
<use href="#s106" x="992" y="1519"/>
<use href="#s101" x="998" y="1519"/>
<use href="#s99" x="1004" y="1519"/>
<use href="#s116" x="1010" y="1519"/>
<use href="#s41" x="1016" y="1519"/>
<rect x="746" y="1535" width="116" height="1" fill="#0000ff"/>
<rect x="746" y="1533" width="2" height="6" fill="#0000ff"/>
<rect x="751" y="1533" width="111" height="6" fill="#0000ff"/>
<use href="#s100" x="338" y="1540"/>
<use href="#s103" x="344" y="1540"/>
<use href="#s118" x="350" y="1540"/>
<use href="#s49" x="356" y="1540"/>
<use href="#s51" x="362" y="1540"/>
<use href="#s48" x="368" y="1540"/>
<use href="#s101" x="374" y="1540"/>
<use href="#s53" x="380" y="1540"/>
<use href="#s53" x="386" y="1540"/>
<use href="#s40" x="398" y="1540"/>
<use href="#s80" x="404" y="1540"/>
<use href="#s105" x="410" y="1540"/>
<use href="#s110" x="416" y="1540"/>
<use href="#s116" x="422" y="1540"/>
<use href="#s111" x="428" y="1540"/>
<use href="#s50" x="434" y="1540"/>
<use href="#s48" x="440" y="1540"/>
<use href="#s48" x="446" y="1540"/>
<use href="#s55" x="452" y="1540"/>
<use href="#s41" x="458" y="1540"/>
<rect x="338" y="1554" width="524" height="6" fill="#0000ff"/>
<use href="#s100" x="338" y="1561"/>
<use href="#s103" x="344" y="1561"/>
<use href="#s118" x="350" y="1561"/>
<use href="#s53" x="356" y="1561"/>
<use href="#s54" x="362" y="1561"/>
<use href="#s50" x="368" y="1561"/>
<use href="#s50" x="374" y="1561"/>
<use href="#s110" x="380" y="1561"/>
<use href="#s53" x="386" y="1561"/>
<use href="#s52" x="392" y="1561"/>
<use href="#s40" x="404" y="1561"/>
<use href="#s67" x="410" y="1561"/>
<use href="#s111" x="416" y="1561"/>
<use href="#s111" x="422" y="1561"/>
<use href="#s112" x="428" y="1561"/>
<use href="#s101" x="434" y="1561"/>
<use href="#s114" x="440" y="1561"/>
<use href="#s50" x="446" y="1561"/>
<use href="#s48" x="452" y="1561"/>
<use href="#s49" x="458" y="1561"/>
<use href="#s49" x="464" y="1561"/>
<use href="#s41" x="470" y="1561"/>
<rect x="338" y="1575" width="524" height="6" fill="#ff0000"/>
<use href="#s100" x="338" y="1582"/>
<use href="#s103" x="344" y="1582"/>
<use href="#s118" x="350" y="1582"/>
<use href="#s51" x="356" y="1582"/>
<use href="#s50" x="362" y="1582"/>
<use href="#s48" x="368" y="1582"/>
<use href="#s48" x="374" y="1582"/>
<use href="#s110" x="380" y="1582"/>
<use href="#s49" x="386" y="1582"/>
<use href="#s48" x="392" y="1582"/>
<use href="#s48" x="398" y="1582"/>
<use href="#s40" x="410" y="1582"/>
<use href="#s67" x="416" y="1582"/>
<use href="#s111" x="422" y="1582"/>
<use href="#s101" x="428" y="1582"/>
<use href="#s50" x="434" y="1582"/>
<use href="#s48" x="440" y="1582"/>
<use href="#s49" x="446" y="1582"/>
<use href="#s52" x="452" y="1582"/>
<use href="#s41" x="458" y="1582"/>
<rect x="338" y="1596" width="524" height="6" fill="#ff0000"/>
<use href="#s100" x="342" y="1603"/>
<use href="#s103" x="348" y="1603"/>
<use href="#s118" x="354" y="1603"/>
<use href="#s51" x="360" y="1603"/>
<use href="#s50" x="366" y="1603"/>
<use href="#s48" x="372" y="1603"/>
<use href="#s49" x="378" y="1603"/>
<use href="#s110" x="384" y="1603"/>
<use href="#s49" x="390" y="1603"/>
<use href="#s48" x="396" y="1603"/>
<use href="#s48" x="402" y="1603"/>
<use href="#s40" x="414" y="1603"/>
<use href="#s67" x="420" y="1603"/>
<use href="#s111" x="426" y="1603"/>
<use href="#s101" x="432" y="1603"/>
<use href="#s50" x="438" y="1603"/>
<use href="#s48" x="444" y="1603"/>
<use href="#s49" x="450" y="1603"/>
<use href="#s52" x="456" y="1603"/>
<use href="#s41" x="462" y="1603"/>
<rect x="342" y="1617" width="458" height="6" fill="#0000ff"/>
<use href="#s100" x="342" y="1624"/>
<use href="#s103" x="348" y="1624"/>
<use href="#s118" x="354" y="1624"/>
<use href="#s51" x="360" y="1624"/>
<use href="#s50" x="366" y="1624"/>
<use href="#s48" x="372" y="1624"/>
<use href="#s50" x="378" y="1624"/>
<use href="#s110" x="384" y="1624"/>
<use href="#s49" x="390" y="1624"/>
<use href="#s48" x="396" y="1624"/>
<use href="#s48" x="402" y="1624"/>
<use href="#s40" x="414" y="1624"/>
<use href="#s67" x="420" y="1624"/>
<use href="#s111" x="426" y="1624"/>
<use href="#s101" x="432" y="1624"/>
<use href="#s50" x="438" y="1624"/>
<use href="#s48" x="444" y="1624"/>
<use href="#s49" x="450" y="1624"/>
<use href="#s52" x="456" y="1624"/>
<use href="#s41" x="462" y="1624"/>
<rect x="342" y="1638" width="518" height="6" fill="#0000ff"/>
<use href="#s110" x="354" y="1645"/>
<use href="#s115" x="360" y="1645"/>
<use href="#s118" x="366" y="1645"/>
<use href="#s49" x="372" y="1645"/>
<use href="#s48" x="378" y="1645"/>
<use href="#s54" x="384" y="1645"/>
<use href="#s52" x="390" y="1645"/>
<use href="#s53" x="396" y="1645"/>
<use href="#s50" x="402" y="1645"/>
<use href="#s50" x="408" y="1645"/>
<use href="#s40" x="420" y="1645"/>
<use href="#s67" x="426" y="1645"/>
<use href="#s111" x="432" y="1645"/>
<use href="#s101" x="438" y="1645"/>
<use href="#s50" x="444" y="1645"/>
<use href="#s48" x="450" y="1645"/>
<use href="#s49" x="456" y="1645"/>
<use href="#s52" x="462" y="1645"/>
<use href="#s41" x="468" y="1645"/>
<rect x="354" y="1659" width="230" height="6" fill="#ff0000"/>
<use href="#s100" x="602" y="1645"/>
<use href="#s103" x="608" y="1645"/>
<use href="#s118" x="614" y="1645"/>
<use href="#s51" x="620" y="1645"/>
<use href="#s50" x="626" y="1645"/>
<use href="#s51" x="632" y="1645"/>
<use href="#s49" x="638" y="1645"/>
<use href="#s110" x="644" y="1645"/>
<use href="#s49" x="650" y="1645"/>
<use href="#s48" x="656" y="1645"/>
<use href="#s48" x="662" y="1645"/>
<use href="#s40" x="674" y="1645"/>
<use href="#s67" x="680" y="1645"/>
<use href="#s111" x="686" y="1645"/>
<use href="#s101" x="692" y="1645"/>
<use href="#s50" x="698" y="1645"/>
<use href="#s48" x="704" y="1645"/>
<use href="#s49" x="710" y="1645"/>
<use href="#s52" x="716" y="1645"/>
<use href="#s41" x="722" y="1645"/>
<rect x="602" y="1659" width="260" height="6" fill="#0000ff"/>
<use href="#s110" x="354" y="1666"/>
<use href="#s115" x="360" y="1666"/>
<use href="#s118" x="366" y="1666"/>
<use href="#s49" x="372" y="1666"/>
<use href="#s48" x="378" y="1666"/>
<use href="#s54" x="384" y="1666"/>
<use href="#s54" x="390" y="1666"/>
<use href="#s50" x="396" y="1666"/>
<use href="#s55" x="402" y="1666"/>
<use href="#s56" x="408" y="1666"/>
<use href="#s40" x="420" y="1666"/>
<use href="#s67" x="426" y="1666"/>
<use href="#s111" x="432" y="1666"/>
<use href="#s101" x="438" y="1666"/>
<use href="#s50" x="444" y="1666"/>
<use href="#s48" x="450" y="1666"/>
<use href="#s49" x="456" y="1666"/>
<use href="#s52" x="462" y="1666"/>
<use href="#s41" x="468" y="1666"/>
<rect x="354" y="1680" width="280" height="6" fill="#8b4513"/>
<use href="#s100" x="636" y="1666"/>
<use href="#s103" x="642" y="1666"/>
<use href="#s118" x="648" y="1666"/>
<use href="#s51" x="654" y="1666"/>
<use href="#s50" x="660" y="1666"/>
<use href="#s51" x="666" y="1666"/>
<use href="#s52" x="672" y="1666"/>
<use href="#s110" x="678" y="1666"/>
<use href="#s49" x="684" y="1666"/>
<use href="#s48" x="690" y="1666"/>
<use href="#s48" x="696" y="1666"/>
<use href="#s40" x="708" y="1666"/>
<use href="#s67" x="714" y="1666"/>
<use href="#s111" x="720" y="1666"/>
<use href="#s101" x="726" y="1666"/>
<use href="#s50" x="732" y="1666"/>
<use href="#s48" x="738" y="1666"/>
<use href="#s49" x="744" y="1666"/>
<use href="#s52" x="750" y="1666"/>
<use href="#s41" x="756" y="1666"/>
<rect x="636" y="1680" width="226" height="6" fill="#8b4513"/>
<use href="#s100" x="354" y="1687"/>
<use href="#s103" x="360" y="1687"/>
<use href="#s118" x="366" y="1687"/>
<use href="#s51" x="372" y="1687"/>
<use href="#s50" x="378" y="1687"/>
<use href="#s48" x="384" y="1687"/>
<use href="#s51" x="390" y="1687"/>
<use href="#s110" x="396" y="1687"/>
<use href="#s49" x="402" y="1687"/>
<use href="#s48" x="408" y="1687"/>
<use href="#s48" x="414" y="1687"/>
<use href="#s40" x="426" y="1687"/>
<use href="#s67" x="432" y="1687"/>
<use href="#s111" x="438" y="1687"/>
<use href="#s101" x="444" y="1687"/>
<use href="#s50" x="450" y="1687"/>
<use href="#s48" x="456" y="1687"/>
<use href="#s49" x="462" y="1687"/>
<use href="#s52" x="468" y="1687"/>
<use href="#s41" x="474" y="1687"/>
<rect x="354" y="1701" width="446" height="6" fill="#8b4513"/>
<use href="#s100" x="354" y="1708"/>
<use href="#s103" x="360" y="1708"/>
<use href="#s118" x="366" y="1708"/>
<use href="#s51" x="372" y="1708"/>
<use href="#s50" x="378" y="1708"/>
<use href="#s48" x="384" y="1708"/>
<use href="#s52" x="390" y="1708"/>
<use href="#s110" x="396" y="1708"/>
<use href="#s49" x="402" y="1708"/>
<use href="#s48" x="408" y="1708"/>
<use href="#s48" x="414" y="1708"/>
<use href="#s40" x="426" y="1708"/>
<use href="#s67" x="432" y="1708"/>
<use href="#s111" x="438" y="1708"/>
<use href="#s101" x="444" y="1708"/>
<use href="#s50" x="450" y="1708"/>
<use href="#s48" x="456" y="1708"/>
<use href="#s49" x="462" y="1708"/>
<use href="#s52" x="468" y="1708"/>
<use href="#s41" x="474" y="1708"/>
<rect x="354" y="1722" width="508" height="6" fill="#0000ff"/>
<use href="#s100" x="356" y="1729"/>
<use href="#s103" x="362" y="1729"/>
<use href="#s118" x="368" y="1729"/>
<use href="#s51" x="374" y="1729"/>
<use href="#s50" x="380" y="1729"/>
<use href="#s48" x="386" y="1729"/>
<use href="#s53" x="392" y="1729"/>
<use href="#s110" x="398" y="1729"/>
<use href="#s49" x="404" y="1729"/>
<use href="#s48" x="410" y="1729"/>
<use href="#s48" x="416" y="1729"/>
<use href="#s40" x="428" y="1729"/>
<use href="#s67" x="434" y="1729"/>
<use href="#s111" x="440" y="1729"/>
<use href="#s101" x="446" y="1729"/>
<use href="#s50" x="452" y="1729"/>
<use href="#s48" x="458" y="1729"/>
<use href="#s49" x="464" y="1729"/>
<use href="#s52" x="470" y="1729"/>
<use href="#s41" x="476" y="1729"/>
<rect x="356" y="1743" width="314" height="6" fill="#ff0000"/>
<use href="#s100" x="695" y="1729"/>
<use href="#s103" x="701" y="1729"/>
<use href="#s118" x="707" y="1729"/>
<use href="#s53" x="713" y="1729"/>
<use href="#s54" x="719" y="1729"/>
<use href="#s51" x="725" y="1729"/>
<use href="#s50" x="731" y="1729"/>
<use href="#s110" x="737" y="1729"/>
<use href="#s53" x="743" y="1729"/>
<use href="#s52" x="749" y="1729"/>
<use href="#s40" x="761" y="1729"/>
<use href="#s67" x="767" y="1729"/>
<use href="#s111" x="773" y="1729"/>
<use href="#s111" x="779" y="1729"/>
<use href="#s112" x="785" y="1729"/>
<use href="#s101" x="791" y="1729"/>
<use href="#s114" x="797" y="1729"/>
<use href="#s50" x="803" y="1729"/>
<use href="#s48" x="809" y="1729"/>
<use href="#s49" x="815" y="1729"/>
<use href="#s49" x="821" y="1729"/>
<use href="#s41" x="827" y="1729"/>
<rect x="695" y="1743" width="53" height="6" fill="#ff0000"/>
<use href="#s100" x="359" y="1750"/>
<use href="#s103" x="365" y="1750"/>
<use href="#s118" x="371" y="1750"/>
<use href="#s51" x="377" y="1750"/>
<use href="#s50" x="383" y="1750"/>
<use href="#s48" x="389" y="1750"/>
<use href="#s54" x="395" y="1750"/>
<use href="#s110" x="401" y="1750"/>
<use href="#s49" x="407" y="1750"/>
<use href="#s48" x="413" y="1750"/>
<use href="#s48" x="419" y="1750"/>
<use href="#s40" x="431" y="1750"/>
<use href="#s67" x="437" y="1750"/>
<use href="#s111" x="443" y="1750"/>
<use href="#s101" x="449" y="1750"/>
<use href="#s50" x="455" y="1750"/>
<use href="#s48" x="461" y="1750"/>
<use href="#s49" x="467" y="1750"/>
<use href="#s52" x="473" y="1750"/>
<use href="#s41" x="479" y="1750"/>
<rect x="359" y="1764" width="503" height="6" fill="#ff0000"/>
<use href="#s110" x="388" y="1771"/>
<use href="#s115" x="394" y="1771"/>
<use href="#s118" x="400" y="1771"/>
<use href="#s49" x="406" y="1771"/>
<use href="#s48" x="412" y="1771"/>
<use href="#s54" x="418" y="1771"/>
<use href="#s50" x="424" y="1771"/>
<use href="#s52" x="430" y="1771"/>
<use href="#s53" x="436" y="1771"/>
<use href="#s49" x="442" y="1771"/>
<use href="#s40" x="454" y="1771"/>
<use href="#s67" x="460" y="1771"/>
<use href="#s111" x="466" y="1771"/>
<use href="#s101" x="472" y="1771"/>
<use href="#s50" x="478" y="1771"/>
<use href="#s48" x="484" y="1771"/>
<use href="#s49" x="490" y="1771"/>
<use href="#s52" x="496" y="1771"/>
<use href="#s41" x="502" y="1771"/>
<rect x="388" y="1785" width="196" height="6" fill="#8b4513"/>
<use href="#s100" x="629" y="1771"/>
<use href="#s103" x="635" y="1771"/>
<use href="#s118" x="641" y="1771"/>
<use href="#s51" x="647" y="1771"/>
<use href="#s50" x="653" y="1771"/>
<use href="#s51" x="659" y="1771"/>
<use href="#s51" x="665" y="1771"/>
<use href="#s110" x="671" y="1771"/>
<use href="#s49" x="677" y="1771"/>
<use href="#s48" x="683" y="1771"/>
<use href="#s48" x="689" y="1771"/>
<use href="#s40" x="701" y="1771"/>
<use href="#s67" x="707" y="1771"/>
<use href="#s111" x="713" y="1771"/>
<use href="#s101" x="719" y="1771"/>
<use href="#s50" x="725" y="1771"/>
<use href="#s48" x="731" y="1771"/>
<use href="#s49" x="737" y="1771"/>
<use href="#s52" x="743" y="1771"/>
<use href="#s41" x="749" y="1771"/>
<rect x="629" y="1785" width="233" height="6" fill="#0000ff"/>
<use href="#s100" x="388" y="1792"/>
<use href="#s103" x="394" y="1792"/>
<use href="#s118" x="400" y="1792"/>
<use href="#s51" x="406" y="1792"/>
<use href="#s50" x="412" y="1792"/>
<use href="#s48" x="418" y="1792"/>
<use href="#s55" x="424" y="1792"/>
<use href="#s110" x="430" y="1792"/>
<use href="#s49" x="436" y="1792"/>
<use href="#s48" x="442" y="1792"/>
<use href="#s48" x="448" y="1792"/>
<use href="#s40" x="460" y="1792"/>
<use href="#s67" x="466" y="1792"/>
<use href="#s111" x="472" y="1792"/>
<use href="#s101" x="478" y="1792"/>
<use href="#s50" x="484" y="1792"/>
<use href="#s48" x="490" y="1792"/>
<use href="#s49" x="496" y="1792"/>
<use href="#s52" x="502" y="1792"/>
<use href="#s41" x="508" y="1792"/>
<rect x="388" y="1806" width="474" height="6" fill="#ff0000"/>
<use href="#s100" x="388" y="1813"/>
<use href="#s103" x="394" y="1813"/>
<use href="#s118" x="400" y="1813"/>
<use href="#s51" x="406" y="1813"/>
<use href="#s50" x="412" y="1813"/>
<use href="#s48" x="418" y="1813"/>
<use href="#s56" x="424" y="1813"/>
<use href="#s110" x="430" y="1813"/>
<use href="#s49" x="436" y="1813"/>
<use href="#s48" x="442" y="1813"/>
<use href="#s48" x="448" y="1813"/>
<use href="#s40" x="460" y="1813"/>
<use href="#s67" x="466" y="1813"/>
<use href="#s111" x="472" y="1813"/>
<use href="#s101" x="478" y="1813"/>
<use href="#s50" x="484" y="1813"/>
<use href="#s48" x="490" y="1813"/>
<use href="#s49" x="496" y="1813"/>
<use href="#s52" x="502" y="1813"/>
<use href="#s41" x="508" y="1813"/>
<rect x="388" y="1827" width="474" height="6" fill="#ff0000"/>
<use href="#s100" x="388" y="1834"/>
<use href="#s103" x="394" y="1834"/>
<use href="#s118" x="400" y="1834"/>
<use href="#s51" x="406" y="1834"/>
<use href="#s50" x="412" y="1834"/>
<use href="#s48" x="418" y="1834"/>
<use href="#s57" x="424" y="1834"/>
<use href="#s110" x="430" y="1834"/>
<use href="#s49" x="436" y="1834"/>
<use href="#s48" x="442" y="1834"/>
<use href="#s48" x="448" y="1834"/>
<use href="#s40" x="460" y="1834"/>
<use href="#s67" x="466" y="1834"/>
<use href="#s111" x="472" y="1834"/>
<use href="#s101" x="478" y="1834"/>
<use href="#s50" x="484" y="1834"/>
<use href="#s48" x="490" y="1834"/>
<use href="#s49" x="496" y="1834"/>
<use href="#s52" x="502" y="1834"/>
<use href="#s41" x="508" y="1834"/>
<rect x="388" y="1848" width="474" height="6" fill="#0000ff"/>
<use href="#s100" x="421" y="1855"/>
<use href="#s103" x="427" y="1855"/>
<use href="#s118" x="433" y="1855"/>
<use href="#s51" x="439" y="1855"/>
<use href="#s50" x="445" y="1855"/>
<use href="#s49" x="451" y="1855"/>
<use href="#s48" x="457" y="1855"/>
<use href="#s110" x="463" y="1855"/>
<use href="#s49" x="469" y="1855"/>
<use href="#s48" x="475" y="1855"/>
<use href="#s48" x="481" y="1855"/>
<use href="#s40" x="493" y="1855"/>
<use href="#s67" x="499" y="1855"/>
<use href="#s111" x="505" y="1855"/>
<use href="#s101" x="511" y="1855"/>
<use href="#s50" x="517" y="1855"/>
<use href="#s48" x="523" y="1855"/>
<use href="#s49" x="529" y="1855"/>
<use href="#s52" x="535" y="1855"/>
<use href="#s41" x="541" y="1855"/>
<rect x="421" y="1869" width="358" height="6" fill="#ff0000"/>
<use href="#s101" x="440" y="1876"/>
<use href="#s115" x="446" y="1876"/>
<use href="#s118" x="452" y="1876"/>
<use href="#s50" x="458" y="1876"/>
<use href="#s57" x="464" y="1876"/>
<use href="#s57" x="470" y="1876"/>
<use href="#s54" x="476" y="1876"/>
<use href="#s50" x="482" y="1876"/>
<use href="#s40" x="494" y="1876"/>
<use href="#s76" x="500" y="1876"/>
<use href="#s101" x="506" y="1876"/>
<use href="#s118" x="512" y="1876"/>
<use href="#s121" x="518" y="1876"/>
<use href="#s50" x="524" y="1876"/>
<use href="#s48" x="530" y="1876"/>
<use href="#s48" x="536" y="1876"/>
<use href="#s55" x="542" y="1876"/>
<use href="#s41" x="548" y="1876"/>
<rect x="440" y="1890" width="422" height="6" fill="#ff0000"/>
<use href="#s100" x="440" y="1897"/>
<use href="#s103" x="446" y="1897"/>
<use href="#s118" x="452" y="1897"/>
<use href="#s51" x="458" y="1897"/>
<use href="#s50" x="464" y="1897"/>
<use href="#s49" x="470" y="1897"/>
<use href="#s49" x="476" y="1897"/>
<use href="#s110" x="482" y="1897"/>
<use href="#s49" x="488" y="1897"/>
<use href="#s48" x="494" y="1897"/>
<use href="#s48" x="500" y="1897"/>
<use href="#s40" x="512" y="1897"/>
<use href="#s67" x="518" y="1897"/>
<use href="#s111" x="524" y="1897"/>
<use href="#s101" x="530" y="1897"/>
<use href="#s50" x="536" y="1897"/>
<use href="#s48" x="542" y="1897"/>
<use href="#s49" x="548" y="1897"/>
<use href="#s52" x="554" y="1897"/>
<use href="#s41" x="560" y="1897"/>
<rect x="440" y="1911" width="144" height="6" fill="#ff0000"/>
<use href="#s110" x="632" y="1897"/>
<use href="#s115" x="638" y="1897"/>
<use href="#s118" x="644" y="1897"/>
<use href="#s53" x="650" y="1897"/>
<use href="#s55" x="656" y="1897"/>
<use href="#s53" x="662" y="1897"/>
<use href="#s49" x="668" y="1897"/>
<use href="#s55" x="674" y="1897"/>
<use href="#s54" x="680" y="1897"/>
<use href="#s40" x="692" y="1897"/>
<use href="#s67" x="698" y="1897"/>
<use href="#s111" x="704" y="1897"/>
<use href="#s111" x="710" y="1897"/>
<use href="#s112" x="716" y="1897"/>
<use href="#s101" x="722" y="1897"/>
<use href="#s114" x="728" y="1897"/>
<use href="#s50" x="734" y="1897"/>
<use href="#s48" x="740" y="1897"/>
<use href="#s49" x="746" y="1897"/>
<use href="#s49" x="752" y="1897"/>
<use href="#s41" x="758" y="1897"/>
<rect x="632" y="1911" width="15" height="6" fill="#ff0000"/>
<use href="#s100" x="440" y="1918"/>
<use href="#s103" x="446" y="1918"/>
<use href="#s118" x="452" y="1918"/>
<use href="#s51" x="458" y="1918"/>
<use href="#s50" x="464" y="1918"/>
<use href="#s49" x="470" y="1918"/>
<use href="#s50" x="476" y="1918"/>
<use href="#s110" x="482" y="1918"/>
<use href="#s49" x="488" y="1918"/>
<use href="#s48" x="494" y="1918"/>
<use href="#s48" x="500" y="1918"/>
<use href="#s40" x="512" y="1918"/>
<use href="#s67" x="518" y="1918"/>
<use href="#s111" x="524" y="1918"/>
<use href="#s101" x="530" y="1918"/>
<use href="#s50" x="536" y="1918"/>
<use href="#s48" x="542" y="1918"/>
<use href="#s49" x="548" y="1918"/>
<use href="#s52" x="554" y="1918"/>
<use href="#s41" x="560" y="1918"/>
<rect x="440" y="1932" width="230" height="6" fill="#ff0000"/>
<use href="#s100" x="696" y="1918"/>
<use href="#s103" x="702" y="1918"/>
<use href="#s118" x="708" y="1918"/>
<use href="#s53" x="714" y="1918"/>
<use href="#s54" x="720" y="1918"/>
<use href="#s51" x="726" y="1918"/>
<use href="#s51" x="732" y="1918"/>
<use href="#s110" x="738" y="1918"/>
<use href="#s53" x="744" y="1918"/>
<use href="#s52" x="750" y="1918"/>
<use href="#s40" x="762" y="1918"/>
<use href="#s67" x="768" y="1918"/>
<use href="#s111" x="774" y="1918"/>
<use href="#s111" x="780" y="1918"/>
<use href="#s112" x="786" y="1918"/>
<use href="#s101" x="792" y="1918"/>
<use href="#s114" x="798" y="1918"/>
<use href="#s50" x="804" y="1918"/>
<use href="#s48" x="810" y="1918"/>
<use href="#s49" x="816" y="1918"/>
<use href="#s49" x="822" y="1918"/>
<use href="#s41" x="828" y="1918"/>
<rect x="696" y="1932" width="166" height="6" fill="#ff0000"/>
<use href="#s100" x="440" y="1939"/>
<use href="#s103" x="446" y="1939"/>
<use href="#s118" x="452" y="1939"/>
<use href="#s51" x="458" y="1939"/>
<use href="#s50" x="464" y="1939"/>
<use href="#s49" x="470" y="1939"/>
<use href="#s51" x="476" y="1939"/>
<use href="#s110" x="482" y="1939"/>
<use href="#s49" x="488" y="1939"/>
<use href="#s48" x="494" y="1939"/>
<use href="#s48" x="500" y="1939"/>
<use href="#s40" x="512" y="1939"/>
<use href="#s67" x="518" y="1939"/>
<use href="#s111" x="524" y="1939"/>
<use href="#s101" x="530" y="1939"/>
<use href="#s50" x="536" y="1939"/>
<use href="#s48" x="542" y="1939"/>
<use href="#s49" x="548" y="1939"/>
<use href="#s52" x="554" y="1939"/>
<use href="#s41" x="560" y="1939"/>
<rect x="440" y="1953" width="422" height="6" fill="#8b4513"/>
<use href="#s100" x="440" y="1960"/>
<use href="#s103" x="446" y="1960"/>
<use href="#s118" x="452" y="1960"/>
<use href="#s51" x="458" y="1960"/>
<use href="#s50" x="464" y="1960"/>
<use href="#s49" x="470" y="1960"/>
<use href="#s52" x="476" y="1960"/>
<use href="#s110" x="482" y="1960"/>
<use href="#s49" x="488" y="1960"/>
<use href="#s48" x="494" y="1960"/>
<use href="#s48" x="500" y="1960"/>
<use href="#s40" x="512" y="1960"/>
<use href="#s67" x="518" y="1960"/>
<use href="#s111" x="524" y="1960"/>
<use href="#s101" x="530" y="1960"/>
<use href="#s50" x="536" y="1960"/>
<use href="#s48" x="542" y="1960"/>
<use href="#s49" x="548" y="1960"/>
<use href="#s52" x="554" y="1960"/>
<use href="#s41" x="560" y="1960"/>
<rect x="440" y="1974" width="422" height="6" fill="#8b4513"/>
<use href="#s100" x="465" y="1981"/>
<use href="#s103" x="471" y="1981"/>
<use href="#s118" x="477" y="1981"/>
<use href="#s49" x="483" y="1981"/>
<use href="#s51" x="489" y="1981"/>
<use href="#s49" x="495" y="1981"/>
<use href="#s101" x="501" y="1981"/>
<use href="#s53" x="507" y="1981"/>
<use href="#s53" x="513" y="1981"/>
<use href="#s40" x="525" y="1981"/>
<use href="#s80" x="531" y="1981"/>
<use href="#s105" x="537" y="1981"/>
<use href="#s110" x="543" y="1981"/>
<use href="#s116" x="549" y="1981"/>
<use href="#s111" x="555" y="1981"/>
<use href="#s50" x="561" y="1981"/>
<use href="#s48" x="567" y="1981"/>
<use href="#s48" x="573" y="1981"/>
<use href="#s55" x="579" y="1981"/>
<use href="#s41" x="585" y="1981"/>
<rect x="465" y="1995" width="397" height="6" fill="#ff0000"/>
<use href="#s100" x="465" y="2002"/>
<use href="#s103" x="471" y="2002"/>
<use href="#s118" x="477" y="2002"/>
<use href="#s51" x="483" y="2002"/>
<use href="#s50" x="489" y="2002"/>
<use href="#s49" x="495" y="2002"/>
<use href="#s55" x="501" y="2002"/>
<use href="#s110" x="507" y="2002"/>
<use href="#s49" x="513" y="2002"/>
<use href="#s48" x="519" y="2002"/>
<use href="#s48" x="525" y="2002"/>
<use href="#s40" x="537" y="2002"/>
<use href="#s67" x="543" y="2002"/>
<use href="#s111" x="549" y="2002"/>
<use href="#s101" x="555" y="2002"/>
<use href="#s50" x="561" y="2002"/>
<use href="#s48" x="567" y="2002"/>
<use href="#s49" x="573" y="2002"/>
<use href="#s52" x="579" y="2002"/>
<use href="#s41" x="585" y="2002"/>
<rect x="465" y="2016" width="292" height="6" fill="#ff0000"/>
<use href="#s110" x="465" y="2023"/>
<use href="#s115" x="471" y="2023"/>
<use href="#s118" x="477" y="2023"/>
<use href="#s52" x="483" y="2023"/>
<use href="#s55" x="489" y="2023"/>
<use href="#s49" x="495" y="2023"/>
<use href="#s52" x="501" y="2023"/>
<use href="#s57" x="507" y="2023"/>
<use href="#s50" x="513" y="2023"/>
<use href="#s40" x="525" y="2023"/>
<use href="#s65" x="531" y="2023"/>
<use href="#s108" x="537" y="2023"/>
<use href="#s107" x="543" y="2023"/>
<use href="#s97" x="549" y="2023"/>
<use href="#s110" x="555" y="2023"/>
<use href="#s50" x="561" y="2023"/>
<use href="#s48" x="567" y="2023"/>
<use href="#s48" x="573" y="2023"/>
<use href="#s57" x="579" y="2023"/>
<use href="#s41" x="585" y="2023"/>
<rect x="465" y="2039" width="397" height="1" fill="#0000ff"/>
<rect x="465" y="2037" width="2" height="6" fill="#0000ff"/>
<use href="#s100" x="468" y="2044"/>
<use href="#s103" x="474" y="2044"/>
<use href="#s118" x="480" y="2044"/>
<use href="#s51" x="486" y="2044"/>
<use href="#s50" x="492" y="2044"/>
<use href="#s49" x="498" y="2044"/>
<use href="#s56" x="504" y="2044"/>
<use href="#s110" x="510" y="2044"/>
<use href="#s49" x="516" y="2044"/>
<use href="#s48" x="522" y="2044"/>
<use href="#s48" x="528" y="2044"/>
<use href="#s40" x="540" y="2044"/>
<use href="#s67" x="546" y="2044"/>
<use href="#s111" x="552" y="2044"/>
<use href="#s101" x="558" y="2044"/>
<use href="#s50" x="564" y="2044"/>
<use href="#s48" x="570" y="2044"/>
<use href="#s49" x="576" y="2044"/>
<use href="#s52" x="582" y="2044"/>
<use href="#s41" x="588" y="2044"/>
<rect x="468" y="2058" width="269" height="6" fill="#8b4513"/>
<use href="#s100" x="747" y="2044"/>
<use href="#s103" x="753" y="2044"/>
<use href="#s118" x="759" y="2044"/>
<use href="#s53" x="765" y="2044"/>
<use href="#s54" x="771" y="2044"/>
<use href="#s51" x="777" y="2044"/>
<use href="#s57" x="783" y="2044"/>
<use href="#s110" x="789" y="2044"/>
<use href="#s53" x="795" y="2044"/>
<use href="#s52" x="801" y="2044"/>
<use href="#s40" x="813" y="2044"/>
<use href="#s67" x="819" y="2044"/>
<use href="#s111" x="825" y="2044"/>
<use href="#s111" x="831" y="2044"/>
<use href="#s112" x="837" y="2044"/>
<use href="#s101" x="843" y="2044"/>
<use href="#s114" x="849" y="2044"/>
<use href="#s50" x="855" y="2044"/>
<use href="#s48" x="861" y="2044"/>
<use href="#s49" x="867" y="2044"/>
<use href="#s49" x="873" y="2044"/>
<use href="#s41" x="879" y="2044"/>
<rect x="747" y="2058" width="5" height="6" fill="#0000ff"/>
<use href="#s100" x="468" y="2065"/>
<use href="#s103" x="474" y="2065"/>
<use href="#s118" x="480" y="2065"/>
<use href="#s51" x="486" y="2065"/>
<use href="#s50" x="492" y="2065"/>
<use href="#s49" x="498" y="2065"/>
<use href="#s57" x="504" y="2065"/>
<use href="#s110" x="510" y="2065"/>
<use href="#s49" x="516" y="2065"/>
<use href="#s48" x="522" y="2065"/>
<use href="#s48" x="528" y="2065"/>
<use href="#s40" x="540" y="2065"/>
<use href="#s67" x="546" y="2065"/>
<use href="#s111" x="552" y="2065"/>
<use href="#s101" x="558" y="2065"/>
<use href="#s50" x="564" y="2065"/>
<use href="#s48" x="570" y="2065"/>
<use href="#s49" x="576" y="2065"/>
<use href="#s52" x="582" y="2065"/>
<use href="#s41" x="588" y="2065"/>
<rect x="468" y="2079" width="392" height="6" fill="#0000ff"/>
<use href="#s100" x="470" y="2086"/>
<use href="#s103" x="476" y="2086"/>
<use href="#s118" x="482" y="2086"/>
<use href="#s51" x="488" y="2086"/>
<use href="#s50" x="494" y="2086"/>
<use href="#s50" x="500" y="2086"/>
<use href="#s48" x="506" y="2086"/>
<use href="#s110" x="512" y="2086"/>
<use href="#s49" x="518" y="2086"/>
<use href="#s48" x="524" y="2086"/>
<use href="#s48" x="530" y="2086"/>
<use href="#s40" x="542" y="2086"/>
<use href="#s67" x="548" y="2086"/>
<use href="#s111" x="554" y="2086"/>
<use href="#s101" x="560" y="2086"/>
<use href="#s50" x="566" y="2086"/>
<use href="#s48" x="572" y="2086"/>
<use href="#s49" x="578" y="2086"/>
<use href="#s52" x="584" y="2086"/>
<use href="#s41" x="590" y="2086"/>
<rect x="470" y="2100" width="164" height="6" fill="#0000ff"/>
<use href="#s100" x="641" y="2086"/>
<use href="#s103" x="647" y="2086"/>
<use href="#s118" x="653" y="2086"/>
<use href="#s53" x="659" y="2086"/>
<use href="#s54" x="665" y="2086"/>
<use href="#s50" x="671" y="2086"/>
<use href="#s53" x="677" y="2086"/>
<use href="#s110" x="683" y="2086"/>
<use href="#s53" x="689" y="2086"/>
<use href="#s52" x="695" y="2086"/>
<use href="#s40" x="707" y="2086"/>
<use href="#s67" x="713" y="2086"/>
<use href="#s111" x="719" y="2086"/>
<use href="#s111" x="725" y="2086"/>
<use href="#s112" x="731" y="2086"/>
<use href="#s101" x="737" y="2086"/>
<use href="#s114" x="743" y="2086"/>
<use href="#s50" x="749" y="2086"/>
<use href="#s48" x="755" y="2086"/>
<use href="#s49" x="761" y="2086"/>
<use href="#s49" x="767" y="2086"/>
<use href="#s41" x="773" y="2086"/>
<rect x="641" y="2100" width="111" height="6" fill="#ff0000"/>
<use href="#s110" x="473" y="2107"/>
<use href="#s115" x="479" y="2107"/>
<use href="#s118" x="485" y="2107"/>
<use href="#s49" x="491" y="2107"/>
<use href="#s48" x="497" y="2107"/>
<use href="#s53" x="503" y="2107"/>
<use href="#s57" x="509" y="2107"/>
<use href="#s52" x="515" y="2107"/>
<use href="#s52" x="521" y="2107"/>
<use href="#s56" x="527" y="2107"/>
<use href="#s40" x="539" y="2107"/>
<use href="#s67" x="545" y="2107"/>
<use href="#s111" x="551" y="2107"/>
<use href="#s101" x="557" y="2107"/>
<use href="#s50" x="563" y="2107"/>
<use href="#s48" x="569" y="2107"/>
<use href="#s49" x="575" y="2107"/>
<use href="#s52" x="581" y="2107"/>
<use href="#s41" x="587" y="2107"/>
<rect x="473" y="2121" width="134" height="6" fill="#8b4513"/>
<use href="#s100" x="633" y="2107"/>
<use href="#s103" x="639" y="2107"/>
<use href="#s118" x="645" y="2107"/>
<use href="#s53" x="651" y="2107"/>
<use href="#s54" x="657" y="2107"/>
<use href="#s50" x="663" y="2107"/>
<use href="#s52" x="669" y="2107"/>
<use href="#s110" x="675" y="2107"/>
<use href="#s53" x="681" y="2107"/>
<use href="#s52" x="687" y="2107"/>
<use href="#s40" x="699" y="2107"/>
<use href="#s67" x="705" y="2107"/>
<use href="#s111" x="711" y="2107"/>
<use href="#s111" x="717" y="2107"/>
<use href="#s112" x="723" y="2107"/>
<use href="#s101" x="729" y="2107"/>
<use href="#s114" x="735" y="2107"/>
<use href="#s50" x="741" y="2107"/>
<use href="#s48" x="747" y="2107"/>
<use href="#s49" x="753" y="2107"/>
<use href="#s49" x="759" y="2107"/>
<use href="#s41" x="765" y="2107"/>
<rect x="633" y="2121" width="229" height="6" fill="#ff0000"/>
<use href="#s100" x="473" y="2128"/>
<use href="#s103" x="479" y="2128"/>
<use href="#s118" x="485" y="2128"/>
<use href="#s51" x="491" y="2128"/>
<use href="#s50" x="497" y="2128"/>
<use href="#s50" x="503" y="2128"/>
<use href="#s49" x="509" y="2128"/>
<use href="#s110" x="515" y="2128"/>
<use href="#s49" x="521" y="2128"/>
<use href="#s48" x="527" y="2128"/>
<use href="#s48" x="533" y="2128"/>
<use href="#s40" x="545" y="2128"/>
<use href="#s67" x="551" y="2128"/>
<use href="#s111" x="557" y="2128"/>
<use href="#s101" x="563" y="2128"/>
<use href="#s50" x="569" y="2128"/>
<use href="#s48" x="575" y="2128"/>
<use href="#s49" x="581" y="2128"/>
<use href="#s52" x="587" y="2128"/>
<use href="#s41" x="593" y="2128"/>
<rect x="473" y="2142" width="340" height="6" fill="#8b4513"/>
<use href="#s100" x="473" y="2149"/>
<use href="#s103" x="479" y="2149"/>
<use href="#s118" x="485" y="2149"/>
<use href="#s51" x="491" y="2149"/>
<use href="#s50" x="497" y="2149"/>
<use href="#s50" x="503" y="2149"/>
<use href="#s50" x="509" y="2149"/>
<use href="#s110" x="515" y="2149"/>
<use href="#s49" x="521" y="2149"/>
<use href="#s48" x="527" y="2149"/>
<use href="#s48" x="533" y="2149"/>
<use href="#s40" x="545" y="2149"/>
<use href="#s67" x="551" y="2149"/>
<use href="#s111" x="557" y="2149"/>
<use href="#s101" x="563" y="2149"/>
<use href="#s50" x="569" y="2149"/>
<use href="#s48" x="575" y="2149"/>
<use href="#s49" x="581" y="2149"/>
<use href="#s52" x="587" y="2149"/>
<use href="#s41" x="593" y="2149"/>
<rect x="473" y="2163" width="389" height="6" fill="#ff0000"/>
<use href="#s100" x="496" y="2170"/>
<use href="#s103" x="502" y="2170"/>
<use href="#s118" x="508" y="2170"/>
<use href="#s51" x="514" y="2170"/>
<use href="#s50" x="520" y="2170"/>
<use href="#s50" x="526" y="2170"/>
<use href="#s52" x="532" y="2170"/>
<use href="#s110" x="538" y="2170"/>
<use href="#s49" x="544" y="2170"/>
<use href="#s48" x="550" y="2170"/>
<use href="#s48" x="556" y="2170"/>
<use href="#s40" x="568" y="2170"/>
<use href="#s67" x="574" y="2170"/>
<use href="#s111" x="580" y="2170"/>
<use href="#s101" x="586" y="2170"/>
<use href="#s50" x="592" y="2170"/>
<use href="#s48" x="598" y="2170"/>
<use href="#s49" x="604" y="2170"/>
<use href="#s52" x="610" y="2170"/>
<use href="#s41" x="616" y="2170"/>
<rect x="496" y="2184" width="174" height="6" fill="#ff0000"/>
<use href="#s100" x="696" y="2170"/>
<use href="#s103" x="702" y="2170"/>
<use href="#s118" x="708" y="2170"/>
<use href="#s53" x="714" y="2170"/>
<use href="#s54" x="720" y="2170"/>
<use href="#s51" x="726" y="2170"/>
<use href="#s52" x="732" y="2170"/>
<use href="#s110" x="738" y="2170"/>
<use href="#s53" x="744" y="2170"/>
<use href="#s52" x="750" y="2170"/>
<use href="#s40" x="762" y="2170"/>
<use href="#s67" x="768" y="2170"/>
<use href="#s111" x="774" y="2170"/>
<use href="#s111" x="780" y="2170"/>
<use href="#s112" x="786" y="2170"/>
<use href="#s101" x="792" y="2170"/>
<use href="#s114" x="798" y="2170"/>
<use href="#s50" x="804" y="2170"/>
<use href="#s48" x="810" y="2170"/>
<use href="#s49" x="816" y="2170"/>
<use href="#s49" x="822" y="2170"/>
<use href="#s41" x="828" y="2170"/>
<rect x="696" y="2184" width="166" height="6" fill="#ff0000"/>
<use href="#s100" x="496" y="2191"/>
<use href="#s103" x="502" y="2191"/>
<use href="#s118" x="508" y="2191"/>
<use href="#s51" x="514" y="2191"/>
<use href="#s50" x="520" y="2191"/>
<use href="#s50" x="526" y="2191"/>
<use href="#s53" x="532" y="2191"/>
<use href="#s110" x="538" y="2191"/>
<use href="#s49" x="544" y="2191"/>
<use href="#s48" x="550" y="2191"/>
<use href="#s48" x="556" y="2191"/>
<use href="#s40" x="568" y="2191"/>
<use href="#s67" x="574" y="2191"/>
<use href="#s111" x="580" y="2191"/>
<use href="#s101" x="586" y="2191"/>
<use href="#s50" x="592" y="2191"/>
<use href="#s48" x="598" y="2191"/>
<use href="#s49" x="604" y="2191"/>
<use href="#s52" x="610" y="2191"/>
<use href="#s41" x="616" y="2191"/>
<rect x="496" y="2205" width="241" height="6" fill="#ff0000"/>
<use href="#s110" x="748" y="2191"/>
<use href="#s115" x="754" y="2191"/>
<use href="#s118" x="760" y="2191"/>
<use href="#s53" x="766" y="2191"/>
<use href="#s55" x="772" y="2191"/>
<use href="#s53" x="778" y="2191"/>
<use href="#s50" x="784" y="2191"/>
<use href="#s51" x="790" y="2191"/>
<use href="#s56" x="796" y="2191"/>
<use href="#s40" x="808" y="2191"/>
<use href="#s67" x="814" y="2191"/>
<use href="#s111" x="820" y="2191"/>
<use href="#s111" x="826" y="2191"/>
<use href="#s112" x="832" y="2191"/>
<use href="#s101" x="838" y="2191"/>
<use href="#s114" x="844" y="2191"/>
<use href="#s50" x="850" y="2191"/>
<use href="#s48" x="856" y="2191"/>
<use href="#s49" x="862" y="2191"/>
<use href="#s49" x="868" y="2191"/>
<use href="#s41" x="874" y="2191"/>
<rect x="748" y="2205" width="3" height="6" fill="#0000ff"/>
<use href="#s100" x="505" y="2212"/>
<use href="#s103" x="511" y="2212"/>
<use href="#s118" x="517" y="2212"/>
<use href="#s53" x="523" y="2212"/>
<use href="#s54" x="529" y="2212"/>
<use href="#s50" x="535" y="2212"/>
<use href="#s51" x="541" y="2212"/>
<use href="#s110" x="547" y="2212"/>
<use href="#s53" x="553" y="2212"/>
<use href="#s52" x="559" y="2212"/>
<use href="#s40" x="571" y="2212"/>
<use href="#s67" x="577" y="2212"/>
<use href="#s111" x="583" y="2212"/>
<use href="#s111" x="589" y="2212"/>
<use href="#s112" x="595" y="2212"/>
<use href="#s101" x="601" y="2212"/>
<use href="#s114" x="607" y="2212"/>
<use href="#s50" x="613" y="2212"/>
<use href="#s48" x="619" y="2212"/>
<use href="#s49" x="625" y="2212"/>
<use href="#s49" x="631" y="2212"/>
<use href="#s41" x="637" y="2212"/>
<rect x="505" y="2226" width="357" height="6" fill="#ff0000"/>
<use href="#s100" x="509" y="2233"/>
<use href="#s103" x="515" y="2233"/>
<use href="#s118" x="521" y="2233"/>
<use href="#s51" x="527" y="2233"/>
<use href="#s50" x="533" y="2233"/>
<use href="#s50" x="539" y="2233"/>
<use href="#s54" x="545" y="2233"/>
<use href="#s110" x="551" y="2233"/>
<use href="#s49" x="557" y="2233"/>
<use href="#s48" x="563" y="2233"/>
<use href="#s48" x="569" y="2233"/>
<use href="#s40" x="581" y="2233"/>
<use href="#s67" x="587" y="2233"/>
<use href="#s111" x="593" y="2233"/>
<use href="#s101" x="599" y="2233"/>
<use href="#s50" x="605" y="2233"/>
<use href="#s48" x="611" y="2233"/>
<use href="#s49" x="617" y="2233"/>
<use href="#s52" x="623" y="2233"/>
<use href="#s41" x="629" y="2233"/>
<rect x="509" y="2247" width="98" height="6" fill="#8b4513"/>
<use href="#s100" x="641" y="2233"/>
<use href="#s103" x="647" y="2233"/>
<use href="#s118" x="653" y="2233"/>
<use href="#s51" x="659" y="2233"/>
<use href="#s50" x="665" y="2233"/>
<use href="#s51" x="671" y="2233"/>
<use href="#s53" x="677" y="2233"/>
<use href="#s110" x="683" y="2233"/>
<use href="#s49" x="689" y="2233"/>
<use href="#s48" x="695" y="2233"/>
<use href="#s48" x="701" y="2233"/>
<use href="#s40" x="713" y="2233"/>
<use href="#s67" x="719" y="2233"/>
<use href="#s111" x="725" y="2233"/>
<use href="#s101" x="731" y="2233"/>
<use href="#s50" x="737" y="2233"/>
<use href="#s48" x="743" y="2233"/>
<use href="#s49" x="749" y="2233"/>
<use href="#s52" x="755" y="2233"/>
<use href="#s41" x="761" y="2233"/>
<rect x="641" y="2247" width="221" height="6" fill="#ff0000"/>
<use href="#s100" x="509" y="2254"/>
<use href="#s103" x="515" y="2254"/>
<use href="#s118" x="521" y="2254"/>
<use href="#s51" x="527" y="2254"/>
<use href="#s50" x="533" y="2254"/>
<use href="#s50" x="539" y="2254"/>
<use href="#s55" x="545" y="2254"/>
<use href="#s110" x="551" y="2254"/>
<use href="#s49" x="557" y="2254"/>
<use href="#s48" x="563" y="2254"/>
<use href="#s48" x="569" y="2254"/>
<use href="#s40" x="581" y="2254"/>
<use href="#s67" x="587" y="2254"/>
<use href="#s111" x="593" y="2254"/>
<use href="#s101" x="599" y="2254"/>
<use href="#s50" x="605" y="2254"/>
<use href="#s48" x="611" y="2254"/>
<use href="#s49" x="617" y="2254"/>
<use href="#s52" x="623" y="2254"/>
<use href="#s41" x="629" y="2254"/>
<rect x="509" y="2268" width="138" height="6" fill="#8b4513"/>
<use href="#s100" x="711" y="2254"/>
<use href="#s103" x="717" y="2254"/>
<use href="#s118" x="723" y="2254"/>
<use href="#s51" x="729" y="2254"/>
<use href="#s50" x="735" y="2254"/>
<use href="#s51" x="741" y="2254"/>
<use href="#s54" x="747" y="2254"/>
<use href="#s110" x="753" y="2254"/>
<use href="#s49" x="759" y="2254"/>
<use href="#s48" x="765" y="2254"/>
<use href="#s48" x="771" y="2254"/>
<use href="#s40" x="783" y="2254"/>
<use href="#s67" x="789" y="2254"/>
<use href="#s111" x="795" y="2254"/>
<use href="#s101" x="801" y="2254"/>
<use href="#s50" x="807" y="2254"/>
<use href="#s48" x="813" y="2254"/>
<use href="#s49" x="819" y="2254"/>
<use href="#s52" x="825" y="2254"/>
<use href="#s41" x="831" y="2254"/>
<rect x="711" y="2268" width="151" height="6" fill="#ff0000"/>
<use href="#s100" x="521" y="2275"/>
<use href="#s103" x="527" y="2275"/>
<use href="#s118" x="533" y="2275"/>
<use href="#s51" x="539" y="2275"/>
<use href="#s50" x="545" y="2275"/>
<use href="#s50" x="551" y="2275"/>
<use href="#s56" x="557" y="2275"/>
<use href="#s110" x="563" y="2275"/>
<use href="#s49" x="569" y="2275"/>
<use href="#s48" x="575" y="2275"/>
<use href="#s48" x="581" y="2275"/>
<use href="#s40" x="593" y="2275"/>
<use href="#s67" x="599" y="2275"/>
<use href="#s111" x="605" y="2275"/>
<use href="#s101" x="611" y="2275"/>
<use href="#s50" x="617" y="2275"/>
<use href="#s48" x="623" y="2275"/>
<use href="#s49" x="629" y="2275"/>
<use href="#s52" x="635" y="2275"/>
<use href="#s41" x="641" y="2275"/>
<rect x="521" y="2289" width="121" height="6" fill="#ff0000"/>
<use href="#s100" x="711" y="2275"/>
<use href="#s103" x="717" y="2275"/>
<use href="#s118" x="723" y="2275"/>
<use href="#s51" x="729" y="2275"/>
<use href="#s50" x="735" y="2275"/>
<use href="#s51" x="741" y="2275"/>
<use href="#s55" x="747" y="2275"/>
<use href="#s110" x="753" y="2275"/>
<use href="#s49" x="759" y="2275"/>
<use href="#s48" x="765" y="2275"/>
<use href="#s48" x="771" y="2275"/>
<use href="#s40" x="783" y="2275"/>
<use href="#s67" x="789" y="2275"/>
<use href="#s111" x="795" y="2275"/>
<use href="#s101" x="801" y="2275"/>
<use href="#s50" x="807" y="2275"/>
<use href="#s48" x="813" y="2275"/>
<use href="#s49" x="819" y="2275"/>
<use href="#s52" x="825" y="2275"/>
<use href="#s41" x="831" y="2275"/>
<rect x="711" y="2289" width="151" height="6" fill="#ff0000"/>
<use href="#s100" x="567" y="2296"/>
<use href="#s103" x="573" y="2296"/>
<use href="#s118" x="579" y="2296"/>
<use href="#s51" x="585" y="2296"/>
<use href="#s50" x="591" y="2296"/>
<use href="#s50" x="597" y="2296"/>
<use href="#s57" x="603" y="2296"/>
<use href="#s110" x="609" y="2296"/>
<use href="#s49" x="615" y="2296"/>
<use href="#s48" x="621" y="2296"/>
<use href="#s48" x="627" y="2296"/>
<use href="#s40" x="639" y="2296"/>
<use href="#s67" x="645" y="2296"/>
<use href="#s111" x="651" y="2296"/>
<use href="#s101" x="657" y="2296"/>
<use href="#s50" x="663" y="2296"/>
<use href="#s48" x="669" y="2296"/>
<use href="#s49" x="675" y="2296"/>
<use href="#s52" x="681" y="2296"/>
<use href="#s41" x="687" y="2296"/>
<rect x="567" y="2310" width="230" height="6" fill="#ff0000"/>
<use href="#s110" x="574" y="2317"/>
<use href="#s115" x="580" y="2317"/>
<use href="#s118" x="586" y="2317"/>
<use href="#s56" x="592" y="2317"/>
<use href="#s51" x="598" y="2317"/>
<use href="#s51" x="604" y="2317"/>
<use href="#s52" x="610" y="2317"/>
<use href="#s54" x="616" y="2317"/>
<use href="#s50" x="622" y="2317"/>
<use href="#s40" x="634" y="2317"/>
<use href="#s87" x="640" y="2317"/>
<use href="#s111" x="646" y="2317"/>
<use href="#s110" x="652" y="2317"/>
<use href="#s103" x="658" y="2317"/>
<use href="#s50" x="664" y="2317"/>
<use href="#s48" x="670" y="2317"/>
<use href="#s48" x="676" y="2317"/>
<use href="#s55" x="682" y="2317"/>
<use href="#s41" x="688" y="2317"/>
<rect x="574" y="2333" width="288" height="1" fill="#0000ff"/>
<rect x="574" y="2331" width="2" height="6" fill="#0000ff"/>
<use href="#s110" x="643" y="2338"/>
<use href="#s115" x="649" y="2338"/>
<use href="#s118" x="655" y="2338"/>
<use href="#s53" x="661" y="2338"/>
<use href="#s55" x="667" y="2338"/>
<use href="#s53" x="673" y="2338"/>
<use href="#s49" x="679" y="2338"/>
<use href="#s56" x="685" y="2338"/>
<use href="#s48" x="691" y="2338"/>
<use href="#s40" x="703" y="2338"/>
<use href="#s67" x="709" y="2338"/>
<use href="#s111" x="715" y="2338"/>
<use href="#s111" x="721" y="2338"/>
<use href="#s112" x="727" y="2338"/>
<use href="#s101" x="733" y="2338"/>
<use href="#s114" x="739" y="2338"/>
<use href="#s50" x="745" y="2338"/>
<use href="#s48" x="751" y="2338"/>
<use href="#s49" x="757" y="2338"/>
<use href="#s49" x="763" y="2338"/>
<use href="#s41" x="769" y="2338"/>
<rect x="643" y="2352" width="36" height="6" fill="#ff0000"/>
<use href="#s100" x="643" y="2359"/>
<use href="#s103" x="649" y="2359"/>
<use href="#s118" x="655" y="2359"/>
<use href="#s53" x="661" y="2359"/>
<use href="#s54" x="667" y="2359"/>
<use href="#s50" x="673" y="2359"/>
<use href="#s54" x="679" y="2359"/>
<use href="#s110" x="685" y="2359"/>
<use href="#s53" x="691" y="2359"/>
<use href="#s52" x="697" y="2359"/>
<use href="#s40" x="709" y="2359"/>
<use href="#s67" x="715" y="2359"/>
<use href="#s111" x="721" y="2359"/>
<use href="#s111" x="727" y="2359"/>
<use href="#s112" x="733" y="2359"/>
<use href="#s101" x="739" y="2359"/>
<use href="#s114" x="745" y="2359"/>
<use href="#s50" x="751" y="2359"/>
<use href="#s48" x="757" y="2359"/>
<use href="#s49" x="763" y="2359"/>
<use href="#s49" x="769" y="2359"/>
<use href="#s41" x="775" y="2359"/>
<rect x="643" y="2373" width="83" height="6" fill="#ff0000"/>
<use href="#s100" x="643" y="2380"/>
<use href="#s103" x="649" y="2380"/>
<use href="#s118" x="655" y="2380"/>
<use href="#s53" x="661" y="2380"/>
<use href="#s54" x="667" y="2380"/>
<use href="#s50" x="673" y="2380"/>
<use href="#s55" x="679" y="2380"/>
<use href="#s110" x="685" y="2380"/>
<use href="#s53" x="691" y="2380"/>
<use href="#s52" x="697" y="2380"/>
<use href="#s40" x="709" y="2380"/>
<use href="#s67" x="715" y="2380"/>
<use href="#s111" x="721" y="2380"/>
<use href="#s111" x="727" y="2380"/>
<use href="#s112" x="733" y="2380"/>
<use href="#s101" x="739" y="2380"/>
<use href="#s114" x="745" y="2380"/>
<use href="#s50" x="751" y="2380"/>
<use href="#s48" x="757" y="2380"/>
<use href="#s49" x="763" y="2380"/>
<use href="#s49" x="769" y="2380"/>
<use href="#s41" x="775" y="2380"/>
<rect x="643" y="2394" width="157" height="6" fill="#ff0000"/>
<use href="#s100" x="643" y="2401"/>
<use href="#s103" x="649" y="2401"/>
<use href="#s118" x="655" y="2401"/>
<use href="#s53" x="661" y="2401"/>
<use href="#s54" x="667" y="2401"/>
<use href="#s50" x="673" y="2401"/>
<use href="#s56" x="679" y="2401"/>
<use href="#s110" x="685" y="2401"/>
<use href="#s53" x="691" y="2401"/>
<use href="#s52" x="697" y="2401"/>
<use href="#s40" x="709" y="2401"/>
<use href="#s67" x="715" y="2401"/>
<use href="#s111" x="721" y="2401"/>
<use href="#s111" x="727" y="2401"/>
<use href="#s112" x="733" y="2401"/>
<use href="#s101" x="739" y="2401"/>
<use href="#s114" x="745" y="2401"/>
<use href="#s50" x="751" y="2401"/>
<use href="#s48" x="757" y="2401"/>
<use href="#s49" x="763" y="2401"/>
<use href="#s49" x="769" y="2401"/>
<use href="#s41" x="775" y="2401"/>
<rect x="643" y="2415" width="219" height="6" fill="#ff0000"/>
<use href="#s100" x="711" y="2422"/>
<use href="#s103" x="717" y="2422"/>
<use href="#s118" x="723" y="2422"/>
<use href="#s51" x="729" y="2422"/>
<use href="#s50" x="735" y="2422"/>
<use href="#s51" x="741" y="2422"/>
<use href="#s56" x="747" y="2422"/>
<use href="#s110" x="753" y="2422"/>
<use href="#s49" x="759" y="2422"/>
<use href="#s48" x="765" y="2422"/>
<use href="#s48" x="771" y="2422"/>
<use href="#s40" x="783" y="2422"/>
<use href="#s67" x="789" y="2422"/>
<use href="#s111" x="795" y="2422"/>
<use href="#s101" x="801" y="2422"/>
<use href="#s50" x="807" y="2422"/>
<use href="#s48" x="813" y="2422"/>
<use href="#s49" x="819" y="2422"/>
<use href="#s52" x="825" y="2422"/>
<use href="#s41" x="831" y="2422"/>
<rect x="711" y="2436" width="151" height="6" fill="#0000ff"/>
<use href="#s100" x="711" y="2443"/>
<use href="#s103" x="717" y="2443"/>
<use href="#s118" x="723" y="2443"/>
<use href="#s51" x="729" y="2443"/>
<use href="#s50" x="735" y="2443"/>
<use href="#s51" x="741" y="2443"/>
<use href="#s57" x="747" y="2443"/>
<use href="#s110" x="753" y="2443"/>
<use href="#s49" x="759" y="2443"/>
<use href="#s48" x="765" y="2443"/>
<use href="#s48" x="771" y="2443"/>
<use href="#s40" x="783" y="2443"/>
<use href="#s67" x="789" y="2443"/>
<use href="#s111" x="795" y="2443"/>
<use href="#s101" x="801" y="2443"/>
<use href="#s50" x="807" y="2443"/>
<use href="#s48" x="813" y="2443"/>
<use href="#s49" x="819" y="2443"/>
<use href="#s52" x="825" y="2443"/>
<use href="#s41" x="831" y="2443"/>
<rect x="711" y="2457" width="151" height="6" fill="#0000ff"/>
<use href="#s100" x="711" y="2464"/>
<use href="#s103" x="717" y="2464"/>
<use href="#s118" x="723" y="2464"/>
<use href="#s51" x="729" y="2464"/>
<use href="#s50" x="735" y="2464"/>
<use href="#s52" x="741" y="2464"/>
<use href="#s48" x="747" y="2464"/>
<use href="#s110" x="753" y="2464"/>
<use href="#s49" x="759" y="2464"/>
<use href="#s48" x="765" y="2464"/>
<use href="#s48" x="771" y="2464"/>
<use href="#s40" x="783" y="2464"/>
<use href="#s67" x="789" y="2464"/>
<use href="#s111" x="795" y="2464"/>
<use href="#s101" x="801" y="2464"/>
<use href="#s50" x="807" y="2464"/>
<use href="#s48" x="813" y="2464"/>
<use href="#s49" x="819" y="2464"/>
<use href="#s52" x="825" y="2464"/>
<use href="#s41" x="831" y="2464"/>
<rect x="711" y="2478" width="151" height="6" fill="#0000ff"/>
<use href="#s100" x="716" y="2485"/>
<use href="#s103" x="722" y="2485"/>
<use href="#s118" x="728" y="2485"/>
<use href="#s53" x="734" y="2485"/>
<use href="#s54" x="740" y="2485"/>
<use href="#s51" x="746" y="2485"/>
<use href="#s53" x="752" y="2485"/>
<use href="#s110" x="758" y="2485"/>
<use href="#s53" x="764" y="2485"/>
<use href="#s52" x="770" y="2485"/>
<use href="#s40" x="782" y="2485"/>
<use href="#s67" x="788" y="2485"/>
<use href="#s111" x="794" y="2485"/>
<use href="#s111" x="800" y="2485"/>
<use href="#s112" x="806" y="2485"/>
<use href="#s101" x="812" y="2485"/>
<use href="#s114" x="818" y="2485"/>
<use href="#s50" x="824" y="2485"/>
<use href="#s48" x="830" y="2485"/>
<use href="#s49" x="836" y="2485"/>
<use href="#s49" x="842" y="2485"/>
<use href="#s41" x="848" y="2485"/>
<rect x="716" y="2499" width="36" height="6" fill="#ff0000"/>
<use href="#s100" x="717" y="2506"/>
<use href="#s103" x="723" y="2506"/>
<use href="#s118" x="729" y="2506"/>
<use href="#s53" x="735" y="2506"/>
<use href="#s54" x="741" y="2506"/>
<use href="#s51" x="747" y="2506"/>
<use href="#s54" x="753" y="2506"/>
<use href="#s110" x="759" y="2506"/>
<use href="#s53" x="765" y="2506"/>
<use href="#s52" x="771" y="2506"/>
<use href="#s40" x="783" y="2506"/>
<use href="#s67" x="789" y="2506"/>
<use href="#s111" x="795" y="2506"/>
<use href="#s111" x="801" y="2506"/>
<use href="#s112" x="807" y="2506"/>
<use href="#s101" x="813" y="2506"/>
<use href="#s114" x="819" y="2506"/>
<use href="#s50" x="825" y="2506"/>
<use href="#s48" x="831" y="2506"/>
<use href="#s49" x="837" y="2506"/>
<use href="#s49" x="843" y="2506"/>
<use href="#s41" x="849" y="2506"/>
<rect x="717" y="2520" width="83" height="6" fill="#ff0000"/>
<use href="#s100" x="717" y="2527"/>
<use href="#s103" x="723" y="2527"/>
<use href="#s118" x="729" y="2527"/>
<use href="#s51" x="735" y="2527"/>
<use href="#s50" x="741" y="2527"/>
<use href="#s52" x="747" y="2527"/>
<use href="#s49" x="753" y="2527"/>
<use href="#s110" x="759" y="2527"/>
<use href="#s49" x="765" y="2527"/>
<use href="#s48" x="771" y="2527"/>
<use href="#s48" x="777" y="2527"/>
<use href="#s40" x="789" y="2527"/>
<use href="#s67" x="795" y="2527"/>
<use href="#s111" x="801" y="2527"/>
<use href="#s101" x="807" y="2527"/>
<use href="#s50" x="813" y="2527"/>
<use href="#s48" x="819" y="2527"/>
<use href="#s49" x="825" y="2527"/>
<use href="#s52" x="831" y="2527"/>
<use href="#s41" x="837" y="2527"/>
<rect x="717" y="2541" width="145" height="6" fill="#ff0000"/>
<use href="#s110" x="725" y="2548"/>
<use href="#s115" x="731" y="2548"/>
<use href="#s118" x="737" y="2548"/>
<use href="#s53" x="743" y="2548"/>
<use href="#s55" x="749" y="2548"/>
<use href="#s53" x="755" y="2548"/>
<use href="#s50" x="761" y="2548"/>
<use href="#s50" x="767" y="2548"/>
<use href="#s56" x="773" y="2548"/>
<use href="#s40" x="785" y="2548"/>
<use href="#s67" x="791" y="2548"/>
<use href="#s111" x="797" y="2548"/>
<use href="#s111" x="803" y="2548"/>
<use href="#s112" x="809" y="2548"/>
<use href="#s101" x="815" y="2548"/>
<use href="#s114" x="821" y="2548"/>
<use href="#s50" x="827" y="2548"/>
<use href="#s48" x="833" y="2548"/>
<use href="#s49" x="839" y="2548"/>
<use href="#s49" x="845" y="2548"/>
<use href="#s41" x="851" y="2548"/>
<rect x="725" y="2562" width="27" height="6" fill="#0000ff"/>
<use href="#s100" x="735" y="2569"/>
<use href="#s103" x="741" y="2569"/>
<use href="#s118" x="747" y="2569"/>
<use href="#s53" x="753" y="2569"/>
<use href="#s54" x="759" y="2569"/>
<use href="#s51" x="765" y="2569"/>
<use href="#s55" x="771" y="2569"/>
<use href="#s110" x="777" y="2569"/>
<use href="#s53" x="783" y="2569"/>
<use href="#s52" x="789" y="2569"/>
<use href="#s40" x="801" y="2569"/>
<use href="#s67" x="807" y="2569"/>
<use href="#s111" x="813" y="2569"/>
<use href="#s111" x="819" y="2569"/>
<use href="#s112" x="825" y="2569"/>
<use href="#s101" x="831" y="2569"/>
<use href="#s114" x="837" y="2569"/>
<use href="#s50" x="843" y="2569"/>
<use href="#s48" x="849" y="2569"/>
<use href="#s49" x="855" y="2569"/>
<use href="#s49" x="861" y="2569"/>
<use href="#s41" x="867" y="2569"/>
<rect x="735" y="2583" width="127" height="6" fill="#0000ff"/>
<use href="#s100" x="735" y="2590"/>
<use href="#s103" x="741" y="2590"/>
<use href="#s118" x="747" y="2590"/>
<use href="#s53" x="753" y="2590"/>
<use href="#s54" x="759" y="2590"/>
<use href="#s51" x="765" y="2590"/>
<use href="#s56" x="771" y="2590"/>
<use href="#s110" x="777" y="2590"/>
<use href="#s53" x="783" y="2590"/>
<use href="#s52" x="789" y="2590"/>
<use href="#s40" x="801" y="2590"/>
<use href="#s67" x="807" y="2590"/>
<use href="#s111" x="813" y="2590"/>
<use href="#s111" x="819" y="2590"/>
<use href="#s112" x="825" y="2590"/>
<use href="#s101" x="831" y="2590"/>
<use href="#s114" x="837" y="2590"/>
<use href="#s50" x="843" y="2590"/>
<use href="#s48" x="849" y="2590"/>
<use href="#s49" x="855" y="2590"/>
<use href="#s49" x="861" y="2590"/>
<use href="#s41" x="867" y="2590"/>
<rect x="735" y="2604" width="127" height="6" fill="#0000ff"/>
<use href="#s110" x="748" y="2611"/>
<use href="#s115" x="754" y="2611"/>
<use href="#s118" x="760" y="2611"/>
<use href="#s53" x="766" y="2611"/>
<use href="#s55" x="772" y="2611"/>
<use href="#s53" x="778" y="2611"/>
<use href="#s50" x="784" y="2611"/>
<use href="#s52" x="790" y="2611"/>
<use href="#s49" x="796" y="2611"/>
<use href="#s40" x="808" y="2611"/>
<use href="#s67" x="814" y="2611"/>
<use href="#s111" x="820" y="2611"/>
<use href="#s111" x="826" y="2611"/>
<use href="#s112" x="832" y="2611"/>
<use href="#s101" x="838" y="2611"/>
<use href="#s114" x="844" y="2611"/>
<use href="#s50" x="850" y="2611"/>
<use href="#s48" x="856" y="2611"/>
<use href="#s49" x="862" y="2611"/>
<use href="#s49" x="868" y="2611"/>
<use href="#s41" x="874" y="2611"/>
<rect x="748" y="2625" width="18" height="6" fill="#0000ff"/>
<use href="#s101" x="748" y="2632"/>
<use href="#s115" x="754" y="2632"/>
<use href="#s118" x="760" y="2632"/>
<use href="#s51" x="766" y="2632"/>
<use href="#s51" x="772" y="2632"/>
<use href="#s53" x="778" y="2632"/>
<use href="#s50" x="784" y="2632"/>
<use href="#s51" x="790" y="2632"/>
<use href="#s57" x="796" y="2632"/>
<use href="#s54" x="802" y="2632"/>
<use href="#s40" x="814" y="2632"/>
<use href="#s49" x="820" y="2632"/>
<use href="#s48" x="826" y="2632"/>
<use href="#s48" x="832" y="2632"/>
<use href="#s48" x="838" y="2632"/>
<use href="#s71" x="844" y="2632"/>
<use href="#s101" x="850" y="2632"/>
<use href="#s110" x="856" y="2632"/>
<use href="#s111" x="862" y="2632"/>
<use href="#s109" x="868" y="2632"/>
<use href="#s101" x="874" y="2632"/>
<use href="#s115" x="880" y="2632"/>
<use href="#s67" x="886" y="2632"/>
<use href="#s111" x="892" y="2632"/>
<use href="#s110" x="898" y="2632"/>
<use href="#s115" x="904" y="2632"/>
<use href="#s111" x="910" y="2632"/>
<use href="#s114" x="916" y="2632"/>
<use href="#s116" x="922" y="2632"/>
<use href="#s105" x="928" y="2632"/>
<use href="#s117" x="934" y="2632"/>
<use href="#s109" x="940" y="2632"/>
<use href="#s80" x="946" y="2632"/>
<use href="#s105" x="952" y="2632"/>
<use href="#s108" x="958" y="2632"/>
<use href="#s111" x="964" y="2632"/>
<use href="#s116" x="970" y="2632"/>
<use href="#s80" x="976" y="2632"/>
<use href="#s114" x="982" y="2632"/>
<use href="#s111" x="988" y="2632"/>
<use href="#s106" x="994" y="2632"/>
<use href="#s101" x="1000" y="2632"/>
<use href="#s99" x="1006" y="2632"/>
<use href="#s116" x="1012" y="2632"/>
<use href="#s41" x="1018" y="2632"/>
<rect x="748" y="2648" width="62" height="1" fill="#0000ff"/>
<rect x="748" y="2646" width="2" height="6" fill="#0000ff"/>
<rect x="808" y="2646" width="2" height="6" fill="#0000ff"/>
<rect x="753" y="2646" width="51" height="6" fill="#0000ff"/>
<use href="#s110" x="748" y="2653"/>
<use href="#s115" x="754" y="2653"/>
<use href="#s118" x="760" y="2653"/>
<use href="#s53" x="766" y="2653"/>
<use href="#s55" x="772" y="2653"/>
<use href="#s53" x="778" y="2653"/>
<use href="#s50" x="784" y="2653"/>
<use href="#s52" x="790" y="2653"/>
<use href="#s54" x="796" y="2653"/>
<use href="#s40" x="808" y="2653"/>
<use href="#s67" x="814" y="2653"/>
<use href="#s111" x="820" y="2653"/>
<use href="#s111" x="826" y="2653"/>
<use href="#s112" x="832" y="2653"/>
<use href="#s101" x="838" y="2653"/>
<use href="#s114" x="844" y="2653"/>
<use href="#s50" x="850" y="2653"/>
<use href="#s48" x="856" y="2653"/>
<use href="#s49" x="862" y="2653"/>
<use href="#s49" x="868" y="2653"/>
<use href="#s41" x="874" y="2653"/>
<rect x="748" y="2667" width="4" height="6" fill="#8b4513"/>
<use href="#s110" x="748" y="2674"/>
<use href="#s115" x="754" y="2674"/>
<use href="#s118" x="760" y="2674"/>
<use href="#s53" x="766" y="2674"/>
<use href="#s55" x="772" y="2674"/>
<use href="#s53" x="778" y="2674"/>
<use href="#s50" x="784" y="2674"/>
<use href="#s52" x="790" y="2674"/>
<use href="#s55" x="796" y="2674"/>
<use href="#s40" x="808" y="2674"/>
<use href="#s67" x="814" y="2674"/>
<use href="#s111" x="820" y="2674"/>
<use href="#s111" x="826" y="2674"/>
<use href="#s112" x="832" y="2674"/>
<use href="#s101" x="838" y="2674"/>
<use href="#s114" x="844" y="2674"/>
<use href="#s50" x="850" y="2674"/>
<use href="#s48" x="856" y="2674"/>
<use href="#s49" x="862" y="2674"/>
<use href="#s49" x="868" y="2674"/>
<use href="#s41" x="874" y="2674"/>
<rect x="748" y="2688" width="18" height="6" fill="#ff0000"/>
<use href="#s100" x="748" y="2695"/>
<use href="#s103" x="754" y="2695"/>
<use href="#s118" x="760" y="2695"/>
<use href="#s53" x="766" y="2695"/>
<use href="#s54" x="772" y="2695"/>
<use href="#s52" x="778" y="2695"/>
<use href="#s48" x="784" y="2695"/>
<use href="#s110" x="790" y="2695"/>
<use href="#s53" x="796" y="2695"/>
<use href="#s52" x="802" y="2695"/>
<use href="#s40" x="814" y="2695"/>
<use href="#s67" x="820" y="2695"/>
<use href="#s111" x="826" y="2695"/>
<use href="#s111" x="832" y="2695"/>
<use href="#s112" x="838" y="2695"/>
<use href="#s101" x="844" y="2695"/>
<use href="#s114" x="850" y="2695"/>
<use href="#s50" x="856" y="2695"/>
<use href="#s48" x="862" y="2695"/>
<use href="#s49" x="868" y="2695"/>
<use href="#s49" x="874" y="2695"/>
<use href="#s41" x="880" y="2695"/>
<rect x="748" y="2709" width="4" height="6" fill="#ff0000"/>
<use href="#b82" x="60" y="2736"/>
<use href="#b101" x="67" y="2736"/>
<use href="#b102" x="74" y="2736"/>
<use href="#b83" x="81" y="2736"/>
<use href="#b101" x="88" y="2736"/>
<use href="#b113" x="95" y="2736"/>
<use href="#b71" x="109" y="2736"/>
<use href="#b101" x="116" y="2736"/>
<use href="#b110" x="123" y="2736"/>
<use href="#b101" x="130" y="2736"/>
<use href="#b115" x="137" y="2736"/>
<use href="#s75" x="61" y="2748"/>
<use href="#s65" x="67" y="2748"/>
<use href="#s78" x="73" y="2748"/>
<use href="#s83" x="79" y="2748"/>
<use href="#s76" x="85" y="2748"/>
<use href="#s49" x="91" y="2748"/>
<use href="#s124" x="97" y="2748"/>
<use href="#s78" x="103" y="2748"/>
<use href="#s77" x="109" y="2748"/>
<use href="#s95" x="115" y="2748"/>
<use href="#s48" x="121" y="2748"/>
<use href="#s49" x="127" y="2748"/>
<use href="#s53" x="133" y="2748"/>
<use href="#s52" x="139" y="2748"/>
<use href="#s52" x="145" y="2748"/>
<use href="#s51" x="151" y="2748"/>
<path d="M59 2766.5 L90.5 2762.5 L122 2766.5" stroke="#ff00ff" stroke-width="1" fill="none"/>
<path d="M124 2766.5 L125.5 2762.5 L127 2766.5" stroke="#ff00ff" stroke-width="1" fill="none"/>
<path d="M129 2766.5 L165.0 2762.5 L201 2766.5" stroke="#ff00ff" stroke-width="1" fill="none"/>
<path d="M203 2766.5 L232.0 2762.5 L261 2766.5" stroke="#ff00ff" stroke-width="1" fill="none"/>
<path d="M263 2766.5 L450.5 2762.5 L638 2766.5" stroke="#ff00ff" stroke-width="1" fill="none"/>
<path d="M646 2766.5 L696.5 2762.5 L747 2766.5" stroke="#ff00ff" stroke-width="1" fill="none"/>
<rect x="122" y="2762" width="2" height="10" fill="#ff00ff"/>
<rect x="127" y="2762" width="2" height="10" fill="#ff00ff"/>
<rect x="201" y="2762" width="2" height="10" fill="#ff00ff"/>
<rect x="261" y="2762" width="2" height="10" fill="#ff00ff"/>
<rect x="638" y="2762" width="8" height="10" fill="#ff00ff"/>
<rect x="747" y="2762" width="2" height="10" fill="#ff00ff"/>
<path d="M118 2763h1v1h-1zM117 2764h1v1h-1zM116 2765h1v1h-1zM115 2766h7v1h-7zM116 2767h1v1h-1zM117 2768h1v1h-1zM118 2769h1v1h-1z" fill="#ff00ff"/>
<use href="#s75" x="61" y="2773"/>
<use href="#s65" x="67" y="2773"/>
<use href="#s78" x="73" y="2773"/>
<use href="#s83" x="79" y="2773"/>
<use href="#s76" x="85" y="2773"/>
<use href="#s49" x="91" y="2773"/>
<use href="#s124" x="97" y="2773"/>
<use href="#s78" x="103" y="2773"/>
<use href="#s77" x="109" y="2773"/>
<use href="#s95" x="115" y="2773"/>
<use href="#s48" x="121" y="2773"/>
<use href="#s48" x="127" y="2773"/>
<use href="#s49" x="133" y="2773"/>
<use href="#s49" x="139" y="2773"/>
<use href="#s57" x="145" y="2773"/>
<use href="#s51" x="151" y="2773"/>
<use href="#s52" x="157" y="2773"/>
<use href="#s54" x="163" y="2773"/>
<use href="#s54" x="169" y="2773"/>
<path d="M59 2791.5 L90.5 2787.5 L122 2791.5" stroke="#ff00ff" stroke-width="1" fill="none"/>
<path d="M124 2791.5 L125.5 2787.5 L127 2791.5" stroke="#ff00ff" stroke-width="1" fill="none"/>
<path d="M129 2791.5 L165.0 2787.5 L201 2791.5" stroke="#ff00ff" stroke-width="1" fill="none"/>
<path d="M203 2791.5 L232.0 2787.5 L261 2791.5" stroke="#ff00ff" stroke-width="1" fill="none"/>
<path d="M263 2791.5 L450.5 2787.5 L638 2791.5" stroke="#ff00ff" stroke-width="1" fill="none"/>
<path d="M646 2791.5 L695.5 2787.5 L745 2791.5" stroke="#ff00ff" stroke-width="1" fill="none"/>
<rect x="122" y="2787" width="2" height="10" fill="#ff00ff"/>
<rect x="127" y="2787" width="2" height="10" fill="#ff00ff"/>
<rect x="201" y="2787" width="2" height="10" fill="#ff00ff"/>
<rect x="261" y="2787" width="2" height="10" fill="#ff00ff"/>
<rect x="638" y="2787" width="8" height="10" fill="#ff00ff"/>
<rect x="745" y="2787" width="3" height="10" fill="#ff00ff"/>
<path d="M118 2788h1v1h-1zM117 2789h1v1h-1zM116 2790h1v1h-1zM115 2791h7v1h-7zM116 2792h1v1h-1zM117 2793h1v1h-1zM118 2794h1v1h-1z" fill="#ff00ff"/>
<use href="#s75" x="61" y="2798"/>
<use href="#s65" x="67" y="2798"/>
<use href="#s78" x="73" y="2798"/>
<use href="#s83" x="79" y="2798"/>
<use href="#s76" x="85" y="2798"/>
<use href="#s49" x="91" y="2798"/>
<use href="#s124" x="97" y="2798"/>
<use href="#s78" x="103" y="2798"/>
<use href="#s77" x="109" y="2798"/>
<use href="#s95" x="115" y="2798"/>
<use href="#s48" x="121" y="2798"/>
<use href="#s48" x="127" y="2798"/>
<use href="#s49" x="133" y="2798"/>
<use href="#s49" x="139" y="2798"/>
<use href="#s57" x="145" y="2798"/>
<use href="#s51" x="151" y="2798"/>
<use href="#s52" x="157" y="2798"/>
<use href="#s54" x="163" y="2798"/>
<use href="#s53" x="169" y="2798"/>
<path d="M59 2816.5 L90.5 2812.5 L122 2816.5" stroke="#ff00ff" stroke-width="1" fill="none"/>
<path d="M124 2816.5 L125.5 2812.5 L127 2816.5" stroke="#ff00ff" stroke-width="1" fill="none"/>
<path d="M129 2816.5 L165.0 2812.5 L201 2816.5" stroke="#ff00ff" stroke-width="1" fill="none"/>
<path d="M203 2816.5 L232.0 2812.5 L261 2816.5" stroke="#ff00ff" stroke-width="1" fill="none"/>
<path d="M263 2816.5 L450.5 2812.5 L638 2816.5" stroke="#ff00ff" stroke-width="1" fill="none"/>
<path d="M646 2816.5 L753.5 2812.5 L861 2816.5" stroke="#ff00ff" stroke-width="1" fill="none"/>
<rect x="122" y="2812" width="2" height="10" fill="#ff00ff"/>
<rect x="127" y="2812" width="2" height="10" fill="#ff00ff"/>
<rect x="201" y="2812" width="2" height="10" fill="#ff00ff"/>
<rect x="261" y="2812" width="2" height="10" fill="#ff00ff"/>
<rect x="638" y="2812" width="8" height="10" fill="#ff00ff"/>
<path d="M118 2813h1v1h-1zM117 2814h1v1h-1zM116 2815h1v1h-1zM115 2816h7v1h-7zM116 2817h1v1h-1zM117 2818h1v1h-1zM118 2819h1v1h-1z" fill="#ff00ff"/>
<use href="#s75" x="751" y="2748"/>
<use href="#s65" x="757" y="2748"/>
<use href="#s78" x="763" y="2748"/>
<use href="#s83" x="769" y="2748"/>
<use href="#s76" x="775" y="2748"/>
<use href="#s49" x="781" y="2748"/>
<use href="#s45" x="787" y="2748"/>
<use href="#s65" x="793" y="2748"/>
<use href="#s83" x="799" y="2748"/>
<use href="#s49" x="805" y="2748"/>
<use href="#s124" x="811" y="2748"/>
<use href="#s78" x="817" y="2748"/>
<use href="#s82" x="823" y="2748"/>
<use href="#s95" x="829" y="2748"/>
<use href="#s48" x="835" y="2748"/>
<use href="#s51" x="841" y="2748"/>
<use href="#s52" x="847" y="2748"/>
<use href="#s49" x="853" y="2748"/>
<use href="#s55" x="859" y="2748"/>
<use href="#s50" x="865" y="2748"/>
<rect x="751" y="2762" width="2" height="10" fill="#ff00ff"/>
<rect x="765" y="2762" width="2" height="10" fill="#ff00ff"/>
<path d="M753 2766.5 L759.0 2762.5 L765 2766.5" stroke="#ff00ff" stroke-width="1" fill="none"/>
<path d="M767 2766h8v1h-8zM771 2763h1v1h-1zM772 2764h1v1h-1zM773 2765h1v1h-1zM773 2767h1v1h-1zM772 2768h1v1h-1zM771 2769h1v1h-1z" fill="#ff00ff"/>
<use href="#b68" x="60" y="2873"/>
<use href="#b69" x="67" y="2873"/>
<use href="#b67" x="74" y="2873"/>
<use href="#b73" x="81" y="2873"/>
<use href="#b80" x="88" y="2873"/>
<use href="#b72" x="95" y="2873"/>
<use href="#b69" x="102" y="2873"/>
<use href="#b82" x="109" y="2873"/>
<use href="#b71" x="123" y="2873"/>
<use href="#b101" x="130" y="2873"/>
<use href="#b110" x="137" y="2873"/>
<use href="#b111" x="144" y="2873"/>
<use href="#b109" x="151" y="2873"/>
<use href="#b105" x="158" y="2873"/>
<use href="#b99" x="165" y="2873"/>
<use href="#b68" x="179" y="2873"/>
<use href="#b105" x="186" y="2873"/>
<use href="#b115" x="193" y="2873"/>
<use href="#b111" x="200" y="2873"/>
<use href="#b114" x="207" y="2873"/>
<use href="#b100" x="214" y="2873"/>
<use href="#b101" x="221" y="2873"/>
<use href="#b114" x="228" y="2873"/>
<use href="#b115" x="235" y="2873"/>
<use href="#s99" x="61" y="2885"/>
<use href="#s104" x="67" y="2885"/>
<use href="#s114" x="73" y="2885"/>
<use href="#s49" x="79" y="2885"/>
<use href="#s55" x="85" y="2885"/>
<use href="#s58" x="91" y="2885"/>
<use href="#s52" x="97" y="2885"/>
<use href="#s49" x="103" y="2885"/>
<use href="#s53" x="109" y="2885"/>
<use href="#s54" x="115" y="2885"/>
<use href="#s53" x="121" y="2885"/>
<use href="#s57" x="127" y="2885"/>
<use href="#s56" x="133" y="2885"/>
<use href="#s50" x="139" y="2885"/>
<use href="#s45" x="145" y="2885"/>
<use href="#s53" x="151" y="2885"/>
<use href="#s55" x="157" y="2885"/>
<use href="#s55" x="163" y="2885"/>
<use href="#s55" x="169" y="2885"/>
<use href="#s51" x="175" y="2885"/>
<use href="#s52" x="181" y="2885"/>
<use href="#s124" x="187" y="2885"/>
<use href="#s49" x="193" y="2885"/>
<use href="#s55" x="199" y="2885"/>
<use href="#s113" x="205" y="2885"/>
<use href="#s50" x="211" y="2885"/>
<use href="#s49" x="217" y="2885"/>
<use href="#s46" x="223" y="2885"/>
<use href="#s51" x="229" y="2885"/>
<use href="#s114" x="241" y="2885"/>
<use href="#s101" x="247" y="2885"/>
<use href="#s99" x="253" y="2885"/>
<use href="#s117" x="259" y="2885"/>
<use href="#s114" x="265" y="2885"/>
<use href="#s114" x="271" y="2885"/>
<use href="#s101" x="277" y="2885"/>
<use href="#s110" x="283" y="2885"/>
<use href="#s116" x="289" y="2885"/>
<use href="#s109" x="301" y="2885"/>
<use href="#s105" x="307" y="2885"/>
<use href="#s99" x="313" y="2885"/>
<use href="#s114" x="319" y="2885"/>
<use href="#s111" x="325" y="2885"/>
<use href="#s100" x="331" y="2885"/>
<use href="#s101" x="337" y="2885"/>
<use href="#s108" x="343" y="2885"/>
<use href="#s101" x="349" y="2885"/>
<use href="#s116" x="355" y="2885"/>
<use href="#s105" x="361" y="2885"/>
<use href="#s111" x="367" y="2885"/>
<use href="#s110" x="373" y="2885"/>
<use href="#s115" x="385" y="2885"/>
<use href="#s121" x="391" y="2885"/>
<use href="#s110" x="397" y="2885"/>
<use href="#s100" x="403" y="2885"/>
<use href="#s114" x="409" y="2885"/>
<use href="#s111" x="415" y="2885"/>
<use href="#s109" x="421" y="2885"/>
<use href="#s101" x="427" y="2885"/>
<rect x="59" y="2899" width="392" height="3" fill="#000"/>
</svg></body></html>
